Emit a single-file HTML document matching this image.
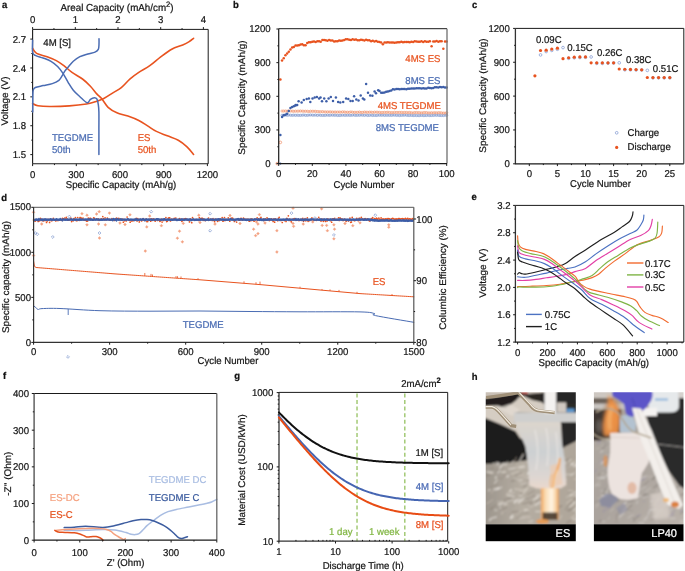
<!DOCTYPE html>
<html><head><meta charset="utf-8"><style>
html,body{margin:0;padding:0;background:#fff;width:685px;height:571px;overflow:hidden}
svg{display:block;will-change:transform}
text{font-family:"Liberation Sans", sans-serif;text-rendering:geometricPrecision;stroke:currentColor;stroke-width:0.22px}
</style></head><body>
<svg width="685" height="571" viewBox="0 0 685 571">
<rect width="685" height="571" fill="#fff"/>
<text x="2.00" y="8.30" font-size="9.5" text-anchor="start" fill="#111" color="#111" font-weight="bold" transform="translate(2.00 4.90) scale(1 1.035) translate(-2.00 -4.90)">a</text>
<line x1="32.60" y1="29.40" x2="208.20" y2="29.40" stroke="#1a1a1a" stroke-width="1"/>
<line x1="208.20" y1="29.40" x2="208.20" y2="163.80" stroke="#1a1a1a" stroke-width="1"/>
<line x1="32.60" y1="29.40" x2="32.60" y2="163.80" stroke="#1a1a1a" stroke-width="1.1"/>
<line x1="32.60" y1="163.80" x2="208.20" y2="163.80" stroke="#1a1a1a" stroke-width="1.1"/>
<line x1="32.60" y1="29.40" x2="32.60" y2="27.10" stroke="#1a1a1a" stroke-width="1"/>
<text x="32.60" y="23.24" font-size="9.6" text-anchor="middle" fill="#161616" color="#161616" font-weight="normal" transform="translate(32.60 19.80) scale(1 1.035) translate(-32.60 -19.80)">0</text>
<line x1="53.95" y1="29.40" x2="53.95" y2="28.10" stroke="#1a1a1a" stroke-width="1"/>
<line x1="75.30" y1="29.40" x2="75.30" y2="27.10" stroke="#1a1a1a" stroke-width="1"/>
<text x="75.30" y="23.24" font-size="9.6" text-anchor="middle" fill="#161616" color="#161616" font-weight="normal" transform="translate(75.30 19.80) scale(1 1.035) translate(-75.30 -19.80)">1</text>
<line x1="96.65" y1="29.40" x2="96.65" y2="28.10" stroke="#1a1a1a" stroke-width="1"/>
<line x1="118.00" y1="29.40" x2="118.00" y2="27.10" stroke="#1a1a1a" stroke-width="1"/>
<text x="118.00" y="23.24" font-size="9.6" text-anchor="middle" fill="#161616" color="#161616" font-weight="normal" transform="translate(118.00 19.80) scale(1 1.035) translate(-118.00 -19.80)">2</text>
<line x1="139.35" y1="29.40" x2="139.35" y2="28.10" stroke="#1a1a1a" stroke-width="1"/>
<line x1="160.70" y1="29.40" x2="160.70" y2="27.10" stroke="#1a1a1a" stroke-width="1"/>
<text x="160.70" y="23.24" font-size="9.6" text-anchor="middle" fill="#161616" color="#161616" font-weight="normal" transform="translate(160.70 19.80) scale(1 1.035) translate(-160.70 -19.80)">3</text>
<line x1="182.05" y1="29.40" x2="182.05" y2="28.10" stroke="#1a1a1a" stroke-width="1"/>
<line x1="203.40" y1="29.40" x2="203.40" y2="27.10" stroke="#1a1a1a" stroke-width="1"/>
<text x="203.40" y="23.24" font-size="9.6" text-anchor="middle" fill="#161616" color="#161616" font-weight="normal" transform="translate(203.40 19.80) scale(1 1.035) translate(-203.40 -19.80)">4</text>
<text x="117.00" y="10.81" font-size="9.8" text-anchor="middle" fill="#161616" color="#161616" font-weight="normal" transform="translate(117.00 7.30) scale(1 1.035) translate(-117.00 -7.30)">Areal Capacity (mAh/cm<tspan font-size="7.6" dy="-4.2">2</tspan><tspan dy="4.2">)</tspan></text>
<line x1="32.60" y1="39.10" x2="30.30" y2="39.10" stroke="#1a1a1a" stroke-width="1"/>
<text x="26.00" y="42.54" font-size="9.6" text-anchor="end" fill="#161616" color="#161616" font-weight="normal" transform="translate(26.00 39.10) scale(1 1.035) translate(-26.00 -39.10)">2.7</text>
<line x1="32.60" y1="67.98" x2="30.30" y2="67.98" stroke="#1a1a1a" stroke-width="1"/>
<text x="26.00" y="71.41" font-size="9.6" text-anchor="end" fill="#161616" color="#161616" font-weight="normal" transform="translate(26.00 67.98) scale(1 1.035) translate(-26.00 -67.98)">2.4</text>
<line x1="32.60" y1="96.85" x2="30.30" y2="96.85" stroke="#1a1a1a" stroke-width="1"/>
<text x="26.00" y="100.29" font-size="9.6" text-anchor="end" fill="#161616" color="#161616" font-weight="normal" transform="translate(26.00 96.85) scale(1 1.035) translate(-26.00 -96.85)">2.1</text>
<line x1="32.60" y1="125.73" x2="30.30" y2="125.73" stroke="#1a1a1a" stroke-width="1"/>
<text x="26.00" y="129.16" font-size="9.6" text-anchor="end" fill="#161616" color="#161616" font-weight="normal" transform="translate(26.00 125.73) scale(1 1.035) translate(-26.00 -125.73)">1.8</text>
<line x1="32.60" y1="154.60" x2="30.30" y2="154.60" stroke="#1a1a1a" stroke-width="1"/>
<text x="26.00" y="158.04" font-size="9.6" text-anchor="end" fill="#161616" color="#161616" font-weight="normal" transform="translate(26.00 154.60) scale(1 1.035) translate(-26.00 -154.60)">1.5</text>
<line x1="32.60" y1="53.54" x2="31.30" y2="53.54" stroke="#1a1a1a" stroke-width="1"/>
<line x1="32.60" y1="82.41" x2="31.30" y2="82.41" stroke="#1a1a1a" stroke-width="1"/>
<line x1="32.60" y1="111.29" x2="31.30" y2="111.29" stroke="#1a1a1a" stroke-width="1"/>
<line x1="32.60" y1="140.16" x2="31.30" y2="140.16" stroke="#1a1a1a" stroke-width="1"/>
<text x="4.20" y="104.44" font-size="9.6" text-anchor="middle" fill="#161616" color="#161616" font-weight="normal" transform="translate(4.20 101.00) scale(1 1.035) translate(-4.20 -101.00) rotate(-90 4.20 101.00)">Voltage (V)</text>
<line x1="32.60" y1="163.80" x2="32.60" y2="166.10" stroke="#1a1a1a" stroke-width="1"/>
<text x="32.60" y="178.14" font-size="9.6" text-anchor="middle" fill="#161616" color="#161616" font-weight="normal" transform="translate(32.60 174.70) scale(1 1.035) translate(-32.60 -174.70)">0</text>
<line x1="76.30" y1="163.80" x2="76.30" y2="166.10" stroke="#1a1a1a" stroke-width="1"/>
<text x="76.30" y="178.14" font-size="9.6" text-anchor="middle" fill="#161616" color="#161616" font-weight="normal" transform="translate(76.30 174.70) scale(1 1.035) translate(-76.30 -174.70)">300</text>
<line x1="120.00" y1="163.80" x2="120.00" y2="166.10" stroke="#1a1a1a" stroke-width="1"/>
<text x="120.00" y="178.14" font-size="9.6" text-anchor="middle" fill="#161616" color="#161616" font-weight="normal" transform="translate(120.00 174.70) scale(1 1.035) translate(-120.00 -174.70)">600</text>
<line x1="163.70" y1="163.80" x2="163.70" y2="166.10" stroke="#1a1a1a" stroke-width="1"/>
<text x="163.70" y="178.14" font-size="9.6" text-anchor="middle" fill="#161616" color="#161616" font-weight="normal" transform="translate(163.70 174.70) scale(1 1.035) translate(-163.70 -174.70)">900</text>
<line x1="207.40" y1="163.80" x2="207.40" y2="166.10" stroke="#1a1a1a" stroke-width="1"/>
<text x="207.40" y="178.14" font-size="9.6" text-anchor="middle" fill="#161616" color="#161616" font-weight="normal" transform="translate(207.40 174.70) scale(1 1.035) translate(-207.40 -174.70)">1200</text>
<line x1="54.45" y1="163.80" x2="54.45" y2="165.10" stroke="#1a1a1a" stroke-width="1"/>
<line x1="98.15" y1="163.80" x2="98.15" y2="165.10" stroke="#1a1a1a" stroke-width="1"/>
<line x1="141.85" y1="163.80" x2="141.85" y2="165.10" stroke="#1a1a1a" stroke-width="1"/>
<line x1="185.55" y1="163.80" x2="185.55" y2="165.10" stroke="#1a1a1a" stroke-width="1"/>
<text x="121.00" y="187.44" font-size="9.6" text-anchor="middle" fill="#161616" color="#161616" font-weight="normal" transform="translate(121.00 184.00) scale(1 1.035) translate(-121.00 -184.00)">Specific Capacity (mAh/g)</text>
<text x="43.30" y="45.84" font-size="9.6" text-anchor="start" fill="#161616" color="#161616" font-weight="normal" transform="translate(43.30 42.40) scale(1 1.035) translate(-43.30 -42.40)">4M [S]</text>
<text x="52.00" y="140.44" font-size="9.6" text-anchor="start" fill="#4a6cb3" color="#4a6cb3" font-weight="normal" transform="translate(52.00 137.00) scale(1 1.035) translate(-52.00 -137.00)">TEGDME</text>
<text x="52.00" y="153.04" font-size="9.6" text-anchor="start" fill="#4a6cb3" color="#4a6cb3" font-weight="normal" transform="translate(52.00 149.60) scale(1 1.035) translate(-52.00 -149.60)">50th</text>
<text x="137.70" y="140.94" font-size="9.6" text-anchor="start" fill="#e8531f" color="#e8531f" font-weight="normal" transform="translate(137.70 137.50) scale(1 1.035) translate(-137.70 -137.50)">ES</text>
<text x="137.70" y="152.84" font-size="9.6" text-anchor="start" fill="#e8531f" color="#e8531f" font-weight="normal" transform="translate(137.70 149.40) scale(1 1.035) translate(-137.70 -149.40)">50th</text>
<path d="M32.60,48.30 C33.27,49.15 34.18,52.00 36.60,53.40 C39.02,54.80 43.82,55.50 47.10,56.70 C50.38,57.90 53.45,59.07 56.30,60.60 C59.15,62.13 61.58,63.93 64.20,65.90 C66.82,67.87 68.95,70.22 72.00,72.40 C75.05,74.58 79.43,76.70 82.50,79.00 C85.57,81.30 87.98,83.68 90.40,86.20 C92.82,88.72 95.13,92.05 97.00,94.10 C98.87,96.15 99.75,96.30 101.60,98.50 C103.45,100.70 105.55,104.92 108.10,107.30 C110.65,109.68 113.60,111.33 116.90,112.80 C120.20,114.27 124.25,114.82 127.90,116.10 C131.55,117.38 135.52,118.87 138.80,120.50 C142.08,122.13 144.67,124.08 147.60,125.90 C150.53,127.72 153.12,129.75 156.40,131.40 C159.68,133.05 163.65,134.33 167.30,135.80 C170.95,137.27 175.02,138.37 178.30,140.20 C181.58,142.03 184.45,144.43 187.00,146.80 C189.55,149.17 192.50,153.13 193.60,154.40" fill="none" stroke="#e8531f" stroke-width="1.6" stroke-linejoin="round" stroke-linecap="round"/>
<path d="M32.60,103.50 C33.48,103.87 35.05,105.20 37.90,105.70 C40.75,106.20 44.45,106.47 49.70,106.50 C54.95,106.53 63.27,106.32 69.40,105.90 C75.53,105.48 82.23,104.68 86.50,104.00 C90.77,103.32 92.12,102.72 95.00,101.80 C97.88,100.88 100.88,99.95 103.80,98.50 C106.72,97.05 109.58,94.92 112.50,93.10 C115.42,91.28 118.37,89.98 121.30,87.60 C124.23,85.22 127.18,81.35 130.10,78.80 C133.02,76.25 135.52,74.48 138.80,72.30 C142.08,70.12 146.15,68.27 149.80,65.70 C153.45,63.13 157.05,59.65 160.70,56.90 C164.35,54.15 168.03,51.20 171.70,49.20 C175.37,47.20 179.78,46.17 182.70,44.90 C185.62,43.63 187.38,42.70 189.20,41.60 C191.02,40.50 192.87,38.85 193.60,38.30" fill="none" stroke="#e8531f" stroke-width="1.6" stroke-linejoin="round" stroke-linecap="round"/>
<path d="M32.70,112.00 C32.72,109.33 32.72,99.63 32.80,96.00 C32.88,92.37 32.78,91.62 33.20,90.20 C33.62,88.78 33.65,88.27 35.30,87.50 C36.95,86.73 40.27,86.25 43.10,85.60 C45.93,84.95 49.67,84.48 52.30,83.60 C54.93,82.72 57.25,81.62 58.90,80.30 C60.55,78.98 61.22,77.23 62.20,75.70 C63.18,74.17 63.82,72.52 64.80,71.10 C65.78,69.68 66.68,68.83 68.10,67.20 C69.52,65.57 71.33,63.05 73.30,61.30 C75.27,59.55 77.48,57.92 79.90,56.70 C82.32,55.48 85.28,54.77 87.80,54.00 C90.32,53.23 93.25,52.87 95.00,52.10 C96.75,51.33 97.63,50.72 98.30,49.40 C98.97,48.08 98.88,45.98 99.00,44.20 C99.12,42.42 99.00,39.62 99.00,38.70" fill="none" stroke="#4a6cb3" stroke-width="1.5" stroke-linejoin="round" stroke-linecap="round"/>
<path d="M32.60,40.30 C32.60,42.28 32.15,49.68 32.60,52.20 C33.05,54.72 33.55,54.43 35.30,55.40 C37.05,56.37 40.48,57.02 43.10,58.00 C45.72,58.98 48.58,59.88 51.00,61.30 C53.42,62.72 55.63,64.53 57.60,66.50 C59.57,68.47 61.05,70.47 62.80,73.10 C64.55,75.73 66.35,79.45 68.10,82.30 C69.85,85.15 71.33,87.80 73.30,90.20 C75.27,92.60 77.60,94.60 79.90,96.70 C82.20,98.80 85.35,102.35 87.10,102.80 C88.85,103.25 89.18,100.23 90.40,99.40 C91.62,98.57 93.30,97.83 94.40,97.80 C95.50,97.77 96.35,98.07 97.00,99.20 C97.65,100.33 97.98,102.47 98.30,104.60 C98.62,106.73 98.80,107.77 98.90,112.00 C99.00,116.23 98.90,122.93 98.90,130.00 C98.90,137.07 98.90,150.33 98.90,154.40" fill="none" stroke="#4a6cb3" stroke-width="1.5" stroke-linejoin="round" stroke-linecap="round"/>
<text x="233.00" y="8.30" font-size="9.5" text-anchor="start" fill="#111" color="#111" font-weight="bold" transform="translate(233.00 4.90) scale(1 1.035) translate(-233.00 -4.90)">b</text>
<circle cx="282.06" cy="115.22" r="1.1" fill="none" stroke="#6f8cc8" stroke-width="0.6"/>
<circle cx="283.74" cy="115.30" r="1.1" fill="none" stroke="#6f8cc8" stroke-width="0.6"/>
<circle cx="285.42" cy="115.08" r="1.1" fill="none" stroke="#6f8cc8" stroke-width="0.6"/>
<circle cx="287.10" cy="115.35" r="1.1" fill="none" stroke="#6f8cc8" stroke-width="0.6"/>
<circle cx="288.78" cy="115.14" r="1.1" fill="none" stroke="#6f8cc8" stroke-width="0.6"/>
<circle cx="290.46" cy="115.22" r="1.1" fill="none" stroke="#6f8cc8" stroke-width="0.6"/>
<circle cx="292.14" cy="115.36" r="1.1" fill="none" stroke="#6f8cc8" stroke-width="0.6"/>
<circle cx="293.82" cy="115.16" r="1.1" fill="none" stroke="#6f8cc8" stroke-width="0.6"/>
<circle cx="295.50" cy="115.38" r="1.1" fill="none" stroke="#6f8cc8" stroke-width="0.6"/>
<circle cx="297.18" cy="115.20" r="1.1" fill="none" stroke="#6f8cc8" stroke-width="0.6"/>
<circle cx="298.86" cy="115.37" r="1.1" fill="none" stroke="#6f8cc8" stroke-width="0.6"/>
<circle cx="300.54" cy="115.36" r="1.1" fill="none" stroke="#6f8cc8" stroke-width="0.6"/>
<circle cx="302.22" cy="115.22" r="1.1" fill="none" stroke="#6f8cc8" stroke-width="0.6"/>
<circle cx="303.90" cy="115.04" r="1.1" fill="none" stroke="#6f8cc8" stroke-width="0.6"/>
<circle cx="305.58" cy="115.36" r="1.1" fill="none" stroke="#6f8cc8" stroke-width="0.6"/>
<circle cx="307.26" cy="115.32" r="1.1" fill="none" stroke="#6f8cc8" stroke-width="0.6"/>
<circle cx="308.94" cy="115.14" r="1.1" fill="none" stroke="#6f8cc8" stroke-width="0.6"/>
<circle cx="310.62" cy="115.00" r="1.1" fill="none" stroke="#6f8cc8" stroke-width="0.6"/>
<circle cx="312.30" cy="115.17" r="1.1" fill="none" stroke="#6f8cc8" stroke-width="0.6"/>
<circle cx="313.98" cy="115.25" r="1.1" fill="none" stroke="#6f8cc8" stroke-width="0.6"/>
<circle cx="315.66" cy="115.00" r="1.1" fill="none" stroke="#6f8cc8" stroke-width="0.6"/>
<circle cx="317.34" cy="115.42" r="1.1" fill="none" stroke="#6f8cc8" stroke-width="0.6"/>
<circle cx="319.02" cy="115.06" r="1.1" fill="none" stroke="#6f8cc8" stroke-width="0.6"/>
<circle cx="320.70" cy="115.32" r="1.1" fill="none" stroke="#6f8cc8" stroke-width="0.6"/>
<circle cx="322.38" cy="115.38" r="1.1" fill="none" stroke="#6f8cc8" stroke-width="0.6"/>
<circle cx="324.06" cy="115.40" r="1.1" fill="none" stroke="#6f8cc8" stroke-width="0.6"/>
<circle cx="325.74" cy="115.32" r="1.1" fill="none" stroke="#6f8cc8" stroke-width="0.6"/>
<circle cx="327.42" cy="115.09" r="1.1" fill="none" stroke="#6f8cc8" stroke-width="0.6"/>
<circle cx="329.10" cy="115.38" r="1.1" fill="none" stroke="#6f8cc8" stroke-width="0.6"/>
<circle cx="330.78" cy="115.20" r="1.1" fill="none" stroke="#6f8cc8" stroke-width="0.6"/>
<circle cx="332.46" cy="115.18" r="1.1" fill="none" stroke="#6f8cc8" stroke-width="0.6"/>
<circle cx="334.14" cy="115.31" r="1.1" fill="none" stroke="#6f8cc8" stroke-width="0.6"/>
<circle cx="335.82" cy="115.23" r="1.1" fill="none" stroke="#6f8cc8" stroke-width="0.6"/>
<circle cx="337.50" cy="115.45" r="1.1" fill="none" stroke="#6f8cc8" stroke-width="0.6"/>
<circle cx="339.18" cy="115.46" r="1.1" fill="none" stroke="#6f8cc8" stroke-width="0.6"/>
<circle cx="340.86" cy="115.39" r="1.1" fill="none" stroke="#6f8cc8" stroke-width="0.6"/>
<circle cx="342.54" cy="115.18" r="1.1" fill="none" stroke="#6f8cc8" stroke-width="0.6"/>
<circle cx="344.22" cy="115.30" r="1.1" fill="none" stroke="#6f8cc8" stroke-width="0.6"/>
<circle cx="345.90" cy="115.36" r="1.1" fill="none" stroke="#6f8cc8" stroke-width="0.6"/>
<circle cx="347.58" cy="115.24" r="1.1" fill="none" stroke="#6f8cc8" stroke-width="0.6"/>
<circle cx="349.26" cy="115.30" r="1.1" fill="none" stroke="#6f8cc8" stroke-width="0.6"/>
<circle cx="350.94" cy="115.37" r="1.1" fill="none" stroke="#6f8cc8" stroke-width="0.6"/>
<circle cx="352.62" cy="115.15" r="1.1" fill="none" stroke="#6f8cc8" stroke-width="0.6"/>
<circle cx="354.30" cy="115.20" r="1.1" fill="none" stroke="#6f8cc8" stroke-width="0.6"/>
<circle cx="355.98" cy="115.41" r="1.1" fill="none" stroke="#6f8cc8" stroke-width="0.6"/>
<circle cx="357.66" cy="115.26" r="1.1" fill="none" stroke="#6f8cc8" stroke-width="0.6"/>
<circle cx="359.34" cy="115.29" r="1.1" fill="none" stroke="#6f8cc8" stroke-width="0.6"/>
<circle cx="361.02" cy="115.13" r="1.1" fill="none" stroke="#6f8cc8" stroke-width="0.6"/>
<circle cx="362.70" cy="115.20" r="1.1" fill="none" stroke="#6f8cc8" stroke-width="0.6"/>
<circle cx="364.38" cy="115.40" r="1.1" fill="none" stroke="#6f8cc8" stroke-width="0.6"/>
<circle cx="366.06" cy="115.10" r="1.1" fill="none" stroke="#6f8cc8" stroke-width="0.6"/>
<circle cx="367.74" cy="115.49" r="1.1" fill="none" stroke="#6f8cc8" stroke-width="0.6"/>
<circle cx="369.42" cy="115.36" r="1.1" fill="none" stroke="#6f8cc8" stroke-width="0.6"/>
<circle cx="371.10" cy="115.21" r="1.1" fill="none" stroke="#6f8cc8" stroke-width="0.6"/>
<circle cx="372.78" cy="115.48" r="1.1" fill="none" stroke="#6f8cc8" stroke-width="0.6"/>
<circle cx="374.46" cy="115.33" r="1.1" fill="none" stroke="#6f8cc8" stroke-width="0.6"/>
<circle cx="376.14" cy="115.54" r="1.1" fill="none" stroke="#6f8cc8" stroke-width="0.6"/>
<circle cx="377.82" cy="115.26" r="1.1" fill="none" stroke="#6f8cc8" stroke-width="0.6"/>
<circle cx="379.50" cy="115.22" r="1.1" fill="none" stroke="#6f8cc8" stroke-width="0.6"/>
<circle cx="381.18" cy="115.31" r="1.1" fill="none" stroke="#6f8cc8" stroke-width="0.6"/>
<circle cx="382.86" cy="115.18" r="1.1" fill="none" stroke="#6f8cc8" stroke-width="0.6"/>
<circle cx="384.54" cy="115.43" r="1.1" fill="none" stroke="#6f8cc8" stroke-width="0.6"/>
<circle cx="386.22" cy="115.27" r="1.1" fill="none" stroke="#6f8cc8" stroke-width="0.6"/>
<circle cx="387.90" cy="115.31" r="1.1" fill="none" stroke="#6f8cc8" stroke-width="0.6"/>
<circle cx="389.58" cy="115.32" r="1.1" fill="none" stroke="#6f8cc8" stroke-width="0.6"/>
<circle cx="391.26" cy="115.38" r="1.1" fill="none" stroke="#6f8cc8" stroke-width="0.6"/>
<circle cx="392.94" cy="115.21" r="1.1" fill="none" stroke="#6f8cc8" stroke-width="0.6"/>
<circle cx="394.62" cy="115.17" r="1.1" fill="none" stroke="#6f8cc8" stroke-width="0.6"/>
<circle cx="396.30" cy="115.38" r="1.1" fill="none" stroke="#6f8cc8" stroke-width="0.6"/>
<circle cx="397.98" cy="115.30" r="1.1" fill="none" stroke="#6f8cc8" stroke-width="0.6"/>
<circle cx="399.66" cy="115.58" r="1.1" fill="none" stroke="#6f8cc8" stroke-width="0.6"/>
<circle cx="401.34" cy="115.29" r="1.1" fill="none" stroke="#6f8cc8" stroke-width="0.6"/>
<circle cx="403.02" cy="115.32" r="1.1" fill="none" stroke="#6f8cc8" stroke-width="0.6"/>
<circle cx="404.70" cy="115.17" r="1.1" fill="none" stroke="#6f8cc8" stroke-width="0.6"/>
<circle cx="406.38" cy="115.25" r="1.1" fill="none" stroke="#6f8cc8" stroke-width="0.6"/>
<circle cx="408.06" cy="115.49" r="1.1" fill="none" stroke="#6f8cc8" stroke-width="0.6"/>
<circle cx="409.74" cy="115.45" r="1.1" fill="none" stroke="#6f8cc8" stroke-width="0.6"/>
<circle cx="411.42" cy="115.33" r="1.1" fill="none" stroke="#6f8cc8" stroke-width="0.6"/>
<circle cx="413.10" cy="115.62" r="1.1" fill="none" stroke="#6f8cc8" stroke-width="0.6"/>
<circle cx="414.78" cy="115.43" r="1.1" fill="none" stroke="#6f8cc8" stroke-width="0.6"/>
<circle cx="416.46" cy="115.56" r="1.1" fill="none" stroke="#6f8cc8" stroke-width="0.6"/>
<circle cx="418.14" cy="115.59" r="1.1" fill="none" stroke="#6f8cc8" stroke-width="0.6"/>
<circle cx="419.82" cy="115.62" r="1.1" fill="none" stroke="#6f8cc8" stroke-width="0.6"/>
<circle cx="421.50" cy="115.30" r="1.1" fill="none" stroke="#6f8cc8" stroke-width="0.6"/>
<circle cx="423.18" cy="115.59" r="1.1" fill="none" stroke="#6f8cc8" stroke-width="0.6"/>
<circle cx="424.86" cy="115.54" r="1.1" fill="none" stroke="#6f8cc8" stroke-width="0.6"/>
<circle cx="426.54" cy="115.48" r="1.1" fill="none" stroke="#6f8cc8" stroke-width="0.6"/>
<circle cx="428.22" cy="115.27" r="1.1" fill="none" stroke="#6f8cc8" stroke-width="0.6"/>
<circle cx="429.90" cy="115.63" r="1.1" fill="none" stroke="#6f8cc8" stroke-width="0.6"/>
<circle cx="431.58" cy="115.47" r="1.1" fill="none" stroke="#6f8cc8" stroke-width="0.6"/>
<circle cx="433.26" cy="115.42" r="1.1" fill="none" stroke="#6f8cc8" stroke-width="0.6"/>
<circle cx="434.94" cy="115.28" r="1.1" fill="none" stroke="#6f8cc8" stroke-width="0.6"/>
<circle cx="436.62" cy="115.31" r="1.1" fill="none" stroke="#6f8cc8" stroke-width="0.6"/>
<circle cx="438.30" cy="115.29" r="1.1" fill="none" stroke="#6f8cc8" stroke-width="0.6"/>
<circle cx="439.98" cy="115.56" r="1.1" fill="none" stroke="#6f8cc8" stroke-width="0.6"/>
<circle cx="441.66" cy="115.50" r="1.1" fill="none" stroke="#6f8cc8" stroke-width="0.6"/>
<circle cx="443.34" cy="115.53" r="1.1" fill="none" stroke="#6f8cc8" stroke-width="0.6"/>
<circle cx="445.02" cy="115.30" r="1.1" fill="none" stroke="#6f8cc8" stroke-width="0.6"/>
<circle cx="446.70" cy="115.27" r="1.1" fill="none" stroke="#6f8cc8" stroke-width="0.6"/>
<circle cx="282.06" cy="111.04" r="1.1" fill="none" stroke="#f08a60" stroke-width="0.6"/>
<circle cx="283.74" cy="111.06" r="1.1" fill="none" stroke="#f08a60" stroke-width="0.6"/>
<circle cx="285.42" cy="111.06" r="1.1" fill="none" stroke="#f08a60" stroke-width="0.6"/>
<circle cx="287.10" cy="111.10" r="1.1" fill="none" stroke="#f08a60" stroke-width="0.6"/>
<circle cx="288.78" cy="111.01" r="1.1" fill="none" stroke="#f08a60" stroke-width="0.6"/>
<circle cx="290.46" cy="111.00" r="1.1" fill="none" stroke="#f08a60" stroke-width="0.6"/>
<circle cx="292.14" cy="111.18" r="1.1" fill="none" stroke="#f08a60" stroke-width="0.6"/>
<circle cx="293.82" cy="111.32" r="1.1" fill="none" stroke="#f08a60" stroke-width="0.6"/>
<circle cx="295.50" cy="111.17" r="1.1" fill="none" stroke="#f08a60" stroke-width="0.6"/>
<circle cx="297.18" cy="111.22" r="1.1" fill="none" stroke="#f08a60" stroke-width="0.6"/>
<circle cx="298.86" cy="111.17" r="1.1" fill="none" stroke="#f08a60" stroke-width="0.6"/>
<circle cx="300.54" cy="111.02" r="1.1" fill="none" stroke="#f08a60" stroke-width="0.6"/>
<circle cx="302.22" cy="111.17" r="1.1" fill="none" stroke="#f08a60" stroke-width="0.6"/>
<circle cx="303.90" cy="111.28" r="1.1" fill="none" stroke="#f08a60" stroke-width="0.6"/>
<circle cx="305.58" cy="111.27" r="1.1" fill="none" stroke="#f08a60" stroke-width="0.6"/>
<circle cx="307.26" cy="111.27" r="1.1" fill="none" stroke="#f08a60" stroke-width="0.6"/>
<circle cx="308.94" cy="111.58" r="1.1" fill="none" stroke="#f08a60" stroke-width="0.6"/>
<circle cx="310.62" cy="111.24" r="1.1" fill="none" stroke="#f08a60" stroke-width="0.6"/>
<circle cx="312.30" cy="111.32" r="1.1" fill="none" stroke="#f08a60" stroke-width="0.6"/>
<circle cx="313.98" cy="111.31" r="1.1" fill="none" stroke="#f08a60" stroke-width="0.6"/>
<circle cx="315.66" cy="111.38" r="1.1" fill="none" stroke="#f08a60" stroke-width="0.6"/>
<circle cx="317.34" cy="111.59" r="1.1" fill="none" stroke="#f08a60" stroke-width="0.6"/>
<circle cx="319.02" cy="111.62" r="1.1" fill="none" stroke="#f08a60" stroke-width="0.6"/>
<circle cx="320.70" cy="111.78" r="1.1" fill="none" stroke="#f08a60" stroke-width="0.6"/>
<circle cx="322.38" cy="111.58" r="1.1" fill="none" stroke="#f08a60" stroke-width="0.6"/>
<circle cx="324.06" cy="111.86" r="1.1" fill="none" stroke="#f08a60" stroke-width="0.6"/>
<circle cx="325.74" cy="111.89" r="1.1" fill="none" stroke="#f08a60" stroke-width="0.6"/>
<circle cx="327.42" cy="111.86" r="1.1" fill="none" stroke="#f08a60" stroke-width="0.6"/>
<circle cx="329.10" cy="111.91" r="1.1" fill="none" stroke="#f08a60" stroke-width="0.6"/>
<circle cx="330.78" cy="111.86" r="1.1" fill="none" stroke="#f08a60" stroke-width="0.6"/>
<circle cx="332.46" cy="112.02" r="1.1" fill="none" stroke="#f08a60" stroke-width="0.6"/>
<circle cx="334.14" cy="112.08" r="1.1" fill="none" stroke="#f08a60" stroke-width="0.6"/>
<circle cx="335.82" cy="112.04" r="1.1" fill="none" stroke="#f08a60" stroke-width="0.6"/>
<circle cx="337.50" cy="112.10" r="1.1" fill="none" stroke="#f08a60" stroke-width="0.6"/>
<circle cx="339.18" cy="112.01" r="1.1" fill="none" stroke="#f08a60" stroke-width="0.6"/>
<circle cx="340.86" cy="112.19" r="1.1" fill="none" stroke="#f08a60" stroke-width="0.6"/>
<circle cx="342.54" cy="111.84" r="1.1" fill="none" stroke="#f08a60" stroke-width="0.6"/>
<circle cx="344.22" cy="111.99" r="1.1" fill="none" stroke="#f08a60" stroke-width="0.6"/>
<circle cx="345.90" cy="112.23" r="1.1" fill="none" stroke="#f08a60" stroke-width="0.6"/>
<circle cx="347.58" cy="112.20" r="1.1" fill="none" stroke="#f08a60" stroke-width="0.6"/>
<circle cx="349.26" cy="112.31" r="1.1" fill="none" stroke="#f08a60" stroke-width="0.6"/>
<circle cx="350.94" cy="111.93" r="1.1" fill="none" stroke="#f08a60" stroke-width="0.6"/>
<circle cx="352.62" cy="112.18" r="1.1" fill="none" stroke="#f08a60" stroke-width="0.6"/>
<circle cx="354.30" cy="112.36" r="1.1" fill="none" stroke="#f08a60" stroke-width="0.6"/>
<circle cx="355.98" cy="112.30" r="1.1" fill="none" stroke="#f08a60" stroke-width="0.6"/>
<circle cx="357.66" cy="112.36" r="1.1" fill="none" stroke="#f08a60" stroke-width="0.6"/>
<circle cx="359.34" cy="112.02" r="1.1" fill="none" stroke="#f08a60" stroke-width="0.6"/>
<circle cx="361.02" cy="112.40" r="1.1" fill="none" stroke="#f08a60" stroke-width="0.6"/>
<circle cx="362.70" cy="112.46" r="1.1" fill="none" stroke="#f08a60" stroke-width="0.6"/>
<circle cx="364.38" cy="112.05" r="1.1" fill="none" stroke="#f08a60" stroke-width="0.6"/>
<circle cx="366.06" cy="112.19" r="1.1" fill="none" stroke="#f08a60" stroke-width="0.6"/>
<circle cx="367.74" cy="112.35" r="1.1" fill="none" stroke="#f08a60" stroke-width="0.6"/>
<circle cx="369.42" cy="112.18" r="1.1" fill="none" stroke="#f08a60" stroke-width="0.6"/>
<circle cx="371.10" cy="112.19" r="1.1" fill="none" stroke="#f08a60" stroke-width="0.6"/>
<circle cx="372.78" cy="112.46" r="1.1" fill="none" stroke="#f08a60" stroke-width="0.6"/>
<circle cx="374.46" cy="112.13" r="1.1" fill="none" stroke="#f08a60" stroke-width="0.6"/>
<circle cx="376.14" cy="112.22" r="1.1" fill="none" stroke="#f08a60" stroke-width="0.6"/>
<circle cx="377.82" cy="112.26" r="1.1" fill="none" stroke="#f08a60" stroke-width="0.6"/>
<circle cx="379.50" cy="112.38" r="1.1" fill="none" stroke="#f08a60" stroke-width="0.6"/>
<circle cx="381.18" cy="112.61" r="1.1" fill="none" stroke="#f08a60" stroke-width="0.6"/>
<circle cx="382.86" cy="112.51" r="1.1" fill="none" stroke="#f08a60" stroke-width="0.6"/>
<circle cx="384.54" cy="112.34" r="1.1" fill="none" stroke="#f08a60" stroke-width="0.6"/>
<circle cx="386.22" cy="112.46" r="1.1" fill="none" stroke="#f08a60" stroke-width="0.6"/>
<circle cx="387.90" cy="112.23" r="1.1" fill="none" stroke="#f08a60" stroke-width="0.6"/>
<circle cx="389.58" cy="112.53" r="1.1" fill="none" stroke="#f08a60" stroke-width="0.6"/>
<circle cx="391.26" cy="112.60" r="1.1" fill="none" stroke="#f08a60" stroke-width="0.6"/>
<circle cx="392.94" cy="112.63" r="1.1" fill="none" stroke="#f08a60" stroke-width="0.6"/>
<circle cx="394.62" cy="112.33" r="1.1" fill="none" stroke="#f08a60" stroke-width="0.6"/>
<circle cx="396.30" cy="112.53" r="1.1" fill="none" stroke="#f08a60" stroke-width="0.6"/>
<circle cx="397.98" cy="112.40" r="1.1" fill="none" stroke="#f08a60" stroke-width="0.6"/>
<circle cx="399.66" cy="112.47" r="1.1" fill="none" stroke="#f08a60" stroke-width="0.6"/>
<circle cx="401.34" cy="112.43" r="1.1" fill="none" stroke="#f08a60" stroke-width="0.6"/>
<circle cx="403.02" cy="112.58" r="1.1" fill="none" stroke="#f08a60" stroke-width="0.6"/>
<circle cx="404.70" cy="112.46" r="1.1" fill="none" stroke="#f08a60" stroke-width="0.6"/>
<circle cx="406.38" cy="112.47" r="1.1" fill="none" stroke="#f08a60" stroke-width="0.6"/>
<circle cx="408.06" cy="112.66" r="1.1" fill="none" stroke="#f08a60" stroke-width="0.6"/>
<circle cx="409.74" cy="112.43" r="1.1" fill="none" stroke="#f08a60" stroke-width="0.6"/>
<circle cx="411.42" cy="112.79" r="1.1" fill="none" stroke="#f08a60" stroke-width="0.6"/>
<circle cx="413.10" cy="112.81" r="1.1" fill="none" stroke="#f08a60" stroke-width="0.6"/>
<circle cx="414.78" cy="112.53" r="1.1" fill="none" stroke="#f08a60" stroke-width="0.6"/>
<circle cx="416.46" cy="112.53" r="1.1" fill="none" stroke="#f08a60" stroke-width="0.6"/>
<circle cx="418.14" cy="112.62" r="1.1" fill="none" stroke="#f08a60" stroke-width="0.6"/>
<circle cx="419.82" cy="112.69" r="1.1" fill="none" stroke="#f08a60" stroke-width="0.6"/>
<circle cx="421.50" cy="112.94" r="1.1" fill="none" stroke="#f08a60" stroke-width="0.6"/>
<circle cx="423.18" cy="112.67" r="1.1" fill="none" stroke="#f08a60" stroke-width="0.6"/>
<circle cx="424.86" cy="112.55" r="1.1" fill="none" stroke="#f08a60" stroke-width="0.6"/>
<circle cx="426.54" cy="112.59" r="1.1" fill="none" stroke="#f08a60" stroke-width="0.6"/>
<circle cx="428.22" cy="112.90" r="1.1" fill="none" stroke="#f08a60" stroke-width="0.6"/>
<circle cx="429.90" cy="112.88" r="1.1" fill="none" stroke="#f08a60" stroke-width="0.6"/>
<circle cx="431.58" cy="112.76" r="1.1" fill="none" stroke="#f08a60" stroke-width="0.6"/>
<circle cx="433.26" cy="112.85" r="1.1" fill="none" stroke="#f08a60" stroke-width="0.6"/>
<circle cx="434.94" cy="112.64" r="1.1" fill="none" stroke="#f08a60" stroke-width="0.6"/>
<circle cx="436.62" cy="112.86" r="1.1" fill="none" stroke="#f08a60" stroke-width="0.6"/>
<circle cx="438.30" cy="112.67" r="1.1" fill="none" stroke="#f08a60" stroke-width="0.6"/>
<circle cx="439.98" cy="112.68" r="1.1" fill="none" stroke="#f08a60" stroke-width="0.6"/>
<circle cx="441.66" cy="112.87" r="1.1" fill="none" stroke="#f08a60" stroke-width="0.6"/>
<circle cx="443.34" cy="113.11" r="1.1" fill="none" stroke="#f08a60" stroke-width="0.6"/>
<circle cx="445.02" cy="113.05" r="1.1" fill="none" stroke="#f08a60" stroke-width="0.6"/>
<circle cx="446.70" cy="112.79" r="1.1" fill="none" stroke="#f08a60" stroke-width="0.6"/>
<circle cx="280.38" cy="142.40" r="1.3" fill="none" stroke="#f08a60" stroke-width="0.7"/>
<circle cx="277.20" cy="163.60" r="1.3" fill="none" stroke="#f08a60" stroke-width="0.7"/>
<circle cx="295.70" cy="104.90" r="1.25" fill="#3d5ea8" stroke="none" stroke-width="0.8"/>
<circle cx="298.60" cy="101.30" r="1.25" fill="#3d5ea8" stroke="none" stroke-width="0.8"/>
<circle cx="301.60" cy="102.40" r="1.25" fill="#3d5ea8" stroke="none" stroke-width="0.8"/>
<circle cx="303.80" cy="100.10" r="1.25" fill="#3d5ea8" stroke="none" stroke-width="0.8"/>
<circle cx="306.70" cy="99.10" r="1.25" fill="#3d5ea8" stroke="none" stroke-width="0.8"/>
<circle cx="308.90" cy="98.40" r="1.25" fill="#3d5ea8" stroke="none" stroke-width="0.8"/>
<circle cx="310.30" cy="102.00" r="1.25" fill="#3d5ea8" stroke="none" stroke-width="0.8"/>
<circle cx="312.50" cy="98.40" r="1.25" fill="#3d5ea8" stroke="none" stroke-width="0.8"/>
<circle cx="314.70" cy="97.60" r="1.25" fill="#3d5ea8" stroke="none" stroke-width="0.8"/>
<circle cx="316.90" cy="96.90" r="1.25" fill="#3d5ea8" stroke="none" stroke-width="0.8"/>
<circle cx="319.10" cy="98.40" r="1.25" fill="#3d5ea8" stroke="none" stroke-width="0.8"/>
<circle cx="320.50" cy="97.60" r="1.25" fill="#3d5ea8" stroke="none" stroke-width="0.8"/>
<circle cx="322.00" cy="101.30" r="1.25" fill="#3d5ea8" stroke="none" stroke-width="0.8"/>
<circle cx="324.20" cy="98.40" r="1.25" fill="#3d5ea8" stroke="none" stroke-width="0.8"/>
<circle cx="326.40" cy="101.30" r="1.25" fill="#3d5ea8" stroke="none" stroke-width="0.8"/>
<circle cx="328.60" cy="98.40" r="1.25" fill="#3d5ea8" stroke="none" stroke-width="0.8"/>
<circle cx="330.80" cy="96.90" r="1.25" fill="#3d5ea8" stroke="none" stroke-width="0.8"/>
<circle cx="333.00" cy="101.00" r="1.25" fill="#3d5ea8" stroke="none" stroke-width="0.8"/>
<circle cx="335.90" cy="97.60" r="1.25" fill="#3d5ea8" stroke="none" stroke-width="0.8"/>
<circle cx="338.10" cy="102.00" r="1.25" fill="#3d5ea8" stroke="none" stroke-width="0.8"/>
<circle cx="340.30" cy="102.40" r="1.25" fill="#3d5ea8" stroke="none" stroke-width="0.8"/>
<circle cx="343.20" cy="102.00" r="1.25" fill="#3d5ea8" stroke="none" stroke-width="0.8"/>
<circle cx="346.10" cy="98.40" r="1.25" fill="#3d5ea8" stroke="none" stroke-width="0.8"/>
<circle cx="348.30" cy="99.10" r="1.25" fill="#3d5ea8" stroke="none" stroke-width="0.8"/>
<circle cx="350.50" cy="101.00" r="1.25" fill="#3d5ea8" stroke="none" stroke-width="0.8"/>
<circle cx="352.70" cy="101.00" r="1.25" fill="#3d5ea8" stroke="none" stroke-width="0.8"/>
<circle cx="354.10" cy="96.20" r="1.25" fill="#3d5ea8" stroke="none" stroke-width="0.8"/>
<circle cx="356.30" cy="99.50" r="1.25" fill="#3d5ea8" stroke="none" stroke-width="0.8"/>
<circle cx="358.50" cy="100.50" r="1.25" fill="#3d5ea8" stroke="none" stroke-width="0.8"/>
<circle cx="360.70" cy="95.40" r="1.25" fill="#3d5ea8" stroke="none" stroke-width="0.8"/>
<circle cx="362.90" cy="98.60" r="1.25" fill="#3d5ea8" stroke="none" stroke-width="0.8"/>
<circle cx="364.30" cy="99.50" r="1.25" fill="#3d5ea8" stroke="none" stroke-width="0.8"/>
<circle cx="366.10" cy="84.10" r="1.25" fill="#3d5ea8" stroke="none" stroke-width="0.8"/>
<circle cx="368.00" cy="92.80" r="1.25" fill="#3d5ea8" stroke="none" stroke-width="0.8"/>
<circle cx="370.20" cy="95.40" r="1.25" fill="#3d5ea8" stroke="none" stroke-width="0.8"/>
<circle cx="372.40" cy="95.70" r="1.25" fill="#3d5ea8" stroke="none" stroke-width="0.8"/>
<circle cx="374.60" cy="91.40" r="1.25" fill="#3d5ea8" stroke="none" stroke-width="0.8"/>
<circle cx="376.00" cy="93.20" r="1.25" fill="#3d5ea8" stroke="none" stroke-width="0.8"/>
<circle cx="378.20" cy="90.30" r="1.25" fill="#3d5ea8" stroke="none" stroke-width="0.8"/>
<circle cx="280.38" cy="135.11" r="1.25" fill="#3d5ea8" stroke="none" stroke-width="0.8"/>
<circle cx="282.06" cy="116.94" r="1.25" fill="#3d5ea8" stroke="none" stroke-width="0.8"/>
<circle cx="283.74" cy="115.37" r="1.25" fill="#3d5ea8" stroke="none" stroke-width="0.8"/>
<circle cx="285.42" cy="114.70" r="1.25" fill="#3d5ea8" stroke="none" stroke-width="0.8"/>
<circle cx="287.10" cy="113.69" r="1.25" fill="#3d5ea8" stroke="none" stroke-width="0.8"/>
<circle cx="288.78" cy="110.88" r="1.25" fill="#3d5ea8" stroke="none" stroke-width="0.8"/>
<circle cx="290.46" cy="108.08" r="1.25" fill="#3d5ea8" stroke="none" stroke-width="0.8"/>
<circle cx="292.14" cy="106.96" r="1.25" fill="#3d5ea8" stroke="none" stroke-width="0.8"/>
<circle cx="293.82" cy="106.17" r="1.25" fill="#3d5ea8" stroke="none" stroke-width="0.8"/>
<circle cx="295.50" cy="105.50" r="1.25" fill="#3d5ea8" stroke="none" stroke-width="0.8"/>
<circle cx="297.18" cy="105.05" r="1.25" fill="#3d5ea8" stroke="none" stroke-width="0.8"/>
<circle cx="280.38" cy="163.60" r="1.05" fill="#3d5ea8" stroke="none" stroke-width="0.8"/>
<circle cx="379.50" cy="91.09" r="1.25" fill="#3d5ea8" stroke="none" stroke-width="0.8"/>
<circle cx="381.18" cy="92.77" r="1.25" fill="#3d5ea8" stroke="none" stroke-width="0.8"/>
<circle cx="382.86" cy="92.85" r="1.25" fill="#3d5ea8" stroke="none" stroke-width="0.8"/>
<circle cx="384.54" cy="92.45" r="1.25" fill="#3d5ea8" stroke="none" stroke-width="0.8"/>
<circle cx="386.22" cy="91.81" r="1.25" fill="#3d5ea8" stroke="none" stroke-width="0.8"/>
<circle cx="387.90" cy="91.51" r="1.25" fill="#3d5ea8" stroke="none" stroke-width="0.8"/>
<circle cx="389.58" cy="90.97" r="1.25" fill="#3d5ea8" stroke="none" stroke-width="0.8"/>
<circle cx="391.26" cy="90.52" r="1.25" fill="#3d5ea8" stroke="none" stroke-width="0.8"/>
<circle cx="392.94" cy="89.19" r="1.25" fill="#3d5ea8" stroke="none" stroke-width="0.8"/>
<circle cx="394.62" cy="89.41" r="1.25" fill="#3d5ea8" stroke="none" stroke-width="0.8"/>
<circle cx="396.30" cy="88.99" r="1.25" fill="#3d5ea8" stroke="none" stroke-width="0.8"/>
<circle cx="397.98" cy="88.94" r="1.25" fill="#3d5ea8" stroke="none" stroke-width="0.8"/>
<circle cx="399.66" cy="89.35" r="1.25" fill="#3d5ea8" stroke="none" stroke-width="0.8"/>
<circle cx="401.34" cy="89.01" r="1.25" fill="#3d5ea8" stroke="none" stroke-width="0.8"/>
<circle cx="403.02" cy="88.99" r="1.25" fill="#3d5ea8" stroke="none" stroke-width="0.8"/>
<circle cx="404.70" cy="89.11" r="1.25" fill="#3d5ea8" stroke="none" stroke-width="0.8"/>
<circle cx="406.38" cy="89.18" r="1.25" fill="#3d5ea8" stroke="none" stroke-width="0.8"/>
<circle cx="408.06" cy="88.63" r="1.25" fill="#3d5ea8" stroke="none" stroke-width="0.8"/>
<circle cx="409.74" cy="88.72" r="1.25" fill="#3d5ea8" stroke="none" stroke-width="0.8"/>
<circle cx="411.42" cy="88.55" r="1.25" fill="#3d5ea8" stroke="none" stroke-width="0.8"/>
<circle cx="413.10" cy="88.49" r="1.25" fill="#3d5ea8" stroke="none" stroke-width="0.8"/>
<circle cx="414.78" cy="88.60" r="1.25" fill="#3d5ea8" stroke="none" stroke-width="0.8"/>
<circle cx="416.46" cy="88.29" r="1.25" fill="#3d5ea8" stroke="none" stroke-width="0.8"/>
<circle cx="418.14" cy="88.31" r="1.25" fill="#3d5ea8" stroke="none" stroke-width="0.8"/>
<circle cx="419.82" cy="88.19" r="1.25" fill="#3d5ea8" stroke="none" stroke-width="0.8"/>
<circle cx="421.50" cy="88.58" r="1.25" fill="#3d5ea8" stroke="none" stroke-width="0.8"/>
<circle cx="423.18" cy="88.27" r="1.25" fill="#3d5ea8" stroke="none" stroke-width="0.8"/>
<circle cx="424.86" cy="88.38" r="1.25" fill="#3d5ea8" stroke="none" stroke-width="0.8"/>
<circle cx="426.54" cy="88.39" r="1.25" fill="#3d5ea8" stroke="none" stroke-width="0.8"/>
<circle cx="428.22" cy="87.66" r="1.25" fill="#3d5ea8" stroke="none" stroke-width="0.8"/>
<circle cx="429.90" cy="87.90" r="1.25" fill="#3d5ea8" stroke="none" stroke-width="0.8"/>
<circle cx="431.58" cy="88.23" r="1.25" fill="#3d5ea8" stroke="none" stroke-width="0.8"/>
<circle cx="433.26" cy="88.08" r="1.25" fill="#3d5ea8" stroke="none" stroke-width="0.8"/>
<circle cx="434.94" cy="87.32" r="1.25" fill="#3d5ea8" stroke="none" stroke-width="0.8"/>
<circle cx="436.62" cy="87.25" r="1.25" fill="#3d5ea8" stroke="none" stroke-width="0.8"/>
<circle cx="438.30" cy="87.52" r="1.25" fill="#3d5ea8" stroke="none" stroke-width="0.8"/>
<circle cx="439.98" cy="87.10" r="1.25" fill="#3d5ea8" stroke="none" stroke-width="0.8"/>
<circle cx="441.66" cy="87.21" r="1.25" fill="#3d5ea8" stroke="none" stroke-width="0.8"/>
<circle cx="443.34" cy="86.99" r="1.25" fill="#3d5ea8" stroke="none" stroke-width="0.8"/>
<circle cx="445.02" cy="87.53" r="1.25" fill="#3d5ea8" stroke="none" stroke-width="0.8"/>
<circle cx="446.70" cy="87.59" r="1.25" fill="#3d5ea8" stroke="none" stroke-width="0.8"/>
<circle cx="280.38" cy="79.47" r="1.3" fill="#e8531f" stroke="none" stroke-width="0.8"/>
<circle cx="282.06" cy="60.61" r="1.25" fill="#e8531f" stroke="none" stroke-width="0.8"/>
<circle cx="283.74" cy="58.36" r="1.25" fill="#e8531f" stroke="none" stroke-width="0.8"/>
<circle cx="285.42" cy="55.28" r="1.25" fill="#e8531f" stroke="none" stroke-width="0.8"/>
<circle cx="287.10" cy="53.42" r="1.25" fill="#e8531f" stroke="none" stroke-width="0.8"/>
<circle cx="288.78" cy="51.75" r="1.25" fill="#e8531f" stroke="none" stroke-width="0.8"/>
<circle cx="290.46" cy="49.41" r="1.25" fill="#e8531f" stroke="none" stroke-width="0.8"/>
<circle cx="292.14" cy="47.54" r="1.25" fill="#e8531f" stroke="none" stroke-width="0.8"/>
<circle cx="293.82" cy="46.97" r="1.25" fill="#e8531f" stroke="none" stroke-width="0.8"/>
<circle cx="295.50" cy="45.42" r="1.25" fill="#e8531f" stroke="none" stroke-width="0.8"/>
<circle cx="297.18" cy="45.58" r="1.25" fill="#e8531f" stroke="none" stroke-width="0.8"/>
<circle cx="298.86" cy="45.16" r="1.25" fill="#e8531f" stroke="none" stroke-width="0.8"/>
<circle cx="300.54" cy="44.38" r="1.25" fill="#e8531f" stroke="none" stroke-width="0.8"/>
<circle cx="302.22" cy="44.29" r="1.25" fill="#e8531f" stroke="none" stroke-width="0.8"/>
<circle cx="303.90" cy="45.23" r="1.25" fill="#e8531f" stroke="none" stroke-width="0.8"/>
<circle cx="305.58" cy="45.21" r="1.25" fill="#e8531f" stroke="none" stroke-width="0.8"/>
<circle cx="307.26" cy="43.01" r="1.25" fill="#e8531f" stroke="none" stroke-width="0.8"/>
<circle cx="308.94" cy="42.27" r="1.25" fill="#e8531f" stroke="none" stroke-width="0.8"/>
<circle cx="310.62" cy="42.17" r="1.25" fill="#e8531f" stroke="none" stroke-width="0.8"/>
<circle cx="312.30" cy="41.84" r="1.25" fill="#e8531f" stroke="none" stroke-width="0.8"/>
<circle cx="313.98" cy="41.39" r="1.25" fill="#e8531f" stroke="none" stroke-width="0.8"/>
<circle cx="315.66" cy="41.93" r="1.25" fill="#e8531f" stroke="none" stroke-width="0.8"/>
<circle cx="317.34" cy="41.36" r="1.25" fill="#e8531f" stroke="none" stroke-width="0.8"/>
<circle cx="319.02" cy="41.37" r="1.25" fill="#e8531f" stroke="none" stroke-width="0.8"/>
<circle cx="320.70" cy="41.66" r="1.25" fill="#e8531f" stroke="none" stroke-width="0.8"/>
<circle cx="322.38" cy="40.03" r="1.25" fill="#e8531f" stroke="none" stroke-width="0.8"/>
<circle cx="324.06" cy="39.91" r="1.25" fill="#e8531f" stroke="none" stroke-width="0.8"/>
<circle cx="325.74" cy="40.15" r="1.25" fill="#e8531f" stroke="none" stroke-width="0.8"/>
<circle cx="327.42" cy="40.69" r="1.25" fill="#e8531f" stroke="none" stroke-width="0.8"/>
<circle cx="329.10" cy="40.01" r="1.25" fill="#e8531f" stroke="none" stroke-width="0.8"/>
<circle cx="330.78" cy="40.44" r="1.25" fill="#e8531f" stroke="none" stroke-width="0.8"/>
<circle cx="332.46" cy="40.54" r="1.25" fill="#e8531f" stroke="none" stroke-width="0.8"/>
<circle cx="334.14" cy="41.58" r="1.25" fill="#e8531f" stroke="none" stroke-width="0.8"/>
<circle cx="335.82" cy="41.24" r="1.25" fill="#e8531f" stroke="none" stroke-width="0.8"/>
<circle cx="337.50" cy="41.25" r="1.25" fill="#e8531f" stroke="none" stroke-width="0.8"/>
<circle cx="339.18" cy="40.39" r="1.25" fill="#e8531f" stroke="none" stroke-width="0.8"/>
<circle cx="340.86" cy="40.65" r="1.25" fill="#e8531f" stroke="none" stroke-width="0.8"/>
<circle cx="342.54" cy="40.47" r="1.25" fill="#e8531f" stroke="none" stroke-width="0.8"/>
<circle cx="344.22" cy="39.91" r="1.25" fill="#e8531f" stroke="none" stroke-width="0.8"/>
<circle cx="345.90" cy="39.17" r="1.25" fill="#e8531f" stroke="none" stroke-width="0.8"/>
<circle cx="347.58" cy="39.29" r="1.25" fill="#e8531f" stroke="none" stroke-width="0.8"/>
<circle cx="349.26" cy="39.83" r="1.25" fill="#e8531f" stroke="none" stroke-width="0.8"/>
<circle cx="350.94" cy="39.96" r="1.25" fill="#e8531f" stroke="none" stroke-width="0.8"/>
<circle cx="352.62" cy="39.30" r="1.25" fill="#e8531f" stroke="none" stroke-width="0.8"/>
<circle cx="354.30" cy="39.65" r="1.25" fill="#e8531f" stroke="none" stroke-width="0.8"/>
<circle cx="355.98" cy="39.57" r="1.25" fill="#e8531f" stroke="none" stroke-width="0.8"/>
<circle cx="357.66" cy="40.15" r="1.25" fill="#e8531f" stroke="none" stroke-width="0.8"/>
<circle cx="359.34" cy="40.21" r="1.25" fill="#e8531f" stroke="none" stroke-width="0.8"/>
<circle cx="361.02" cy="39.68" r="1.25" fill="#e8531f" stroke="none" stroke-width="0.8"/>
<circle cx="362.70" cy="39.95" r="1.25" fill="#e8531f" stroke="none" stroke-width="0.8"/>
<circle cx="364.38" cy="40.44" r="1.25" fill="#e8531f" stroke="none" stroke-width="0.8"/>
<circle cx="366.06" cy="39.85" r="1.25" fill="#e8531f" stroke="none" stroke-width="0.8"/>
<circle cx="367.74" cy="40.30" r="1.25" fill="#e8531f" stroke="none" stroke-width="0.8"/>
<circle cx="369.42" cy="40.33" r="1.25" fill="#e8531f" stroke="none" stroke-width="0.8"/>
<circle cx="371.10" cy="41.15" r="1.25" fill="#e8531f" stroke="none" stroke-width="0.8"/>
<circle cx="372.78" cy="40.68" r="1.25" fill="#e8531f" stroke="none" stroke-width="0.8"/>
<circle cx="374.46" cy="41.62" r="1.25" fill="#e8531f" stroke="none" stroke-width="0.8"/>
<circle cx="376.14" cy="41.12" r="1.25" fill="#e8531f" stroke="none" stroke-width="0.8"/>
<circle cx="377.82" cy="41.72" r="1.25" fill="#e8531f" stroke="none" stroke-width="0.8"/>
<circle cx="379.50" cy="42.04" r="1.25" fill="#e8531f" stroke="none" stroke-width="0.8"/>
<circle cx="381.18" cy="42.41" r="1.25" fill="#e8531f" stroke="none" stroke-width="0.8"/>
<circle cx="382.86" cy="44.21" r="1.25" fill="#e8531f" stroke="none" stroke-width="0.8"/>
<circle cx="384.54" cy="42.44" r="1.25" fill="#e8531f" stroke="none" stroke-width="0.8"/>
<circle cx="386.22" cy="42.57" r="1.25" fill="#e8531f" stroke="none" stroke-width="0.8"/>
<circle cx="387.90" cy="42.21" r="1.25" fill="#e8531f" stroke="none" stroke-width="0.8"/>
<circle cx="389.58" cy="42.47" r="1.25" fill="#e8531f" stroke="none" stroke-width="0.8"/>
<circle cx="391.26" cy="42.59" r="1.25" fill="#e8531f" stroke="none" stroke-width="0.8"/>
<circle cx="392.94" cy="42.54" r="1.25" fill="#e8531f" stroke="none" stroke-width="0.8"/>
<circle cx="394.62" cy="42.64" r="1.25" fill="#e8531f" stroke="none" stroke-width="0.8"/>
<circle cx="396.30" cy="42.50" r="1.25" fill="#e8531f" stroke="none" stroke-width="0.8"/>
<circle cx="397.98" cy="42.34" r="1.25" fill="#e8531f" stroke="none" stroke-width="0.8"/>
<circle cx="399.66" cy="42.28" r="1.25" fill="#e8531f" stroke="none" stroke-width="0.8"/>
<circle cx="401.34" cy="41.80" r="1.25" fill="#e8531f" stroke="none" stroke-width="0.8"/>
<circle cx="403.02" cy="42.15" r="1.25" fill="#e8531f" stroke="none" stroke-width="0.8"/>
<circle cx="404.70" cy="41.90" r="1.25" fill="#e8531f" stroke="none" stroke-width="0.8"/>
<circle cx="406.38" cy="42.12" r="1.25" fill="#e8531f" stroke="none" stroke-width="0.8"/>
<circle cx="408.06" cy="41.90" r="1.25" fill="#e8531f" stroke="none" stroke-width="0.8"/>
<circle cx="409.74" cy="42.13" r="1.25" fill="#e8531f" stroke="none" stroke-width="0.8"/>
<circle cx="411.42" cy="41.85" r="1.25" fill="#e8531f" stroke="none" stroke-width="0.8"/>
<circle cx="413.10" cy="42.00" r="1.25" fill="#e8531f" stroke="none" stroke-width="0.8"/>
<circle cx="414.78" cy="41.36" r="1.25" fill="#e8531f" stroke="none" stroke-width="0.8"/>
<circle cx="416.46" cy="41.54" r="1.25" fill="#e8531f" stroke="none" stroke-width="0.8"/>
<circle cx="418.14" cy="41.87" r="1.25" fill="#e8531f" stroke="none" stroke-width="0.8"/>
<circle cx="419.82" cy="41.63" r="1.25" fill="#e8531f" stroke="none" stroke-width="0.8"/>
<circle cx="421.50" cy="41.23" r="1.25" fill="#e8531f" stroke="none" stroke-width="0.8"/>
<circle cx="423.18" cy="41.98" r="1.25" fill="#e8531f" stroke="none" stroke-width="0.8"/>
<circle cx="424.86" cy="41.36" r="1.25" fill="#e8531f" stroke="none" stroke-width="0.8"/>
<circle cx="426.54" cy="41.71" r="1.25" fill="#e8531f" stroke="none" stroke-width="0.8"/>
<circle cx="428.22" cy="41.67" r="1.25" fill="#e8531f" stroke="none" stroke-width="0.8"/>
<circle cx="429.90" cy="41.37" r="1.25" fill="#e8531f" stroke="none" stroke-width="0.8"/>
<circle cx="431.58" cy="46.27" r="1.25" fill="#e8531f" stroke="none" stroke-width="0.8"/>
<circle cx="433.26" cy="41.60" r="1.25" fill="#e8531f" stroke="none" stroke-width="0.8"/>
<circle cx="434.94" cy="41.41" r="1.25" fill="#e8531f" stroke="none" stroke-width="0.8"/>
<circle cx="436.62" cy="41.11" r="1.25" fill="#e8531f" stroke="none" stroke-width="0.8"/>
<circle cx="438.30" cy="41.65" r="1.25" fill="#e8531f" stroke="none" stroke-width="0.8"/>
<circle cx="439.98" cy="41.17" r="1.25" fill="#e8531f" stroke="none" stroke-width="0.8"/>
<circle cx="441.66" cy="41.25" r="1.25" fill="#e8531f" stroke="none" stroke-width="0.8"/>
<circle cx="443.34" cy="48.85" r="1.25" fill="#e8531f" stroke="none" stroke-width="0.8"/>
<circle cx="445.02" cy="41.46" r="1.25" fill="#e8531f" stroke="none" stroke-width="0.8"/>
<circle cx="446.70" cy="41.48" r="1.25" fill="#e8531f" stroke="none" stroke-width="0.8"/>
<line x1="278.70" y1="28.70" x2="447.00" y2="28.70" stroke="#1a1a1a" stroke-width="1"/>
<line x1="447.00" y1="28.70" x2="447.00" y2="163.60" stroke="#7a7a7a" stroke-width="1.4"/>
<line x1="278.70" y1="28.70" x2="278.70" y2="164.10" stroke="#1a1a1a" stroke-width="1.2"/>
<line x1="278.70" y1="163.60" x2="447.00" y2="163.60" stroke="#1a1a1a" stroke-width="1.2"/>
<line x1="278.70" y1="163.60" x2="276.40" y2="163.60" stroke="#1a1a1a" stroke-width="1"/>
<text x="270.60" y="166.74" font-size="9.6" text-anchor="end" fill="#161616" color="#161616" font-weight="normal" transform="translate(270.60 163.30) scale(1 1.035) translate(-270.60 -163.30)">0</text>
<line x1="278.70" y1="129.95" x2="276.40" y2="129.95" stroke="#1a1a1a" stroke-width="1"/>
<text x="270.60" y="133.09" font-size="9.6" text-anchor="end" fill="#161616" color="#161616" font-weight="normal" transform="translate(270.60 129.65) scale(1 1.035) translate(-270.60 -129.65)">300</text>
<line x1="278.70" y1="96.30" x2="276.40" y2="96.30" stroke="#1a1a1a" stroke-width="1"/>
<text x="270.60" y="99.44" font-size="9.6" text-anchor="end" fill="#161616" color="#161616" font-weight="normal" transform="translate(270.60 96.00) scale(1 1.035) translate(-270.60 -96.00)">600</text>
<line x1="278.70" y1="62.65" x2="276.40" y2="62.65" stroke="#1a1a1a" stroke-width="1"/>
<text x="270.60" y="65.79" font-size="9.6" text-anchor="end" fill="#161616" color="#161616" font-weight="normal" transform="translate(270.60 62.35) scale(1 1.035) translate(-270.60 -62.35)">900</text>
<line x1="278.70" y1="29.00" x2="276.40" y2="29.00" stroke="#1a1a1a" stroke-width="1"/>
<text x="270.60" y="31.74" font-size="9.6" text-anchor="end" fill="#161616" color="#161616" font-weight="normal" transform="translate(270.60 28.30) scale(1 1.035) translate(-270.60 -28.30)">1200</text>
<line x1="278.70" y1="146.78" x2="277.40" y2="146.78" stroke="#1a1a1a" stroke-width="1"/>
<line x1="278.70" y1="113.12" x2="277.40" y2="113.12" stroke="#1a1a1a" stroke-width="1"/>
<line x1="278.70" y1="79.47" x2="277.40" y2="79.47" stroke="#1a1a1a" stroke-width="1"/>
<line x1="278.70" y1="45.83" x2="277.40" y2="45.83" stroke="#1a1a1a" stroke-width="1"/>
<line x1="278.70" y1="163.60" x2="278.70" y2="165.90" stroke="#1a1a1a" stroke-width="1"/>
<text x="278.70" y="177.34" font-size="9.6" text-anchor="middle" fill="#161616" color="#161616" font-weight="normal" transform="translate(278.70 173.90) scale(1 1.035) translate(-278.70 -173.90)">0</text>
<line x1="312.30" y1="163.60" x2="312.30" y2="165.90" stroke="#1a1a1a" stroke-width="1"/>
<text x="312.30" y="177.34" font-size="9.6" text-anchor="middle" fill="#161616" color="#161616" font-weight="normal" transform="translate(312.30 173.90) scale(1 1.035) translate(-312.30 -173.90)">20</text>
<line x1="345.90" y1="163.60" x2="345.90" y2="165.90" stroke="#1a1a1a" stroke-width="1"/>
<text x="345.90" y="177.34" font-size="9.6" text-anchor="middle" fill="#161616" color="#161616" font-weight="normal" transform="translate(345.90 173.90) scale(1 1.035) translate(-345.90 -173.90)">40</text>
<line x1="379.50" y1="163.60" x2="379.50" y2="165.90" stroke="#1a1a1a" stroke-width="1"/>
<text x="379.50" y="177.34" font-size="9.6" text-anchor="middle" fill="#161616" color="#161616" font-weight="normal" transform="translate(379.50 173.90) scale(1 1.035) translate(-379.50 -173.90)">60</text>
<line x1="413.10" y1="163.60" x2="413.10" y2="165.90" stroke="#1a1a1a" stroke-width="1"/>
<text x="413.10" y="177.34" font-size="9.6" text-anchor="middle" fill="#161616" color="#161616" font-weight="normal" transform="translate(413.10 173.90) scale(1 1.035) translate(-413.10 -173.90)">80</text>
<line x1="446.70" y1="163.60" x2="446.70" y2="165.90" stroke="#1a1a1a" stroke-width="1"/>
<text x="446.70" y="177.34" font-size="9.6" text-anchor="middle" fill="#161616" color="#161616" font-weight="normal" transform="translate(446.70 173.90) scale(1 1.035) translate(-446.70 -173.90)">100</text>
<line x1="295.50" y1="163.60" x2="295.50" y2="164.90" stroke="#1a1a1a" stroke-width="1"/>
<line x1="329.10" y1="163.60" x2="329.10" y2="164.90" stroke="#1a1a1a" stroke-width="1"/>
<line x1="362.70" y1="163.60" x2="362.70" y2="164.90" stroke="#1a1a1a" stroke-width="1"/>
<line x1="396.30" y1="163.60" x2="396.30" y2="164.90" stroke="#1a1a1a" stroke-width="1"/>
<line x1="429.90" y1="163.60" x2="429.90" y2="164.90" stroke="#1a1a1a" stroke-width="1"/>
<text x="364.00" y="187.44" font-size="9.6" text-anchor="middle" fill="#161616" color="#161616" font-weight="normal" transform="translate(364.00 184.00) scale(1 1.035) translate(-364.00 -184.00)">Cycle Number</text>
<text x="241.80" y="101.04" font-size="9.6" text-anchor="middle" fill="#161616" color="#161616" font-weight="normal" transform="translate(241.80 97.60) scale(1 1.035) translate(-241.80 -97.60) rotate(-90 241.80 97.60)">Specific Capacity (mAh/g)</text>
<text x="440.50" y="62.24" font-size="9.6" text-anchor="end" fill="#e8531f" color="#e8531f" font-weight="normal" transform="translate(440.50 58.80) scale(1 1.035) translate(-440.50 -58.80)">4MS ES</text>
<text x="440.50" y="84.04" font-size="9.6" text-anchor="end" fill="#4a6cb3" color="#4a6cb3" font-weight="normal" transform="translate(440.50 80.60) scale(1 1.035) translate(-440.50 -80.60)">8MS ES</text>
<text x="440.90" y="108.54" font-size="9.6" text-anchor="end" fill="#e8531f" color="#e8531f" font-weight="normal" transform="translate(440.90 105.10) scale(1 1.035) translate(-440.90 -105.10)">4MS TEGDME</text>
<text x="439.00" y="130.44" font-size="9.6" text-anchor="end" fill="#4a6cb3" color="#4a6cb3" font-weight="normal" transform="translate(439.00 127.00) scale(1 1.035) translate(-439.00 -127.00)">8MS TEGDME</text>
<text x="472.00" y="8.30" font-size="9.5" text-anchor="start" fill="#111" color="#111" font-weight="bold" transform="translate(472.00 4.90) scale(1 1.035) translate(-472.00 -4.90)">c</text>
<line x1="515.40" y1="28.40" x2="683.80" y2="28.40" stroke="#1a1a1a" stroke-width="1"/>
<line x1="683.80" y1="28.40" x2="683.80" y2="163.80" stroke="#1a1a1a" stroke-width="1"/>
<line x1="515.40" y1="28.40" x2="515.40" y2="164.30" stroke="#333" stroke-width="1.3"/>
<line x1="515.40" y1="163.80" x2="683.80" y2="163.80" stroke="#1a1a1a" stroke-width="1.2"/>
<line x1="515.40" y1="163.80" x2="513.10" y2="163.80" stroke="#1a1a1a" stroke-width="1"/>
<text x="509.80" y="167.24" font-size="9.6" text-anchor="end" fill="#161616" color="#161616" font-weight="normal" transform="translate(509.80 163.80) scale(1 1.035) translate(-509.80 -163.80)">0</text>
<line x1="515.40" y1="129.95" x2="513.10" y2="129.95" stroke="#1a1a1a" stroke-width="1"/>
<text x="509.80" y="133.39" font-size="9.6" text-anchor="end" fill="#161616" color="#161616" font-weight="normal" transform="translate(509.80 129.95) scale(1 1.035) translate(-509.80 -129.95)">300</text>
<line x1="515.40" y1="96.10" x2="513.10" y2="96.10" stroke="#1a1a1a" stroke-width="1"/>
<text x="509.80" y="99.54" font-size="9.6" text-anchor="end" fill="#161616" color="#161616" font-weight="normal" transform="translate(509.80 96.10) scale(1 1.035) translate(-509.80 -96.10)">600</text>
<line x1="515.40" y1="62.25" x2="513.10" y2="62.25" stroke="#1a1a1a" stroke-width="1"/>
<text x="509.80" y="65.69" font-size="9.6" text-anchor="end" fill="#161616" color="#161616" font-weight="normal" transform="translate(509.80 62.25) scale(1 1.035) translate(-509.80 -62.25)">900</text>
<line x1="515.40" y1="28.40" x2="513.10" y2="28.40" stroke="#1a1a1a" stroke-width="1"/>
<text x="509.80" y="31.84" font-size="9.6" text-anchor="end" fill="#161616" color="#161616" font-weight="normal" transform="translate(509.80 28.40) scale(1 1.035) translate(-509.80 -28.40)">1200</text>
<line x1="515.40" y1="146.88" x2="514.10" y2="146.88" stroke="#1a1a1a" stroke-width="1"/>
<line x1="515.40" y1="113.03" x2="514.10" y2="113.03" stroke="#1a1a1a" stroke-width="1"/>
<line x1="515.40" y1="79.18" x2="514.10" y2="79.18" stroke="#1a1a1a" stroke-width="1"/>
<line x1="515.40" y1="45.33" x2="514.10" y2="45.33" stroke="#1a1a1a" stroke-width="1"/>
<line x1="529.30" y1="163.80" x2="529.30" y2="166.10" stroke="#1a1a1a" stroke-width="1"/>
<text x="529.30" y="177.34" font-size="9.6" text-anchor="middle" fill="#161616" color="#161616" font-weight="normal" transform="translate(529.30 173.90) scale(1 1.035) translate(-529.30 -173.90)">0</text>
<line x1="557.40" y1="163.80" x2="557.40" y2="166.10" stroke="#1a1a1a" stroke-width="1"/>
<text x="557.40" y="177.34" font-size="9.6" text-anchor="middle" fill="#161616" color="#161616" font-weight="normal" transform="translate(557.40 173.90) scale(1 1.035) translate(-557.40 -173.90)">5</text>
<line x1="585.50" y1="163.80" x2="585.50" y2="166.10" stroke="#1a1a1a" stroke-width="1"/>
<text x="585.50" y="177.34" font-size="9.6" text-anchor="middle" fill="#161616" color="#161616" font-weight="normal" transform="translate(585.50 173.90) scale(1 1.035) translate(-585.50 -173.90)">10</text>
<line x1="613.60" y1="163.80" x2="613.60" y2="166.10" stroke="#1a1a1a" stroke-width="1"/>
<text x="613.60" y="177.34" font-size="9.6" text-anchor="middle" fill="#161616" color="#161616" font-weight="normal" transform="translate(613.60 173.90) scale(1 1.035) translate(-613.60 -173.90)">15</text>
<line x1="641.70" y1="163.80" x2="641.70" y2="166.10" stroke="#1a1a1a" stroke-width="1"/>
<text x="641.70" y="177.34" font-size="9.6" text-anchor="middle" fill="#161616" color="#161616" font-weight="normal" transform="translate(641.70 173.90) scale(1 1.035) translate(-641.70 -173.90)">20</text>
<line x1="669.80" y1="163.80" x2="669.80" y2="166.10" stroke="#1a1a1a" stroke-width="1"/>
<text x="669.80" y="177.34" font-size="9.6" text-anchor="middle" fill="#161616" color="#161616" font-weight="normal" transform="translate(669.80 173.90) scale(1 1.035) translate(-669.80 -173.90)">25</text>
<line x1="543.35" y1="163.80" x2="543.35" y2="165.10" stroke="#1a1a1a" stroke-width="1"/>
<line x1="571.45" y1="163.80" x2="571.45" y2="165.10" stroke="#1a1a1a" stroke-width="1"/>
<line x1="599.55" y1="163.80" x2="599.55" y2="165.10" stroke="#1a1a1a" stroke-width="1"/>
<line x1="627.65" y1="163.80" x2="627.65" y2="165.10" stroke="#1a1a1a" stroke-width="1"/>
<line x1="655.75" y1="163.80" x2="655.75" y2="165.10" stroke="#1a1a1a" stroke-width="1"/>
<text x="600.50" y="187.24" font-size="9.6" text-anchor="middle" fill="#161616" color="#161616" font-weight="normal" transform="translate(600.50 183.80) scale(1 1.035) translate(-600.50 -183.80)">Cycle Number</text>
<text x="482.60" y="98.94" font-size="9.6" text-anchor="middle" fill="#161616" color="#161616" font-weight="normal" transform="translate(482.60 95.50) scale(1 1.035) translate(-482.60 -95.50) rotate(-90 482.60 95.50)">Specific Capacity (mAh/g)</text>
<circle cx="540.54" cy="54.92" r="1.35" fill="none" stroke="#7b94cf" stroke-width="0.7"/>
<circle cx="546.16" cy="51.53" r="1.35" fill="none" stroke="#7b94cf" stroke-width="0.7"/>
<circle cx="551.78" cy="50.40" r="1.35" fill="none" stroke="#7b94cf" stroke-width="0.7"/>
<circle cx="557.40" cy="49.27" r="1.35" fill="none" stroke="#7b94cf" stroke-width="0.7"/>
<circle cx="563.02" cy="47.58" r="1.35" fill="none" stroke="#7b94cf" stroke-width="0.7"/>
<circle cx="568.64" cy="58.30" r="1.35" fill="none" stroke="#7b94cf" stroke-width="0.7"/>
<circle cx="574.26" cy="57.74" r="1.35" fill="none" stroke="#7b94cf" stroke-width="0.7"/>
<circle cx="579.88" cy="57.51" r="1.35" fill="none" stroke="#7b94cf" stroke-width="0.7"/>
<circle cx="585.50" cy="57.29" r="1.35" fill="none" stroke="#7b94cf" stroke-width="0.7"/>
<circle cx="591.12" cy="56.95" r="1.35" fill="none" stroke="#7b94cf" stroke-width="0.7"/>
<circle cx="596.74" cy="63.38" r="1.35" fill="none" stroke="#7b94cf" stroke-width="0.7"/>
<circle cx="602.36" cy="63.38" r="1.35" fill="none" stroke="#7b94cf" stroke-width="0.7"/>
<circle cx="607.98" cy="63.15" r="1.35" fill="none" stroke="#7b94cf" stroke-width="0.7"/>
<circle cx="613.60" cy="63.04" r="1.35" fill="none" stroke="#7b94cf" stroke-width="0.7"/>
<circle cx="619.22" cy="62.81" r="1.35" fill="none" stroke="#7b94cf" stroke-width="0.7"/>
<circle cx="624.84" cy="69.81" r="1.35" fill="none" stroke="#7b94cf" stroke-width="0.7"/>
<circle cx="630.46" cy="69.81" r="1.35" fill="none" stroke="#7b94cf" stroke-width="0.7"/>
<circle cx="636.08" cy="69.92" r="1.35" fill="none" stroke="#7b94cf" stroke-width="0.7"/>
<circle cx="641.70" cy="69.92" r="1.35" fill="none" stroke="#7b94cf" stroke-width="0.7"/>
<circle cx="647.32" cy="70.37" r="1.35" fill="none" stroke="#7b94cf" stroke-width="0.7"/>
<circle cx="652.94" cy="77.82" r="1.35" fill="none" stroke="#7b94cf" stroke-width="0.7"/>
<circle cx="658.56" cy="77.82" r="1.35" fill="none" stroke="#7b94cf" stroke-width="0.7"/>
<circle cx="664.18" cy="77.82" r="1.35" fill="none" stroke="#7b94cf" stroke-width="0.7"/>
<circle cx="669.80" cy="77.82" r="1.35" fill="none" stroke="#7b94cf" stroke-width="0.7"/>
<circle cx="534.92" cy="75.79" r="1.6" fill="#e8531f" stroke="none" stroke-width="0.8"/>
<circle cx="540.54" cy="50.52" r="1.6" fill="#e8531f" stroke="none" stroke-width="0.8"/>
<circle cx="546.16" cy="50.18" r="1.6" fill="#e8531f" stroke="none" stroke-width="0.8"/>
<circle cx="551.78" cy="49.05" r="1.6" fill="#e8531f" stroke="none" stroke-width="0.8"/>
<circle cx="557.40" cy="48.15" r="1.6" fill="#e8531f" stroke="none" stroke-width="0.8"/>
<circle cx="563.02" cy="58.64" r="1.6" fill="#e8531f" stroke="none" stroke-width="0.8"/>
<circle cx="568.64" cy="57.74" r="1.6" fill="#e8531f" stroke="none" stroke-width="0.8"/>
<circle cx="574.26" cy="57.17" r="1.6" fill="#e8531f" stroke="none" stroke-width="0.8"/>
<circle cx="579.88" cy="56.95" r="1.6" fill="#e8531f" stroke="none" stroke-width="0.8"/>
<circle cx="585.50" cy="56.95" r="1.6" fill="#e8531f" stroke="none" stroke-width="0.8"/>
<circle cx="591.12" cy="62.81" r="1.6" fill="#e8531f" stroke="none" stroke-width="0.8"/>
<circle cx="596.74" cy="62.81" r="1.6" fill="#e8531f" stroke="none" stroke-width="0.8"/>
<circle cx="602.36" cy="62.81" r="1.6" fill="#e8531f" stroke="none" stroke-width="0.8"/>
<circle cx="607.98" cy="62.81" r="1.6" fill="#e8531f" stroke="none" stroke-width="0.8"/>
<circle cx="613.60" cy="62.81" r="1.6" fill="#e8531f" stroke="none" stroke-width="0.8"/>
<circle cx="619.22" cy="69.02" r="1.6" fill="#e8531f" stroke="none" stroke-width="0.8"/>
<circle cx="624.84" cy="69.25" r="1.6" fill="#e8531f" stroke="none" stroke-width="0.8"/>
<circle cx="630.46" cy="69.47" r="1.6" fill="#e8531f" stroke="none" stroke-width="0.8"/>
<circle cx="636.08" cy="69.58" r="1.6" fill="#e8531f" stroke="none" stroke-width="0.8"/>
<circle cx="641.70" cy="69.81" r="1.6" fill="#e8531f" stroke="none" stroke-width="0.8"/>
<circle cx="647.32" cy="77.48" r="1.6" fill="#e8531f" stroke="none" stroke-width="0.8"/>
<circle cx="652.94" cy="77.60" r="1.6" fill="#e8531f" stroke="none" stroke-width="0.8"/>
<circle cx="658.56" cy="77.60" r="1.6" fill="#e8531f" stroke="none" stroke-width="0.8"/>
<circle cx="664.18" cy="77.60" r="1.6" fill="#e8531f" stroke="none" stroke-width="0.8"/>
<circle cx="669.80" cy="77.60" r="1.6" fill="#e8531f" stroke="none" stroke-width="0.8"/>
<text x="536.00" y="42.84" font-size="9.6" text-anchor="start" fill="#161616" color="#161616" font-weight="normal" transform="translate(536.00 39.40) scale(1 1.035) translate(-536.00 -39.40)">0.09C</text>
<text x="567.20" y="51.04" font-size="9.6" text-anchor="start" fill="#161616" color="#161616" font-weight="normal" transform="translate(567.20 47.60) scale(1 1.035) translate(-567.20 -47.60)">0.15C</text>
<text x="596.90" y="56.34" font-size="9.6" text-anchor="start" fill="#161616" color="#161616" font-weight="normal" transform="translate(596.90 52.90) scale(1 1.035) translate(-596.90 -52.90)">0.26C</text>
<text x="625.90" y="63.04" font-size="9.6" text-anchor="start" fill="#161616" color="#161616" font-weight="normal" transform="translate(625.90 59.60) scale(1 1.035) translate(-625.90 -59.60)">0.38C</text>
<text x="652.80" y="71.94" font-size="9.6" text-anchor="start" fill="#161616" color="#161616" font-weight="normal" transform="translate(652.80 68.50) scale(1 1.035) translate(-652.80 -68.50)">0.51C</text>
<circle cx="616.7" cy="132.8" r="1.35" fill="none" stroke="#7b94cf" stroke-width="0.7"/>
<circle cx="616.70" cy="147.40" r="1.6" fill="#e8531f" stroke="none" stroke-width="0.8"/>
<text x="627.60" y="135.74" font-size="9.6" text-anchor="start" fill="#161616" color="#161616" font-weight="normal" transform="translate(627.60 132.30) scale(1 1.035) translate(-627.60 -132.30)">Charge</text>
<text x="627.60" y="149.64" font-size="9.6" text-anchor="start" fill="#161616" color="#161616" font-weight="normal" transform="translate(627.60 146.20) scale(1 1.035) translate(-627.60 -146.20)">Discharge</text>
<text x="1.30" y="200.50" font-size="9.5" text-anchor="start" fill="#111" color="#111" font-weight="bold" transform="translate(1.30 197.10) scale(1 1.035) translate(-1.30 -197.10)">d</text>
<circle cx="33.60" cy="220.15" r="0.85" fill="#e8531f" stroke="none" stroke-width="0.8"/>
<circle cx="34.36" cy="219.79" r="0.85" fill="#e8531f" stroke="none" stroke-width="0.8"/>
<circle cx="35.12" cy="221.23" r="0.85" fill="#e8531f" stroke="none" stroke-width="0.8"/>
<circle cx="35.88" cy="220.38" r="0.85" fill="#e8531f" stroke="none" stroke-width="0.8"/>
<circle cx="36.64" cy="219.58" r="0.85" fill="#e8531f" stroke="none" stroke-width="0.8"/>
<circle cx="37.40" cy="220.26" r="0.85" fill="#e8531f" stroke="none" stroke-width="0.8"/>
<circle cx="38.16" cy="221.42" r="0.85" fill="#e8531f" stroke="none" stroke-width="0.8"/>
<circle cx="38.92" cy="220.67" r="0.85" fill="#e8531f" stroke="none" stroke-width="0.8"/>
<circle cx="39.68" cy="220.73" r="0.85" fill="#e8531f" stroke="none" stroke-width="0.8"/>
<circle cx="40.44" cy="218.41" r="0.85" fill="#e8531f" stroke="none" stroke-width="0.8"/>
<circle cx="41.20" cy="219.44" r="0.85" fill="#e8531f" stroke="none" stroke-width="0.8"/>
<circle cx="41.96" cy="220.40" r="0.85" fill="#e8531f" stroke="none" stroke-width="0.8"/>
<circle cx="42.72" cy="219.27" r="0.85" fill="#e8531f" stroke="none" stroke-width="0.8"/>
<circle cx="43.49" cy="220.78" r="0.85" fill="#e8531f" stroke="none" stroke-width="0.8"/>
<circle cx="44.25" cy="220.26" r="0.85" fill="#e8531f" stroke="none" stroke-width="0.8"/>
<circle cx="45.01" cy="220.60" r="0.85" fill="#e8531f" stroke="none" stroke-width="0.8"/>
<circle cx="45.77" cy="219.37" r="0.85" fill="#e8531f" stroke="none" stroke-width="0.8"/>
<circle cx="46.53" cy="222.40" r="0.85" fill="#e8531f" stroke="none" stroke-width="0.8"/>
<circle cx="47.29" cy="220.96" r="0.85" fill="#e8531f" stroke="none" stroke-width="0.8"/>
<circle cx="48.05" cy="219.36" r="0.85" fill="#e8531f" stroke="none" stroke-width="0.8"/>
<circle cx="48.81" cy="219.70" r="0.85" fill="#e8531f" stroke="none" stroke-width="0.8"/>
<circle cx="49.57" cy="222.45" r="0.85" fill="#e8531f" stroke="none" stroke-width="0.8"/>
<circle cx="50.33" cy="219.22" r="0.85" fill="#e8531f" stroke="none" stroke-width="0.8"/>
<circle cx="51.09" cy="220.56" r="0.85" fill="#e8531f" stroke="none" stroke-width="0.8"/>
<circle cx="51.85" cy="220.68" r="0.85" fill="#e8531f" stroke="none" stroke-width="0.8"/>
<circle cx="52.61" cy="219.61" r="0.85" fill="#e8531f" stroke="none" stroke-width="0.8"/>
<circle cx="53.37" cy="218.32" r="0.85" fill="#e8531f" stroke="none" stroke-width="0.8"/>
<circle cx="54.13" cy="219.81" r="0.85" fill="#e8531f" stroke="none" stroke-width="0.8"/>
<circle cx="54.89" cy="220.00" r="0.85" fill="#e8531f" stroke="none" stroke-width="0.8"/>
<circle cx="55.65" cy="220.84" r="0.85" fill="#e8531f" stroke="none" stroke-width="0.8"/>
<circle cx="56.41" cy="220.46" r="0.85" fill="#e8531f" stroke="none" stroke-width="0.8"/>
<circle cx="57.17" cy="219.63" r="0.85" fill="#e8531f" stroke="none" stroke-width="0.8"/>
<circle cx="57.93" cy="220.54" r="0.85" fill="#e8531f" stroke="none" stroke-width="0.8"/>
<circle cx="58.69" cy="220.19" r="0.85" fill="#e8531f" stroke="none" stroke-width="0.8"/>
<circle cx="59.45" cy="219.83" r="0.85" fill="#e8531f" stroke="none" stroke-width="0.8"/>
<circle cx="60.21" cy="219.66" r="0.85" fill="#e8531f" stroke="none" stroke-width="0.8"/>
<circle cx="60.97" cy="219.33" r="0.85" fill="#e8531f" stroke="none" stroke-width="0.8"/>
<circle cx="61.73" cy="220.35" r="0.85" fill="#e8531f" stroke="none" stroke-width="0.8"/>
<circle cx="62.50" cy="218.44" r="0.85" fill="#e8531f" stroke="none" stroke-width="0.8"/>
<circle cx="63.26" cy="218.91" r="0.85" fill="#e8531f" stroke="none" stroke-width="0.8"/>
<circle cx="64.02" cy="219.61" r="0.85" fill="#e8531f" stroke="none" stroke-width="0.8"/>
<circle cx="64.78" cy="217.99" r="0.85" fill="#e8531f" stroke="none" stroke-width="0.8"/>
<circle cx="65.54" cy="219.12" r="0.85" fill="#e8531f" stroke="none" stroke-width="0.8"/>
<circle cx="66.30" cy="217.39" r="0.85" fill="#e8531f" stroke="none" stroke-width="0.8"/>
<circle cx="67.06" cy="218.85" r="0.85" fill="#e8531f" stroke="none" stroke-width="0.8"/>
<circle cx="67.82" cy="220.23" r="0.85" fill="#e8531f" stroke="none" stroke-width="0.8"/>
<circle cx="68.58" cy="220.22" r="0.85" fill="#e8531f" stroke="none" stroke-width="0.8"/>
<circle cx="69.34" cy="219.54" r="0.85" fill="#e8531f" stroke="none" stroke-width="0.8"/>
<circle cx="70.10" cy="219.34" r="0.85" fill="#e8531f" stroke="none" stroke-width="0.8"/>
<circle cx="70.86" cy="218.04" r="0.85" fill="#e8531f" stroke="none" stroke-width="0.8"/>
<circle cx="71.62" cy="221.61" r="0.85" fill="#e8531f" stroke="none" stroke-width="0.8"/>
<circle cx="72.38" cy="220.17" r="0.85" fill="#e8531f" stroke="none" stroke-width="0.8"/>
<circle cx="73.14" cy="220.80" r="0.85" fill="#e8531f" stroke="none" stroke-width="0.8"/>
<circle cx="73.90" cy="218.63" r="0.85" fill="#e8531f" stroke="none" stroke-width="0.8"/>
<circle cx="74.66" cy="219.40" r="0.85" fill="#e8531f" stroke="none" stroke-width="0.8"/>
<circle cx="75.42" cy="217.60" r="0.85" fill="#e8531f" stroke="none" stroke-width="0.8"/>
<circle cx="76.18" cy="220.46" r="0.85" fill="#e8531f" stroke="none" stroke-width="0.8"/>
<circle cx="76.94" cy="220.63" r="0.85" fill="#e8531f" stroke="none" stroke-width="0.8"/>
<circle cx="77.70" cy="217.51" r="0.85" fill="#e8531f" stroke="none" stroke-width="0.8"/>
<circle cx="78.46" cy="219.54" r="0.85" fill="#e8531f" stroke="none" stroke-width="0.8"/>
<circle cx="79.22" cy="220.29" r="0.85" fill="#e8531f" stroke="none" stroke-width="0.8"/>
<circle cx="79.98" cy="217.66" r="0.85" fill="#e8531f" stroke="none" stroke-width="0.8"/>
<circle cx="80.74" cy="217.59" r="0.85" fill="#e8531f" stroke="none" stroke-width="0.8"/>
<circle cx="81.51" cy="218.43" r="0.85" fill="#e8531f" stroke="none" stroke-width="0.8"/>
<circle cx="82.27" cy="218.91" r="0.85" fill="#e8531f" stroke="none" stroke-width="0.8"/>
<circle cx="83.03" cy="218.06" r="0.85" fill="#e8531f" stroke="none" stroke-width="0.8"/>
<circle cx="83.79" cy="219.63" r="0.85" fill="#e8531f" stroke="none" stroke-width="0.8"/>
<circle cx="84.55" cy="219.87" r="0.85" fill="#e8531f" stroke="none" stroke-width="0.8"/>
<circle cx="85.31" cy="220.30" r="0.85" fill="#e8531f" stroke="none" stroke-width="0.8"/>
<circle cx="86.07" cy="220.37" r="0.85" fill="#e8531f" stroke="none" stroke-width="0.8"/>
<circle cx="86.83" cy="221.25" r="0.85" fill="#e8531f" stroke="none" stroke-width="0.8"/>
<circle cx="87.59" cy="220.88" r="0.85" fill="#e8531f" stroke="none" stroke-width="0.8"/>
<circle cx="88.35" cy="218.16" r="0.85" fill="#e8531f" stroke="none" stroke-width="0.8"/>
<circle cx="89.11" cy="219.04" r="0.85" fill="#e8531f" stroke="none" stroke-width="0.8"/>
<circle cx="89.87" cy="218.43" r="0.85" fill="#e8531f" stroke="none" stroke-width="0.8"/>
<circle cx="90.63" cy="218.42" r="0.85" fill="#e8531f" stroke="none" stroke-width="0.8"/>
<circle cx="91.39" cy="219.51" r="0.85" fill="#e8531f" stroke="none" stroke-width="0.8"/>
<circle cx="92.15" cy="219.61" r="0.85" fill="#e8531f" stroke="none" stroke-width="0.8"/>
<circle cx="92.91" cy="220.14" r="0.85" fill="#e8531f" stroke="none" stroke-width="0.8"/>
<circle cx="93.67" cy="217.85" r="0.85" fill="#e8531f" stroke="none" stroke-width="0.8"/>
<circle cx="94.43" cy="218.24" r="0.85" fill="#e8531f" stroke="none" stroke-width="0.8"/>
<circle cx="95.19" cy="219.57" r="0.85" fill="#e8531f" stroke="none" stroke-width="0.8"/>
<circle cx="95.95" cy="219.38" r="0.85" fill="#e8531f" stroke="none" stroke-width="0.8"/>
<circle cx="96.71" cy="219.26" r="0.85" fill="#e8531f" stroke="none" stroke-width="0.8"/>
<circle cx="97.47" cy="219.53" r="0.85" fill="#e8531f" stroke="none" stroke-width="0.8"/>
<circle cx="98.23" cy="218.76" r="0.85" fill="#e8531f" stroke="none" stroke-width="0.8"/>
<circle cx="98.99" cy="220.37" r="0.85" fill="#e8531f" stroke="none" stroke-width="0.8"/>
<circle cx="99.75" cy="219.99" r="0.85" fill="#e8531f" stroke="none" stroke-width="0.8"/>
<circle cx="100.52" cy="219.50" r="0.85" fill="#e8531f" stroke="none" stroke-width="0.8"/>
<circle cx="101.28" cy="218.86" r="0.85" fill="#e8531f" stroke="none" stroke-width="0.8"/>
<circle cx="102.04" cy="219.41" r="0.85" fill="#e8531f" stroke="none" stroke-width="0.8"/>
<circle cx="102.80" cy="216.61" r="0.85" fill="#e8531f" stroke="none" stroke-width="0.8"/>
<circle cx="103.56" cy="218.52" r="0.85" fill="#e8531f" stroke="none" stroke-width="0.8"/>
<circle cx="104.32" cy="219.64" r="0.85" fill="#e8531f" stroke="none" stroke-width="0.8"/>
<circle cx="105.08" cy="217.95" r="0.85" fill="#e8531f" stroke="none" stroke-width="0.8"/>
<circle cx="105.84" cy="219.82" r="0.85" fill="#e8531f" stroke="none" stroke-width="0.8"/>
<circle cx="106.60" cy="219.76" r="0.85" fill="#e8531f" stroke="none" stroke-width="0.8"/>
<circle cx="107.36" cy="218.08" r="0.85" fill="#e8531f" stroke="none" stroke-width="0.8"/>
<circle cx="108.12" cy="219.32" r="0.85" fill="#e8531f" stroke="none" stroke-width="0.8"/>
<circle cx="108.88" cy="219.25" r="0.85" fill="#e8531f" stroke="none" stroke-width="0.8"/>
<circle cx="109.64" cy="220.11" r="0.85" fill="#e8531f" stroke="none" stroke-width="0.8"/>
<circle cx="110.40" cy="220.27" r="0.85" fill="#e8531f" stroke="none" stroke-width="0.8"/>
<circle cx="111.16" cy="219.56" r="0.85" fill="#e8531f" stroke="none" stroke-width="0.8"/>
<circle cx="111.92" cy="218.66" r="0.85" fill="#e8531f" stroke="none" stroke-width="0.8"/>
<circle cx="112.68" cy="219.44" r="0.85" fill="#e8531f" stroke="none" stroke-width="0.8"/>
<circle cx="113.44" cy="219.53" r="0.85" fill="#e8531f" stroke="none" stroke-width="0.8"/>
<circle cx="114.20" cy="220.41" r="0.85" fill="#e8531f" stroke="none" stroke-width="0.8"/>
<circle cx="114.96" cy="219.92" r="0.85" fill="#e8531f" stroke="none" stroke-width="0.8"/>
<circle cx="115.72" cy="218.81" r="0.85" fill="#e8531f" stroke="none" stroke-width="0.8"/>
<circle cx="116.48" cy="218.11" r="0.85" fill="#e8531f" stroke="none" stroke-width="0.8"/>
<circle cx="117.24" cy="219.19" r="0.85" fill="#e8531f" stroke="none" stroke-width="0.8"/>
<circle cx="118.00" cy="218.79" r="0.85" fill="#e8531f" stroke="none" stroke-width="0.8"/>
<circle cx="118.76" cy="218.38" r="0.85" fill="#e8531f" stroke="none" stroke-width="0.8"/>
<circle cx="119.53" cy="219.47" r="0.85" fill="#e8531f" stroke="none" stroke-width="0.8"/>
<circle cx="120.29" cy="219.06" r="0.85" fill="#e8531f" stroke="none" stroke-width="0.8"/>
<circle cx="121.05" cy="219.72" r="0.85" fill="#e8531f" stroke="none" stroke-width="0.8"/>
<circle cx="121.81" cy="220.18" r="0.85" fill="#e8531f" stroke="none" stroke-width="0.8"/>
<circle cx="122.57" cy="219.15" r="0.85" fill="#e8531f" stroke="none" stroke-width="0.8"/>
<circle cx="123.33" cy="222.16" r="0.85" fill="#e8531f" stroke="none" stroke-width="0.8"/>
<circle cx="124.09" cy="219.25" r="0.85" fill="#e8531f" stroke="none" stroke-width="0.8"/>
<circle cx="124.85" cy="220.81" r="0.85" fill="#e8531f" stroke="none" stroke-width="0.8"/>
<circle cx="125.61" cy="219.73" r="0.85" fill="#e8531f" stroke="none" stroke-width="0.8"/>
<circle cx="126.37" cy="220.83" r="0.85" fill="#e8531f" stroke="none" stroke-width="0.8"/>
<circle cx="127.13" cy="216.99" r="0.85" fill="#e8531f" stroke="none" stroke-width="0.8"/>
<circle cx="127.89" cy="218.77" r="0.85" fill="#e8531f" stroke="none" stroke-width="0.8"/>
<circle cx="128.65" cy="219.87" r="0.85" fill="#e8531f" stroke="none" stroke-width="0.8"/>
<circle cx="129.41" cy="220.26" r="0.85" fill="#e8531f" stroke="none" stroke-width="0.8"/>
<circle cx="130.17" cy="222.17" r="0.85" fill="#e8531f" stroke="none" stroke-width="0.8"/>
<circle cx="130.93" cy="219.95" r="0.85" fill="#e8531f" stroke="none" stroke-width="0.8"/>
<circle cx="131.69" cy="221.01" r="0.85" fill="#e8531f" stroke="none" stroke-width="0.8"/>
<circle cx="132.45" cy="220.44" r="0.85" fill="#e8531f" stroke="none" stroke-width="0.8"/>
<circle cx="133.21" cy="220.64" r="0.85" fill="#e8531f" stroke="none" stroke-width="0.8"/>
<circle cx="133.97" cy="220.16" r="0.85" fill="#e8531f" stroke="none" stroke-width="0.8"/>
<circle cx="134.73" cy="219.43" r="0.85" fill="#e8531f" stroke="none" stroke-width="0.8"/>
<circle cx="135.49" cy="220.16" r="0.85" fill="#e8531f" stroke="none" stroke-width="0.8"/>
<circle cx="136.25" cy="218.41" r="0.85" fill="#e8531f" stroke="none" stroke-width="0.8"/>
<circle cx="137.01" cy="220.90" r="0.85" fill="#e8531f" stroke="none" stroke-width="0.8"/>
<circle cx="137.77" cy="218.48" r="0.85" fill="#e8531f" stroke="none" stroke-width="0.8"/>
<circle cx="138.54" cy="219.87" r="0.85" fill="#e8531f" stroke="none" stroke-width="0.8"/>
<circle cx="139.30" cy="221.93" r="0.85" fill="#e8531f" stroke="none" stroke-width="0.8"/>
<circle cx="140.06" cy="219.35" r="0.85" fill="#e8531f" stroke="none" stroke-width="0.8"/>
<circle cx="140.82" cy="219.62" r="0.85" fill="#e8531f" stroke="none" stroke-width="0.8"/>
<circle cx="141.58" cy="220.88" r="0.85" fill="#e8531f" stroke="none" stroke-width="0.8"/>
<circle cx="142.34" cy="219.63" r="0.85" fill="#e8531f" stroke="none" stroke-width="0.8"/>
<circle cx="143.10" cy="218.71" r="0.85" fill="#e8531f" stroke="none" stroke-width="0.8"/>
<circle cx="143.86" cy="219.88" r="0.85" fill="#e8531f" stroke="none" stroke-width="0.8"/>
<circle cx="144.62" cy="220.24" r="0.85" fill="#e8531f" stroke="none" stroke-width="0.8"/>
<circle cx="145.38" cy="220.38" r="0.85" fill="#e8531f" stroke="none" stroke-width="0.8"/>
<circle cx="146.14" cy="218.75" r="0.85" fill="#e8531f" stroke="none" stroke-width="0.8"/>
<circle cx="146.90" cy="221.53" r="0.85" fill="#e8531f" stroke="none" stroke-width="0.8"/>
<circle cx="147.66" cy="221.43" r="0.85" fill="#e8531f" stroke="none" stroke-width="0.8"/>
<circle cx="148.42" cy="219.62" r="0.85" fill="#e8531f" stroke="none" stroke-width="0.8"/>
<circle cx="149.18" cy="219.90" r="0.85" fill="#e8531f" stroke="none" stroke-width="0.8"/>
<circle cx="149.94" cy="219.13" r="0.85" fill="#e8531f" stroke="none" stroke-width="0.8"/>
<circle cx="150.70" cy="221.16" r="0.85" fill="#e8531f" stroke="none" stroke-width="0.8"/>
<circle cx="151.46" cy="218.82" r="0.85" fill="#e8531f" stroke="none" stroke-width="0.8"/>
<circle cx="152.22" cy="220.34" r="0.85" fill="#e8531f" stroke="none" stroke-width="0.8"/>
<circle cx="152.98" cy="219.07" r="0.85" fill="#e8531f" stroke="none" stroke-width="0.8"/>
<circle cx="153.74" cy="218.84" r="0.85" fill="#e8531f" stroke="none" stroke-width="0.8"/>
<circle cx="154.50" cy="220.39" r="0.85" fill="#e8531f" stroke="none" stroke-width="0.8"/>
<circle cx="155.26" cy="221.07" r="0.85" fill="#e8531f" stroke="none" stroke-width="0.8"/>
<circle cx="156.02" cy="219.59" r="0.85" fill="#e8531f" stroke="none" stroke-width="0.8"/>
<circle cx="156.78" cy="218.85" r="0.85" fill="#e8531f" stroke="none" stroke-width="0.8"/>
<circle cx="157.55" cy="220.49" r="0.85" fill="#e8531f" stroke="none" stroke-width="0.8"/>
<circle cx="158.31" cy="219.55" r="0.85" fill="#e8531f" stroke="none" stroke-width="0.8"/>
<circle cx="159.07" cy="219.94" r="0.85" fill="#e8531f" stroke="none" stroke-width="0.8"/>
<circle cx="159.83" cy="221.28" r="0.85" fill="#e8531f" stroke="none" stroke-width="0.8"/>
<circle cx="160.59" cy="220.84" r="0.85" fill="#e8531f" stroke="none" stroke-width="0.8"/>
<circle cx="161.35" cy="219.03" r="0.85" fill="#e8531f" stroke="none" stroke-width="0.8"/>
<circle cx="162.11" cy="222.11" r="0.85" fill="#e8531f" stroke="none" stroke-width="0.8"/>
<circle cx="162.87" cy="219.60" r="0.85" fill="#e8531f" stroke="none" stroke-width="0.8"/>
<circle cx="163.63" cy="220.46" r="0.85" fill="#e8531f" stroke="none" stroke-width="0.8"/>
<circle cx="164.39" cy="218.89" r="0.85" fill="#e8531f" stroke="none" stroke-width="0.8"/>
<circle cx="165.15" cy="219.55" r="0.85" fill="#e8531f" stroke="none" stroke-width="0.8"/>
<circle cx="165.91" cy="217.68" r="0.85" fill="#e8531f" stroke="none" stroke-width="0.8"/>
<circle cx="166.67" cy="221.57" r="0.85" fill="#e8531f" stroke="none" stroke-width="0.8"/>
<circle cx="167.43" cy="221.10" r="0.85" fill="#e8531f" stroke="none" stroke-width="0.8"/>
<circle cx="168.19" cy="218.26" r="0.85" fill="#e8531f" stroke="none" stroke-width="0.8"/>
<circle cx="168.95" cy="217.94" r="0.85" fill="#e8531f" stroke="none" stroke-width="0.8"/>
<circle cx="169.71" cy="217.82" r="0.85" fill="#e8531f" stroke="none" stroke-width="0.8"/>
<circle cx="170.47" cy="220.89" r="0.85" fill="#e8531f" stroke="none" stroke-width="0.8"/>
<circle cx="171.23" cy="219.09" r="0.85" fill="#e8531f" stroke="none" stroke-width="0.8"/>
<circle cx="171.99" cy="219.53" r="0.85" fill="#e8531f" stroke="none" stroke-width="0.8"/>
<circle cx="172.75" cy="219.26" r="0.85" fill="#e8531f" stroke="none" stroke-width="0.8"/>
<circle cx="173.51" cy="219.47" r="0.85" fill="#e8531f" stroke="none" stroke-width="0.8"/>
<circle cx="174.27" cy="218.40" r="0.85" fill="#e8531f" stroke="none" stroke-width="0.8"/>
<circle cx="175.03" cy="219.63" r="0.85" fill="#e8531f" stroke="none" stroke-width="0.8"/>
<circle cx="175.79" cy="218.02" r="0.85" fill="#e8531f" stroke="none" stroke-width="0.8"/>
<circle cx="176.56" cy="219.52" r="0.85" fill="#e8531f" stroke="none" stroke-width="0.8"/>
<circle cx="177.32" cy="219.94" r="0.85" fill="#e8531f" stroke="none" stroke-width="0.8"/>
<circle cx="178.08" cy="220.11" r="0.85" fill="#e8531f" stroke="none" stroke-width="0.8"/>
<circle cx="178.84" cy="219.35" r="0.85" fill="#e8531f" stroke="none" stroke-width="0.8"/>
<circle cx="179.60" cy="218.61" r="0.85" fill="#e8531f" stroke="none" stroke-width="0.8"/>
<circle cx="180.36" cy="219.78" r="0.85" fill="#e8531f" stroke="none" stroke-width="0.8"/>
<circle cx="181.12" cy="219.07" r="0.85" fill="#e8531f" stroke="none" stroke-width="0.8"/>
<circle cx="181.88" cy="221.32" r="0.85" fill="#e8531f" stroke="none" stroke-width="0.8"/>
<circle cx="182.64" cy="220.44" r="0.85" fill="#e8531f" stroke="none" stroke-width="0.8"/>
<circle cx="183.40" cy="219.47" r="0.85" fill="#e8531f" stroke="none" stroke-width="0.8"/>
<circle cx="184.16" cy="219.08" r="0.85" fill="#e8531f" stroke="none" stroke-width="0.8"/>
<circle cx="184.92" cy="218.83" r="0.85" fill="#e8531f" stroke="none" stroke-width="0.8"/>
<circle cx="185.68" cy="218.57" r="0.85" fill="#e8531f" stroke="none" stroke-width="0.8"/>
<circle cx="186.44" cy="219.21" r="0.85" fill="#e8531f" stroke="none" stroke-width="0.8"/>
<circle cx="187.20" cy="219.92" r="0.85" fill="#e8531f" stroke="none" stroke-width="0.8"/>
<circle cx="187.96" cy="220.17" r="0.85" fill="#e8531f" stroke="none" stroke-width="0.8"/>
<circle cx="188.72" cy="220.23" r="0.85" fill="#e8531f" stroke="none" stroke-width="0.8"/>
<circle cx="189.48" cy="221.91" r="0.85" fill="#e8531f" stroke="none" stroke-width="0.8"/>
<circle cx="190.24" cy="218.82" r="0.85" fill="#e8531f" stroke="none" stroke-width="0.8"/>
<circle cx="191.00" cy="219.61" r="0.85" fill="#e8531f" stroke="none" stroke-width="0.8"/>
<circle cx="191.76" cy="222.67" r="0.85" fill="#e8531f" stroke="none" stroke-width="0.8"/>
<circle cx="192.52" cy="217.55" r="0.85" fill="#e8531f" stroke="none" stroke-width="0.8"/>
<circle cx="193.28" cy="219.03" r="0.85" fill="#e8531f" stroke="none" stroke-width="0.8"/>
<circle cx="194.04" cy="219.79" r="0.85" fill="#e8531f" stroke="none" stroke-width="0.8"/>
<circle cx="194.80" cy="219.77" r="0.85" fill="#e8531f" stroke="none" stroke-width="0.8"/>
<circle cx="195.57" cy="220.05" r="0.85" fill="#e8531f" stroke="none" stroke-width="0.8"/>
<circle cx="196.33" cy="219.34" r="0.85" fill="#e8531f" stroke="none" stroke-width="0.8"/>
<circle cx="197.09" cy="220.00" r="0.85" fill="#e8531f" stroke="none" stroke-width="0.8"/>
<circle cx="197.85" cy="219.66" r="0.85" fill="#e8531f" stroke="none" stroke-width="0.8"/>
<circle cx="198.61" cy="220.45" r="0.85" fill="#e8531f" stroke="none" stroke-width="0.8"/>
<circle cx="199.37" cy="217.52" r="0.85" fill="#e8531f" stroke="none" stroke-width="0.8"/>
<circle cx="200.13" cy="218.63" r="0.85" fill="#e8531f" stroke="none" stroke-width="0.8"/>
<circle cx="200.89" cy="219.60" r="0.85" fill="#e8531f" stroke="none" stroke-width="0.8"/>
<circle cx="201.65" cy="218.46" r="0.85" fill="#e8531f" stroke="none" stroke-width="0.8"/>
<circle cx="202.41" cy="218.45" r="0.85" fill="#e8531f" stroke="none" stroke-width="0.8"/>
<circle cx="203.17" cy="220.29" r="0.85" fill="#e8531f" stroke="none" stroke-width="0.8"/>
<circle cx="203.93" cy="218.89" r="0.85" fill="#e8531f" stroke="none" stroke-width="0.8"/>
<circle cx="204.69" cy="220.30" r="0.85" fill="#e8531f" stroke="none" stroke-width="0.8"/>
<circle cx="205.45" cy="220.42" r="0.85" fill="#e8531f" stroke="none" stroke-width="0.8"/>
<circle cx="206.21" cy="219.94" r="0.85" fill="#e8531f" stroke="none" stroke-width="0.8"/>
<circle cx="206.97" cy="220.16" r="0.85" fill="#e8531f" stroke="none" stroke-width="0.8"/>
<circle cx="207.73" cy="219.48" r="0.85" fill="#e8531f" stroke="none" stroke-width="0.8"/>
<circle cx="208.49" cy="218.05" r="0.85" fill="#e8531f" stroke="none" stroke-width="0.8"/>
<circle cx="209.25" cy="219.57" r="0.85" fill="#e8531f" stroke="none" stroke-width="0.8"/>
<circle cx="210.01" cy="220.10" r="0.85" fill="#e8531f" stroke="none" stroke-width="0.8"/>
<circle cx="210.77" cy="219.02" r="0.85" fill="#e8531f" stroke="none" stroke-width="0.8"/>
<circle cx="211.53" cy="219.49" r="0.85" fill="#e8531f" stroke="none" stroke-width="0.8"/>
<circle cx="212.29" cy="220.42" r="0.85" fill="#e8531f" stroke="none" stroke-width="0.8"/>
<circle cx="213.05" cy="218.63" r="0.85" fill="#e8531f" stroke="none" stroke-width="0.8"/>
<circle cx="213.81" cy="220.30" r="0.85" fill="#e8531f" stroke="none" stroke-width="0.8"/>
<circle cx="214.58" cy="221.65" r="0.85" fill="#e8531f" stroke="none" stroke-width="0.8"/>
<circle cx="215.34" cy="218.99" r="0.85" fill="#e8531f" stroke="none" stroke-width="0.8"/>
<circle cx="216.10" cy="219.76" r="0.85" fill="#e8531f" stroke="none" stroke-width="0.8"/>
<circle cx="216.86" cy="219.43" r="0.85" fill="#e8531f" stroke="none" stroke-width="0.8"/>
<circle cx="217.62" cy="221.29" r="0.85" fill="#e8531f" stroke="none" stroke-width="0.8"/>
<circle cx="218.38" cy="219.95" r="0.85" fill="#e8531f" stroke="none" stroke-width="0.8"/>
<circle cx="219.14" cy="220.59" r="0.85" fill="#e8531f" stroke="none" stroke-width="0.8"/>
<circle cx="219.90" cy="218.84" r="0.85" fill="#e8531f" stroke="none" stroke-width="0.8"/>
<circle cx="220.66" cy="219.58" r="0.85" fill="#e8531f" stroke="none" stroke-width="0.8"/>
<circle cx="221.42" cy="219.59" r="0.85" fill="#e8531f" stroke="none" stroke-width="0.8"/>
<circle cx="222.18" cy="217.65" r="0.85" fill="#e8531f" stroke="none" stroke-width="0.8"/>
<circle cx="222.94" cy="221.18" r="0.85" fill="#e8531f" stroke="none" stroke-width="0.8"/>
<circle cx="223.70" cy="220.59" r="0.85" fill="#e8531f" stroke="none" stroke-width="0.8"/>
<circle cx="224.46" cy="217.68" r="0.85" fill="#e8531f" stroke="none" stroke-width="0.8"/>
<circle cx="225.22" cy="220.42" r="0.85" fill="#e8531f" stroke="none" stroke-width="0.8"/>
<circle cx="225.98" cy="219.46" r="0.85" fill="#e8531f" stroke="none" stroke-width="0.8"/>
<circle cx="226.74" cy="220.09" r="0.85" fill="#e8531f" stroke="none" stroke-width="0.8"/>
<circle cx="227.50" cy="220.00" r="0.85" fill="#e8531f" stroke="none" stroke-width="0.8"/>
<circle cx="228.26" cy="217.95" r="0.85" fill="#e8531f" stroke="none" stroke-width="0.8"/>
<circle cx="229.02" cy="219.37" r="0.85" fill="#e8531f" stroke="none" stroke-width="0.8"/>
<circle cx="229.78" cy="221.24" r="0.85" fill="#e8531f" stroke="none" stroke-width="0.8"/>
<circle cx="230.54" cy="218.97" r="0.85" fill="#e8531f" stroke="none" stroke-width="0.8"/>
<circle cx="231.30" cy="218.47" r="0.85" fill="#e8531f" stroke="none" stroke-width="0.8"/>
<circle cx="232.06" cy="218.10" r="0.85" fill="#e8531f" stroke="none" stroke-width="0.8"/>
<circle cx="232.82" cy="218.26" r="0.85" fill="#e8531f" stroke="none" stroke-width="0.8"/>
<circle cx="233.59" cy="219.97" r="0.85" fill="#e8531f" stroke="none" stroke-width="0.8"/>
<circle cx="234.35" cy="221.46" r="0.85" fill="#e8531f" stroke="none" stroke-width="0.8"/>
<circle cx="235.11" cy="220.07" r="0.85" fill="#e8531f" stroke="none" stroke-width="0.8"/>
<circle cx="235.87" cy="219.87" r="0.85" fill="#e8531f" stroke="none" stroke-width="0.8"/>
<circle cx="236.63" cy="222.06" r="0.85" fill="#e8531f" stroke="none" stroke-width="0.8"/>
<circle cx="237.39" cy="219.03" r="0.85" fill="#e8531f" stroke="none" stroke-width="0.8"/>
<circle cx="238.15" cy="218.86" r="0.85" fill="#e8531f" stroke="none" stroke-width="0.8"/>
<circle cx="238.91" cy="220.18" r="0.85" fill="#e8531f" stroke="none" stroke-width="0.8"/>
<circle cx="239.67" cy="220.20" r="0.85" fill="#e8531f" stroke="none" stroke-width="0.8"/>
<circle cx="240.43" cy="218.48" r="0.85" fill="#e8531f" stroke="none" stroke-width="0.8"/>
<circle cx="241.19" cy="218.31" r="0.85" fill="#e8531f" stroke="none" stroke-width="0.8"/>
<circle cx="241.95" cy="219.92" r="0.85" fill="#e8531f" stroke="none" stroke-width="0.8"/>
<circle cx="242.71" cy="219.87" r="0.85" fill="#e8531f" stroke="none" stroke-width="0.8"/>
<circle cx="243.47" cy="218.16" r="0.85" fill="#e8531f" stroke="none" stroke-width="0.8"/>
<circle cx="244.23" cy="219.38" r="0.85" fill="#e8531f" stroke="none" stroke-width="0.8"/>
<circle cx="244.99" cy="219.00" r="0.85" fill="#e8531f" stroke="none" stroke-width="0.8"/>
<circle cx="245.75" cy="220.11" r="0.85" fill="#e8531f" stroke="none" stroke-width="0.8"/>
<circle cx="246.51" cy="219.47" r="0.85" fill="#e8531f" stroke="none" stroke-width="0.8"/>
<circle cx="247.27" cy="219.51" r="0.85" fill="#e8531f" stroke="none" stroke-width="0.8"/>
<circle cx="248.03" cy="219.21" r="0.85" fill="#e8531f" stroke="none" stroke-width="0.8"/>
<circle cx="248.79" cy="220.76" r="0.85" fill="#e8531f" stroke="none" stroke-width="0.8"/>
<circle cx="249.55" cy="221.13" r="0.85" fill="#e8531f" stroke="none" stroke-width="0.8"/>
<circle cx="250.31" cy="219.20" r="0.85" fill="#e8531f" stroke="none" stroke-width="0.8"/>
<circle cx="251.07" cy="220.53" r="0.85" fill="#e8531f" stroke="none" stroke-width="0.8"/>
<circle cx="251.83" cy="218.77" r="0.85" fill="#e8531f" stroke="none" stroke-width="0.8"/>
<circle cx="252.60" cy="219.68" r="0.85" fill="#e8531f" stroke="none" stroke-width="0.8"/>
<circle cx="253.36" cy="220.42" r="0.85" fill="#e8531f" stroke="none" stroke-width="0.8"/>
<circle cx="254.12" cy="221.27" r="0.85" fill="#e8531f" stroke="none" stroke-width="0.8"/>
<circle cx="254.88" cy="219.18" r="0.85" fill="#e8531f" stroke="none" stroke-width="0.8"/>
<circle cx="255.64" cy="219.52" r="0.85" fill="#e8531f" stroke="none" stroke-width="0.8"/>
<circle cx="256.40" cy="219.82" r="0.85" fill="#e8531f" stroke="none" stroke-width="0.8"/>
<circle cx="257.16" cy="217.95" r="0.85" fill="#e8531f" stroke="none" stroke-width="0.8"/>
<circle cx="257.92" cy="219.62" r="0.85" fill="#e8531f" stroke="none" stroke-width="0.8"/>
<circle cx="258.68" cy="218.86" r="0.85" fill="#e8531f" stroke="none" stroke-width="0.8"/>
<circle cx="259.44" cy="220.01" r="0.85" fill="#e8531f" stroke="none" stroke-width="0.8"/>
<circle cx="260.20" cy="218.36" r="0.85" fill="#e8531f" stroke="none" stroke-width="0.8"/>
<circle cx="260.96" cy="217.43" r="0.85" fill="#e8531f" stroke="none" stroke-width="0.8"/>
<circle cx="261.72" cy="219.64" r="0.85" fill="#e8531f" stroke="none" stroke-width="0.8"/>
<circle cx="262.48" cy="219.89" r="0.85" fill="#e8531f" stroke="none" stroke-width="0.8"/>
<circle cx="263.24" cy="219.00" r="0.85" fill="#e8531f" stroke="none" stroke-width="0.8"/>
<circle cx="264.00" cy="220.58" r="0.85" fill="#e8531f" stroke="none" stroke-width="0.8"/>
<circle cx="264.76" cy="219.30" r="0.85" fill="#e8531f" stroke="none" stroke-width="0.8"/>
<circle cx="265.52" cy="218.93" r="0.85" fill="#e8531f" stroke="none" stroke-width="0.8"/>
<circle cx="266.28" cy="220.13" r="0.85" fill="#e8531f" stroke="none" stroke-width="0.8"/>
<circle cx="267.04" cy="217.87" r="0.85" fill="#e8531f" stroke="none" stroke-width="0.8"/>
<circle cx="267.80" cy="218.85" r="0.85" fill="#e8531f" stroke="none" stroke-width="0.8"/>
<circle cx="268.56" cy="219.58" r="0.85" fill="#e8531f" stroke="none" stroke-width="0.8"/>
<circle cx="269.32" cy="220.53" r="0.85" fill="#e8531f" stroke="none" stroke-width="0.8"/>
<circle cx="270.08" cy="219.42" r="0.85" fill="#e8531f" stroke="none" stroke-width="0.8"/>
<circle cx="270.84" cy="219.94" r="0.85" fill="#e8531f" stroke="none" stroke-width="0.8"/>
<circle cx="271.61" cy="218.88" r="0.85" fill="#e8531f" stroke="none" stroke-width="0.8"/>
<circle cx="272.37" cy="219.93" r="0.85" fill="#e8531f" stroke="none" stroke-width="0.8"/>
<circle cx="273.13" cy="221.43" r="0.85" fill="#e8531f" stroke="none" stroke-width="0.8"/>
<circle cx="273.89" cy="218.84" r="0.85" fill="#e8531f" stroke="none" stroke-width="0.8"/>
<circle cx="274.65" cy="222.20" r="0.85" fill="#e8531f" stroke="none" stroke-width="0.8"/>
<circle cx="275.41" cy="218.89" r="0.85" fill="#e8531f" stroke="none" stroke-width="0.8"/>
<circle cx="276.17" cy="219.62" r="0.85" fill="#e8531f" stroke="none" stroke-width="0.8"/>
<circle cx="276.93" cy="219.79" r="0.85" fill="#e8531f" stroke="none" stroke-width="0.8"/>
<circle cx="277.69" cy="220.73" r="0.85" fill="#e8531f" stroke="none" stroke-width="0.8"/>
<circle cx="278.45" cy="218.24" r="0.85" fill="#e8531f" stroke="none" stroke-width="0.8"/>
<circle cx="279.21" cy="217.29" r="0.85" fill="#e8531f" stroke="none" stroke-width="0.8"/>
<circle cx="279.97" cy="220.27" r="0.85" fill="#e8531f" stroke="none" stroke-width="0.8"/>
<circle cx="280.73" cy="220.47" r="0.85" fill="#e8531f" stroke="none" stroke-width="0.8"/>
<circle cx="281.49" cy="220.29" r="0.85" fill="#e8531f" stroke="none" stroke-width="0.8"/>
<circle cx="282.25" cy="222.49" r="0.85" fill="#e8531f" stroke="none" stroke-width="0.8"/>
<circle cx="283.01" cy="219.83" r="0.85" fill="#e8531f" stroke="none" stroke-width="0.8"/>
<circle cx="283.77" cy="219.88" r="0.85" fill="#e8531f" stroke="none" stroke-width="0.8"/>
<circle cx="284.53" cy="220.62" r="0.85" fill="#e8531f" stroke="none" stroke-width="0.8"/>
<circle cx="285.29" cy="220.01" r="0.85" fill="#e8531f" stroke="none" stroke-width="0.8"/>
<circle cx="286.05" cy="221.43" r="0.85" fill="#e8531f" stroke="none" stroke-width="0.8"/>
<circle cx="286.81" cy="218.24" r="0.85" fill="#e8531f" stroke="none" stroke-width="0.8"/>
<circle cx="287.57" cy="219.19" r="0.85" fill="#e8531f" stroke="none" stroke-width="0.8"/>
<circle cx="288.33" cy="215.81" r="0.85" fill="#e8531f" stroke="none" stroke-width="0.8"/>
<circle cx="289.09" cy="220.49" r="0.85" fill="#e8531f" stroke="none" stroke-width="0.8"/>
<circle cx="289.85" cy="219.19" r="0.85" fill="#e8531f" stroke="none" stroke-width="0.8"/>
<circle cx="290.62" cy="220.62" r="0.85" fill="#e8531f" stroke="none" stroke-width="0.8"/>
<circle cx="291.38" cy="221.97" r="0.85" fill="#e8531f" stroke="none" stroke-width="0.8"/>
<circle cx="292.14" cy="219.59" r="0.85" fill="#e8531f" stroke="none" stroke-width="0.8"/>
<circle cx="292.90" cy="219.32" r="0.85" fill="#e8531f" stroke="none" stroke-width="0.8"/>
<circle cx="293.66" cy="219.05" r="0.85" fill="#e8531f" stroke="none" stroke-width="0.8"/>
<circle cx="294.42" cy="218.68" r="0.85" fill="#e8531f" stroke="none" stroke-width="0.8"/>
<circle cx="295.18" cy="218.91" r="0.85" fill="#e8531f" stroke="none" stroke-width="0.8"/>
<circle cx="295.94" cy="220.30" r="0.85" fill="#e8531f" stroke="none" stroke-width="0.8"/>
<circle cx="296.70" cy="219.64" r="0.85" fill="#e8531f" stroke="none" stroke-width="0.8"/>
<circle cx="297.46" cy="219.67" r="0.85" fill="#e8531f" stroke="none" stroke-width="0.8"/>
<circle cx="298.22" cy="219.41" r="0.85" fill="#e8531f" stroke="none" stroke-width="0.8"/>
<circle cx="298.98" cy="220.61" r="0.85" fill="#e8531f" stroke="none" stroke-width="0.8"/>
<circle cx="299.74" cy="220.14" r="0.85" fill="#e8531f" stroke="none" stroke-width="0.8"/>
<circle cx="300.50" cy="219.44" r="0.85" fill="#e8531f" stroke="none" stroke-width="0.8"/>
<circle cx="301.26" cy="220.33" r="0.85" fill="#e8531f" stroke="none" stroke-width="0.8"/>
<circle cx="302.02" cy="219.43" r="0.85" fill="#e8531f" stroke="none" stroke-width="0.8"/>
<circle cx="302.78" cy="218.33" r="0.85" fill="#e8531f" stroke="none" stroke-width="0.8"/>
<circle cx="303.54" cy="221.20" r="0.85" fill="#e8531f" stroke="none" stroke-width="0.8"/>
<circle cx="304.30" cy="220.11" r="0.85" fill="#e8531f" stroke="none" stroke-width="0.8"/>
<circle cx="305.06" cy="218.55" r="0.85" fill="#e8531f" stroke="none" stroke-width="0.8"/>
<circle cx="305.82" cy="220.79" r="0.85" fill="#e8531f" stroke="none" stroke-width="0.8"/>
<circle cx="306.58" cy="219.98" r="0.85" fill="#e8531f" stroke="none" stroke-width="0.8"/>
<circle cx="307.34" cy="217.88" r="0.85" fill="#e8531f" stroke="none" stroke-width="0.8"/>
<circle cx="308.10" cy="221.37" r="0.85" fill="#e8531f" stroke="none" stroke-width="0.8"/>
<circle cx="308.86" cy="219.97" r="0.85" fill="#e8531f" stroke="none" stroke-width="0.8"/>
<circle cx="309.63" cy="220.58" r="0.85" fill="#e8531f" stroke="none" stroke-width="0.8"/>
<circle cx="310.39" cy="219.82" r="0.85" fill="#e8531f" stroke="none" stroke-width="0.8"/>
<circle cx="311.15" cy="219.44" r="0.85" fill="#e8531f" stroke="none" stroke-width="0.8"/>
<circle cx="311.91" cy="217.90" r="0.85" fill="#e8531f" stroke="none" stroke-width="0.8"/>
<circle cx="312.67" cy="220.67" r="0.85" fill="#e8531f" stroke="none" stroke-width="0.8"/>
<circle cx="313.43" cy="219.63" r="0.85" fill="#e8531f" stroke="none" stroke-width="0.8"/>
<circle cx="314.19" cy="219.28" r="0.85" fill="#e8531f" stroke="none" stroke-width="0.8"/>
<circle cx="314.95" cy="219.99" r="0.85" fill="#e8531f" stroke="none" stroke-width="0.8"/>
<circle cx="315.71" cy="219.69" r="0.85" fill="#e8531f" stroke="none" stroke-width="0.8"/>
<circle cx="316.47" cy="220.34" r="0.85" fill="#e8531f" stroke="none" stroke-width="0.8"/>
<circle cx="317.23" cy="219.19" r="0.85" fill="#e8531f" stroke="none" stroke-width="0.8"/>
<circle cx="317.99" cy="219.56" r="0.85" fill="#e8531f" stroke="none" stroke-width="0.8"/>
<circle cx="318.75" cy="217.25" r="0.85" fill="#e8531f" stroke="none" stroke-width="0.8"/>
<circle cx="319.51" cy="219.13" r="0.85" fill="#e8531f" stroke="none" stroke-width="0.8"/>
<circle cx="320.27" cy="220.34" r="0.85" fill="#e8531f" stroke="none" stroke-width="0.8"/>
<circle cx="321.03" cy="221.07" r="0.85" fill="#e8531f" stroke="none" stroke-width="0.8"/>
<circle cx="321.79" cy="219.20" r="0.85" fill="#e8531f" stroke="none" stroke-width="0.8"/>
<circle cx="322.55" cy="219.47" r="0.85" fill="#e8531f" stroke="none" stroke-width="0.8"/>
<circle cx="323.31" cy="221.34" r="0.85" fill="#e8531f" stroke="none" stroke-width="0.8"/>
<circle cx="324.07" cy="219.24" r="0.85" fill="#e8531f" stroke="none" stroke-width="0.8"/>
<circle cx="324.83" cy="220.41" r="0.85" fill="#e8531f" stroke="none" stroke-width="0.8"/>
<circle cx="325.59" cy="221.45" r="0.85" fill="#e8531f" stroke="none" stroke-width="0.8"/>
<circle cx="326.35" cy="219.64" r="0.85" fill="#e8531f" stroke="none" stroke-width="0.8"/>
<circle cx="327.11" cy="220.95" r="0.85" fill="#e8531f" stroke="none" stroke-width="0.8"/>
<circle cx="327.87" cy="218.82" r="0.85" fill="#e8531f" stroke="none" stroke-width="0.8"/>
<circle cx="328.64" cy="219.83" r="0.85" fill="#e8531f" stroke="none" stroke-width="0.8"/>
<circle cx="329.40" cy="219.51" r="0.85" fill="#e8531f" stroke="none" stroke-width="0.8"/>
<circle cx="330.16" cy="219.73" r="0.85" fill="#e8531f" stroke="none" stroke-width="0.8"/>
<circle cx="330.92" cy="220.84" r="0.85" fill="#e8531f" stroke="none" stroke-width="0.8"/>
<circle cx="331.68" cy="222.23" r="0.85" fill="#e8531f" stroke="none" stroke-width="0.8"/>
<circle cx="332.44" cy="218.87" r="0.85" fill="#e8531f" stroke="none" stroke-width="0.8"/>
<circle cx="333.20" cy="218.97" r="0.85" fill="#e8531f" stroke="none" stroke-width="0.8"/>
<circle cx="333.96" cy="220.15" r="0.85" fill="#e8531f" stroke="none" stroke-width="0.8"/>
<circle cx="334.72" cy="218.44" r="0.85" fill="#e8531f" stroke="none" stroke-width="0.8"/>
<circle cx="335.48" cy="220.15" r="0.85" fill="#e8531f" stroke="none" stroke-width="0.8"/>
<circle cx="336.24" cy="220.23" r="0.85" fill="#e8531f" stroke="none" stroke-width="0.8"/>
<circle cx="337.00" cy="219.29" r="0.85" fill="#e8531f" stroke="none" stroke-width="0.8"/>
<circle cx="337.76" cy="220.18" r="0.85" fill="#e8531f" stroke="none" stroke-width="0.8"/>
<circle cx="338.52" cy="217.90" r="0.85" fill="#e8531f" stroke="none" stroke-width="0.8"/>
<circle cx="339.28" cy="220.44" r="0.85" fill="#e8531f" stroke="none" stroke-width="0.8"/>
<circle cx="340.04" cy="217.90" r="0.85" fill="#e8531f" stroke="none" stroke-width="0.8"/>
<circle cx="340.80" cy="218.83" r="0.85" fill="#e8531f" stroke="none" stroke-width="0.8"/>
<circle cx="341.56" cy="218.99" r="0.85" fill="#e8531f" stroke="none" stroke-width="0.8"/>
<circle cx="342.32" cy="219.16" r="0.85" fill="#e8531f" stroke="none" stroke-width="0.8"/>
<circle cx="343.08" cy="220.54" r="0.85" fill="#e8531f" stroke="none" stroke-width="0.8"/>
<circle cx="343.84" cy="219.69" r="0.85" fill="#e8531f" stroke="none" stroke-width="0.8"/>
<circle cx="344.60" cy="219.16" r="0.85" fill="#e8531f" stroke="none" stroke-width="0.8"/>
<circle cx="345.36" cy="220.20" r="0.85" fill="#e8531f" stroke="none" stroke-width="0.8"/>
<circle cx="346.12" cy="221.34" r="0.85" fill="#e8531f" stroke="none" stroke-width="0.8"/>
<circle cx="346.88" cy="219.61" r="0.85" fill="#e8531f" stroke="none" stroke-width="0.8"/>
<circle cx="347.65" cy="220.00" r="0.85" fill="#e8531f" stroke="none" stroke-width="0.8"/>
<circle cx="348.41" cy="220.96" r="0.85" fill="#e8531f" stroke="none" stroke-width="0.8"/>
<circle cx="349.17" cy="219.89" r="0.85" fill="#e8531f" stroke="none" stroke-width="0.8"/>
<circle cx="349.93" cy="218.19" r="0.85" fill="#e8531f" stroke="none" stroke-width="0.8"/>
<circle cx="350.69" cy="222.34" r="0.85" fill="#e8531f" stroke="none" stroke-width="0.8"/>
<circle cx="351.45" cy="222.03" r="0.85" fill="#e8531f" stroke="none" stroke-width="0.8"/>
<circle cx="352.21" cy="217.42" r="0.85" fill="#e8531f" stroke="none" stroke-width="0.8"/>
<circle cx="352.97" cy="219.56" r="0.85" fill="#e8531f" stroke="none" stroke-width="0.8"/>
<circle cx="353.73" cy="220.06" r="0.85" fill="#e8531f" stroke="none" stroke-width="0.8"/>
<circle cx="354.49" cy="220.66" r="0.85" fill="#e8531f" stroke="none" stroke-width="0.8"/>
<circle cx="355.25" cy="220.34" r="0.85" fill="#e8531f" stroke="none" stroke-width="0.8"/>
<circle cx="356.01" cy="219.30" r="0.85" fill="#e8531f" stroke="none" stroke-width="0.8"/>
<circle cx="356.77" cy="218.44" r="0.85" fill="#e8531f" stroke="none" stroke-width="0.8"/>
<circle cx="357.53" cy="219.71" r="0.85" fill="#e8531f" stroke="none" stroke-width="0.8"/>
<circle cx="358.29" cy="220.74" r="0.85" fill="#e8531f" stroke="none" stroke-width="0.8"/>
<circle cx="359.05" cy="218.40" r="0.85" fill="#e8531f" stroke="none" stroke-width="0.8"/>
<circle cx="359.81" cy="218.47" r="0.85" fill="#e8531f" stroke="none" stroke-width="0.8"/>
<circle cx="360.57" cy="219.57" r="0.85" fill="#e8531f" stroke="none" stroke-width="0.8"/>
<circle cx="361.33" cy="217.47" r="0.85" fill="#e8531f" stroke="none" stroke-width="0.8"/>
<circle cx="362.09" cy="219.31" r="0.85" fill="#e8531f" stroke="none" stroke-width="0.8"/>
<circle cx="362.85" cy="219.12" r="0.85" fill="#e8531f" stroke="none" stroke-width="0.8"/>
<circle cx="363.61" cy="220.10" r="0.85" fill="#e8531f" stroke="none" stroke-width="0.8"/>
<circle cx="364.37" cy="218.83" r="0.85" fill="#e8531f" stroke="none" stroke-width="0.8"/>
<circle cx="365.13" cy="218.63" r="0.85" fill="#e8531f" stroke="none" stroke-width="0.8"/>
<circle cx="365.89" cy="219.17" r="0.85" fill="#e8531f" stroke="none" stroke-width="0.8"/>
<circle cx="366.66" cy="219.55" r="0.85" fill="#e8531f" stroke="none" stroke-width="0.8"/>
<circle cx="367.42" cy="218.87" r="0.85" fill="#e8531f" stroke="none" stroke-width="0.8"/>
<circle cx="368.18" cy="219.61" r="0.85" fill="#e8531f" stroke="none" stroke-width="0.8"/>
<circle cx="368.94" cy="220.43" r="0.85" fill="#e8531f" stroke="none" stroke-width="0.8"/>
<circle cx="369.70" cy="220.90" r="0.85" fill="#e8531f" stroke="none" stroke-width="0.8"/>
<circle cx="370.46" cy="219.75" r="0.85" fill="#e8531f" stroke="none" stroke-width="0.8"/>
<circle cx="371.22" cy="218.51" r="0.85" fill="#e8531f" stroke="none" stroke-width="0.8"/>
<circle cx="371.98" cy="218.69" r="0.85" fill="#e8531f" stroke="none" stroke-width="0.8"/>
<circle cx="372.74" cy="217.66" r="0.85" fill="#e8531f" stroke="none" stroke-width="0.8"/>
<circle cx="373.50" cy="219.85" r="0.85" fill="#e8531f" stroke="none" stroke-width="0.8"/>
<circle cx="374.26" cy="218.54" r="0.85" fill="#e8531f" stroke="none" stroke-width="0.8"/>
<circle cx="375.02" cy="218.88" r="0.85" fill="#e8531f" stroke="none" stroke-width="0.8"/>
<circle cx="375.78" cy="219.16" r="0.85" fill="#e8531f" stroke="none" stroke-width="0.8"/>
<circle cx="376.54" cy="218.22" r="0.85" fill="#e8531f" stroke="none" stroke-width="0.8"/>
<circle cx="377.30" cy="219.13" r="0.85" fill="#e8531f" stroke="none" stroke-width="0.8"/>
<circle cx="378.06" cy="218.89" r="0.85" fill="#e8531f" stroke="none" stroke-width="0.8"/>
<circle cx="378.82" cy="217.99" r="0.85" fill="#e8531f" stroke="none" stroke-width="0.8"/>
<circle cx="379.58" cy="219.05" r="0.85" fill="#e8531f" stroke="none" stroke-width="0.8"/>
<circle cx="380.34" cy="219.50" r="0.85" fill="#e8531f" stroke="none" stroke-width="0.8"/>
<circle cx="381.10" cy="217.97" r="0.85" fill="#e8531f" stroke="none" stroke-width="0.8"/>
<circle cx="381.86" cy="219.30" r="0.85" fill="#e8531f" stroke="none" stroke-width="0.8"/>
<circle cx="382.62" cy="219.00" r="0.85" fill="#e8531f" stroke="none" stroke-width="0.8"/>
<circle cx="383.38" cy="219.14" r="0.85" fill="#e8531f" stroke="none" stroke-width="0.8"/>
<circle cx="384.14" cy="219.12" r="0.85" fill="#e8531f" stroke="none" stroke-width="0.8"/>
<circle cx="384.90" cy="219.55" r="0.85" fill="#e8531f" stroke="none" stroke-width="0.8"/>
<circle cx="385.67" cy="218.79" r="0.85" fill="#e8531f" stroke="none" stroke-width="0.8"/>
<circle cx="386.43" cy="219.34" r="0.85" fill="#e8531f" stroke="none" stroke-width="0.8"/>
<circle cx="387.19" cy="218.70" r="0.85" fill="#e8531f" stroke="none" stroke-width="0.8"/>
<circle cx="387.95" cy="219.26" r="0.85" fill="#e8531f" stroke="none" stroke-width="0.8"/>
<circle cx="388.71" cy="218.49" r="0.85" fill="#e8531f" stroke="none" stroke-width="0.8"/>
<circle cx="389.47" cy="218.85" r="0.85" fill="#e8531f" stroke="none" stroke-width="0.8"/>
<circle cx="390.23" cy="219.77" r="0.85" fill="#e8531f" stroke="none" stroke-width="0.8"/>
<circle cx="390.99" cy="219.12" r="0.85" fill="#e8531f" stroke="none" stroke-width="0.8"/>
<circle cx="391.75" cy="218.82" r="0.85" fill="#e8531f" stroke="none" stroke-width="0.8"/>
<circle cx="392.51" cy="218.33" r="0.85" fill="#e8531f" stroke="none" stroke-width="0.8"/>
<circle cx="393.27" cy="218.50" r="0.85" fill="#e8531f" stroke="none" stroke-width="0.8"/>
<circle cx="394.03" cy="219.00" r="0.85" fill="#e8531f" stroke="none" stroke-width="0.8"/>
<circle cx="394.79" cy="219.37" r="0.85" fill="#e8531f" stroke="none" stroke-width="0.8"/>
<circle cx="395.55" cy="219.11" r="0.85" fill="#e8531f" stroke="none" stroke-width="0.8"/>
<circle cx="396.31" cy="219.16" r="0.85" fill="#e8531f" stroke="none" stroke-width="0.8"/>
<circle cx="397.07" cy="218.88" r="0.85" fill="#e8531f" stroke="none" stroke-width="0.8"/>
<circle cx="397.83" cy="219.58" r="0.85" fill="#e8531f" stroke="none" stroke-width="0.8"/>
<circle cx="398.59" cy="218.70" r="0.85" fill="#e8531f" stroke="none" stroke-width="0.8"/>
<circle cx="399.35" cy="218.63" r="0.85" fill="#e8531f" stroke="none" stroke-width="0.8"/>
<circle cx="400.11" cy="219.34" r="0.85" fill="#e8531f" stroke="none" stroke-width="0.8"/>
<circle cx="400.87" cy="218.93" r="0.85" fill="#e8531f" stroke="none" stroke-width="0.8"/>
<circle cx="401.63" cy="218.76" r="0.85" fill="#e8531f" stroke="none" stroke-width="0.8"/>
<circle cx="402.39" cy="218.61" r="0.85" fill="#e8531f" stroke="none" stroke-width="0.8"/>
<circle cx="403.15" cy="218.77" r="0.85" fill="#e8531f" stroke="none" stroke-width="0.8"/>
<circle cx="403.91" cy="219.21" r="0.85" fill="#e8531f" stroke="none" stroke-width="0.8"/>
<circle cx="404.68" cy="219.08" r="0.85" fill="#e8531f" stroke="none" stroke-width="0.8"/>
<circle cx="405.44" cy="218.30" r="0.85" fill="#e8531f" stroke="none" stroke-width="0.8"/>
<circle cx="406.20" cy="219.11" r="0.85" fill="#e8531f" stroke="none" stroke-width="0.8"/>
<circle cx="406.96" cy="218.99" r="0.85" fill="#e8531f" stroke="none" stroke-width="0.8"/>
<circle cx="407.72" cy="218.40" r="0.85" fill="#e8531f" stroke="none" stroke-width="0.8"/>
<circle cx="408.48" cy="219.29" r="0.85" fill="#e8531f" stroke="none" stroke-width="0.8"/>
<circle cx="409.24" cy="218.76" r="0.85" fill="#e8531f" stroke="none" stroke-width="0.8"/>
<circle cx="410.00" cy="218.73" r="0.85" fill="#e8531f" stroke="none" stroke-width="0.8"/>
<circle cx="410.76" cy="219.30" r="0.85" fill="#e8531f" stroke="none" stroke-width="0.8"/>
<circle cx="411.52" cy="219.56" r="0.85" fill="#e8531f" stroke="none" stroke-width="0.8"/>
<circle cx="412.28" cy="218.56" r="0.85" fill="#e8531f" stroke="none" stroke-width="0.8"/>
<circle cx="413.04" cy="219.12" r="0.85" fill="#e8531f" stroke="none" stroke-width="0.8"/>
<polyline points="34.6,219.7 370,219.7 376,220.5 413.8,220.7" fill="none" stroke="#3d5ea8" stroke-width="2.3"/>
<circle cx="33.60" cy="219.31" r="0.8" fill="#3d5ea8" stroke="none" stroke-width="0.8"/>
<circle cx="34.36" cy="220.74" r="0.8" fill="#3d5ea8" stroke="none" stroke-width="0.8"/>
<circle cx="35.12" cy="219.48" r="0.8" fill="#3d5ea8" stroke="none" stroke-width="0.8"/>
<circle cx="35.88" cy="220.24" r="0.8" fill="#3d5ea8" stroke="none" stroke-width="0.8"/>
<circle cx="36.64" cy="219.41" r="0.8" fill="#3d5ea8" stroke="none" stroke-width="0.8"/>
<circle cx="37.40" cy="220.07" r="0.8" fill="#3d5ea8" stroke="none" stroke-width="0.8"/>
<circle cx="38.16" cy="220.70" r="0.8" fill="#3d5ea8" stroke="none" stroke-width="0.8"/>
<circle cx="38.92" cy="218.56" r="0.8" fill="#3d5ea8" stroke="none" stroke-width="0.8"/>
<circle cx="39.68" cy="219.50" r="0.8" fill="#3d5ea8" stroke="none" stroke-width="0.8"/>
<circle cx="40.44" cy="219.93" r="0.8" fill="#3d5ea8" stroke="none" stroke-width="0.8"/>
<circle cx="41.20" cy="219.66" r="0.8" fill="#3d5ea8" stroke="none" stroke-width="0.8"/>
<circle cx="41.96" cy="219.40" r="0.8" fill="#3d5ea8" stroke="none" stroke-width="0.8"/>
<circle cx="42.72" cy="220.67" r="0.8" fill="#3d5ea8" stroke="none" stroke-width="0.8"/>
<circle cx="43.49" cy="219.74" r="0.8" fill="#3d5ea8" stroke="none" stroke-width="0.8"/>
<circle cx="44.25" cy="218.96" r="0.8" fill="#3d5ea8" stroke="none" stroke-width="0.8"/>
<circle cx="45.01" cy="220.08" r="0.8" fill="#3d5ea8" stroke="none" stroke-width="0.8"/>
<circle cx="45.77" cy="218.93" r="0.8" fill="#3d5ea8" stroke="none" stroke-width="0.8"/>
<circle cx="46.53" cy="220.22" r="0.8" fill="#3d5ea8" stroke="none" stroke-width="0.8"/>
<circle cx="47.29" cy="219.44" r="0.8" fill="#3d5ea8" stroke="none" stroke-width="0.8"/>
<circle cx="48.05" cy="219.77" r="0.8" fill="#3d5ea8" stroke="none" stroke-width="0.8"/>
<circle cx="48.81" cy="220.27" r="0.8" fill="#3d5ea8" stroke="none" stroke-width="0.8"/>
<circle cx="49.57" cy="219.75" r="0.8" fill="#3d5ea8" stroke="none" stroke-width="0.8"/>
<circle cx="50.33" cy="219.07" r="0.8" fill="#3d5ea8" stroke="none" stroke-width="0.8"/>
<circle cx="51.09" cy="218.94" r="0.8" fill="#3d5ea8" stroke="none" stroke-width="0.8"/>
<circle cx="51.85" cy="220.23" r="0.8" fill="#3d5ea8" stroke="none" stroke-width="0.8"/>
<circle cx="52.61" cy="220.03" r="0.8" fill="#3d5ea8" stroke="none" stroke-width="0.8"/>
<circle cx="53.37" cy="219.33" r="0.8" fill="#3d5ea8" stroke="none" stroke-width="0.8"/>
<circle cx="54.13" cy="220.09" r="0.8" fill="#3d5ea8" stroke="none" stroke-width="0.8"/>
<circle cx="54.89" cy="219.92" r="0.8" fill="#3d5ea8" stroke="none" stroke-width="0.8"/>
<circle cx="55.65" cy="219.99" r="0.8" fill="#3d5ea8" stroke="none" stroke-width="0.8"/>
<circle cx="56.41" cy="218.68" r="0.8" fill="#3d5ea8" stroke="none" stroke-width="0.8"/>
<circle cx="57.17" cy="219.56" r="0.8" fill="#3d5ea8" stroke="none" stroke-width="0.8"/>
<circle cx="57.93" cy="220.11" r="0.8" fill="#3d5ea8" stroke="none" stroke-width="0.8"/>
<circle cx="58.69" cy="220.03" r="0.8" fill="#3d5ea8" stroke="none" stroke-width="0.8"/>
<circle cx="59.45" cy="220.10" r="0.8" fill="#3d5ea8" stroke="none" stroke-width="0.8"/>
<circle cx="60.21" cy="218.59" r="0.8" fill="#3d5ea8" stroke="none" stroke-width="0.8"/>
<circle cx="60.97" cy="219.78" r="0.8" fill="#3d5ea8" stroke="none" stroke-width="0.8"/>
<circle cx="61.73" cy="219.92" r="0.8" fill="#3d5ea8" stroke="none" stroke-width="0.8"/>
<circle cx="62.50" cy="220.85" r="0.8" fill="#3d5ea8" stroke="none" stroke-width="0.8"/>
<circle cx="63.26" cy="219.27" r="0.8" fill="#3d5ea8" stroke="none" stroke-width="0.8"/>
<circle cx="64.02" cy="219.55" r="0.8" fill="#3d5ea8" stroke="none" stroke-width="0.8"/>
<circle cx="64.78" cy="219.72" r="0.8" fill="#3d5ea8" stroke="none" stroke-width="0.8"/>
<circle cx="65.54" cy="220.10" r="0.8" fill="#3d5ea8" stroke="none" stroke-width="0.8"/>
<circle cx="66.30" cy="219.50" r="0.8" fill="#3d5ea8" stroke="none" stroke-width="0.8"/>
<circle cx="67.06" cy="220.22" r="0.8" fill="#3d5ea8" stroke="none" stroke-width="0.8"/>
<circle cx="67.82" cy="219.35" r="0.8" fill="#3d5ea8" stroke="none" stroke-width="0.8"/>
<circle cx="68.58" cy="219.82" r="0.8" fill="#3d5ea8" stroke="none" stroke-width="0.8"/>
<circle cx="69.34" cy="219.46" r="0.8" fill="#3d5ea8" stroke="none" stroke-width="0.8"/>
<circle cx="70.10" cy="219.77" r="0.8" fill="#3d5ea8" stroke="none" stroke-width="0.8"/>
<circle cx="70.86" cy="219.39" r="0.8" fill="#3d5ea8" stroke="none" stroke-width="0.8"/>
<circle cx="71.62" cy="218.98" r="0.8" fill="#3d5ea8" stroke="none" stroke-width="0.8"/>
<circle cx="72.38" cy="220.19" r="0.8" fill="#3d5ea8" stroke="none" stroke-width="0.8"/>
<circle cx="73.14" cy="219.84" r="0.8" fill="#3d5ea8" stroke="none" stroke-width="0.8"/>
<circle cx="73.90" cy="219.45" r="0.8" fill="#3d5ea8" stroke="none" stroke-width="0.8"/>
<circle cx="74.66" cy="219.79" r="0.8" fill="#3d5ea8" stroke="none" stroke-width="0.8"/>
<circle cx="75.42" cy="220.15" r="0.8" fill="#3d5ea8" stroke="none" stroke-width="0.8"/>
<circle cx="76.18" cy="219.26" r="0.8" fill="#3d5ea8" stroke="none" stroke-width="0.8"/>
<circle cx="76.94" cy="219.65" r="0.8" fill="#3d5ea8" stroke="none" stroke-width="0.8"/>
<circle cx="77.70" cy="219.94" r="0.8" fill="#3d5ea8" stroke="none" stroke-width="0.8"/>
<circle cx="78.46" cy="219.94" r="0.8" fill="#3d5ea8" stroke="none" stroke-width="0.8"/>
<circle cx="79.22" cy="219.55" r="0.8" fill="#3d5ea8" stroke="none" stroke-width="0.8"/>
<circle cx="79.98" cy="218.75" r="0.8" fill="#3d5ea8" stroke="none" stroke-width="0.8"/>
<circle cx="80.74" cy="220.26" r="0.8" fill="#3d5ea8" stroke="none" stroke-width="0.8"/>
<circle cx="81.51" cy="219.85" r="0.8" fill="#3d5ea8" stroke="none" stroke-width="0.8"/>
<circle cx="82.27" cy="219.71" r="0.8" fill="#3d5ea8" stroke="none" stroke-width="0.8"/>
<circle cx="83.03" cy="219.57" r="0.8" fill="#3d5ea8" stroke="none" stroke-width="0.8"/>
<circle cx="83.79" cy="219.82" r="0.8" fill="#3d5ea8" stroke="none" stroke-width="0.8"/>
<circle cx="84.55" cy="219.51" r="0.8" fill="#3d5ea8" stroke="none" stroke-width="0.8"/>
<circle cx="85.31" cy="219.24" r="0.8" fill="#3d5ea8" stroke="none" stroke-width="0.8"/>
<circle cx="86.07" cy="219.37" r="0.8" fill="#3d5ea8" stroke="none" stroke-width="0.8"/>
<circle cx="86.83" cy="219.43" r="0.8" fill="#3d5ea8" stroke="none" stroke-width="0.8"/>
<circle cx="87.59" cy="219.42" r="0.8" fill="#3d5ea8" stroke="none" stroke-width="0.8"/>
<circle cx="88.35" cy="219.18" r="0.8" fill="#3d5ea8" stroke="none" stroke-width="0.8"/>
<circle cx="89.11" cy="219.99" r="0.8" fill="#3d5ea8" stroke="none" stroke-width="0.8"/>
<circle cx="89.87" cy="219.11" r="0.8" fill="#3d5ea8" stroke="none" stroke-width="0.8"/>
<circle cx="90.63" cy="220.00" r="0.8" fill="#3d5ea8" stroke="none" stroke-width="0.8"/>
<circle cx="91.39" cy="219.24" r="0.8" fill="#3d5ea8" stroke="none" stroke-width="0.8"/>
<circle cx="92.15" cy="219.86" r="0.8" fill="#3d5ea8" stroke="none" stroke-width="0.8"/>
<circle cx="92.91" cy="220.32" r="0.8" fill="#3d5ea8" stroke="none" stroke-width="0.8"/>
<circle cx="93.67" cy="219.79" r="0.8" fill="#3d5ea8" stroke="none" stroke-width="0.8"/>
<circle cx="94.43" cy="219.37" r="0.8" fill="#3d5ea8" stroke="none" stroke-width="0.8"/>
<circle cx="95.19" cy="219.72" r="0.8" fill="#3d5ea8" stroke="none" stroke-width="0.8"/>
<circle cx="95.95" cy="219.77" r="0.8" fill="#3d5ea8" stroke="none" stroke-width="0.8"/>
<circle cx="96.71" cy="218.92" r="0.8" fill="#3d5ea8" stroke="none" stroke-width="0.8"/>
<circle cx="97.47" cy="219.43" r="0.8" fill="#3d5ea8" stroke="none" stroke-width="0.8"/>
<circle cx="98.23" cy="219.77" r="0.8" fill="#3d5ea8" stroke="none" stroke-width="0.8"/>
<circle cx="98.99" cy="219.49" r="0.8" fill="#3d5ea8" stroke="none" stroke-width="0.8"/>
<circle cx="99.75" cy="219.74" r="0.8" fill="#3d5ea8" stroke="none" stroke-width="0.8"/>
<circle cx="100.52" cy="220.03" r="0.8" fill="#3d5ea8" stroke="none" stroke-width="0.8"/>
<circle cx="101.28" cy="220.04" r="0.8" fill="#3d5ea8" stroke="none" stroke-width="0.8"/>
<circle cx="102.04" cy="220.11" r="0.8" fill="#3d5ea8" stroke="none" stroke-width="0.8"/>
<circle cx="102.80" cy="219.96" r="0.8" fill="#3d5ea8" stroke="none" stroke-width="0.8"/>
<circle cx="103.56" cy="219.57" r="0.8" fill="#3d5ea8" stroke="none" stroke-width="0.8"/>
<circle cx="104.32" cy="219.69" r="0.8" fill="#3d5ea8" stroke="none" stroke-width="0.8"/>
<circle cx="105.08" cy="219.58" r="0.8" fill="#3d5ea8" stroke="none" stroke-width="0.8"/>
<circle cx="105.84" cy="219.56" r="0.8" fill="#3d5ea8" stroke="none" stroke-width="0.8"/>
<circle cx="106.60" cy="219.62" r="0.8" fill="#3d5ea8" stroke="none" stroke-width="0.8"/>
<circle cx="107.36" cy="218.92" r="0.8" fill="#3d5ea8" stroke="none" stroke-width="0.8"/>
<circle cx="108.12" cy="219.55" r="0.8" fill="#3d5ea8" stroke="none" stroke-width="0.8"/>
<circle cx="108.88" cy="219.69" r="0.8" fill="#3d5ea8" stroke="none" stroke-width="0.8"/>
<circle cx="109.64" cy="219.26" r="0.8" fill="#3d5ea8" stroke="none" stroke-width="0.8"/>
<circle cx="110.40" cy="219.69" r="0.8" fill="#3d5ea8" stroke="none" stroke-width="0.8"/>
<circle cx="111.16" cy="219.93" r="0.8" fill="#3d5ea8" stroke="none" stroke-width="0.8"/>
<circle cx="111.92" cy="219.63" r="0.8" fill="#3d5ea8" stroke="none" stroke-width="0.8"/>
<circle cx="112.68" cy="220.63" r="0.8" fill="#3d5ea8" stroke="none" stroke-width="0.8"/>
<circle cx="113.44" cy="218.53" r="0.8" fill="#3d5ea8" stroke="none" stroke-width="0.8"/>
<circle cx="114.20" cy="219.61" r="0.8" fill="#3d5ea8" stroke="none" stroke-width="0.8"/>
<circle cx="114.96" cy="218.88" r="0.8" fill="#3d5ea8" stroke="none" stroke-width="0.8"/>
<circle cx="115.72" cy="220.14" r="0.8" fill="#3d5ea8" stroke="none" stroke-width="0.8"/>
<circle cx="116.48" cy="220.89" r="0.8" fill="#3d5ea8" stroke="none" stroke-width="0.8"/>
<circle cx="117.24" cy="218.57" r="0.8" fill="#3d5ea8" stroke="none" stroke-width="0.8"/>
<circle cx="118.00" cy="219.76" r="0.8" fill="#3d5ea8" stroke="none" stroke-width="0.8"/>
<circle cx="118.76" cy="219.93" r="0.8" fill="#3d5ea8" stroke="none" stroke-width="0.8"/>
<circle cx="119.53" cy="219.56" r="0.8" fill="#3d5ea8" stroke="none" stroke-width="0.8"/>
<circle cx="120.29" cy="219.95" r="0.8" fill="#3d5ea8" stroke="none" stroke-width="0.8"/>
<circle cx="121.05" cy="218.69" r="0.8" fill="#3d5ea8" stroke="none" stroke-width="0.8"/>
<circle cx="121.81" cy="220.08" r="0.8" fill="#3d5ea8" stroke="none" stroke-width="0.8"/>
<circle cx="122.57" cy="219.87" r="0.8" fill="#3d5ea8" stroke="none" stroke-width="0.8"/>
<circle cx="123.33" cy="219.71" r="0.8" fill="#3d5ea8" stroke="none" stroke-width="0.8"/>
<circle cx="124.09" cy="219.44" r="0.8" fill="#3d5ea8" stroke="none" stroke-width="0.8"/>
<circle cx="124.85" cy="219.99" r="0.8" fill="#3d5ea8" stroke="none" stroke-width="0.8"/>
<circle cx="125.61" cy="219.48" r="0.8" fill="#3d5ea8" stroke="none" stroke-width="0.8"/>
<circle cx="126.37" cy="219.80" r="0.8" fill="#3d5ea8" stroke="none" stroke-width="0.8"/>
<circle cx="127.13" cy="219.47" r="0.8" fill="#3d5ea8" stroke="none" stroke-width="0.8"/>
<circle cx="127.89" cy="218.69" r="0.8" fill="#3d5ea8" stroke="none" stroke-width="0.8"/>
<circle cx="128.65" cy="219.69" r="0.8" fill="#3d5ea8" stroke="none" stroke-width="0.8"/>
<circle cx="129.41" cy="219.79" r="0.8" fill="#3d5ea8" stroke="none" stroke-width="0.8"/>
<circle cx="130.17" cy="220.04" r="0.8" fill="#3d5ea8" stroke="none" stroke-width="0.8"/>
<circle cx="130.93" cy="219.31" r="0.8" fill="#3d5ea8" stroke="none" stroke-width="0.8"/>
<circle cx="131.69" cy="219.69" r="0.8" fill="#3d5ea8" stroke="none" stroke-width="0.8"/>
<circle cx="132.45" cy="219.98" r="0.8" fill="#3d5ea8" stroke="none" stroke-width="0.8"/>
<circle cx="133.21" cy="219.77" r="0.8" fill="#3d5ea8" stroke="none" stroke-width="0.8"/>
<circle cx="133.97" cy="220.26" r="0.8" fill="#3d5ea8" stroke="none" stroke-width="0.8"/>
<circle cx="134.73" cy="220.60" r="0.8" fill="#3d5ea8" stroke="none" stroke-width="0.8"/>
<circle cx="135.49" cy="219.29" r="0.8" fill="#3d5ea8" stroke="none" stroke-width="0.8"/>
<circle cx="136.25" cy="218.84" r="0.8" fill="#3d5ea8" stroke="none" stroke-width="0.8"/>
<circle cx="137.01" cy="220.09" r="0.8" fill="#3d5ea8" stroke="none" stroke-width="0.8"/>
<circle cx="137.77" cy="220.39" r="0.8" fill="#3d5ea8" stroke="none" stroke-width="0.8"/>
<circle cx="138.54" cy="220.12" r="0.8" fill="#3d5ea8" stroke="none" stroke-width="0.8"/>
<circle cx="139.30" cy="220.07" r="0.8" fill="#3d5ea8" stroke="none" stroke-width="0.8"/>
<circle cx="140.06" cy="219.42" r="0.8" fill="#3d5ea8" stroke="none" stroke-width="0.8"/>
<circle cx="140.82" cy="219.38" r="0.8" fill="#3d5ea8" stroke="none" stroke-width="0.8"/>
<circle cx="141.58" cy="220.10" r="0.8" fill="#3d5ea8" stroke="none" stroke-width="0.8"/>
<circle cx="142.34" cy="219.29" r="0.8" fill="#3d5ea8" stroke="none" stroke-width="0.8"/>
<circle cx="143.10" cy="218.88" r="0.8" fill="#3d5ea8" stroke="none" stroke-width="0.8"/>
<circle cx="143.86" cy="219.25" r="0.8" fill="#3d5ea8" stroke="none" stroke-width="0.8"/>
<circle cx="144.62" cy="220.82" r="0.8" fill="#3d5ea8" stroke="none" stroke-width="0.8"/>
<circle cx="145.38" cy="220.57" r="0.8" fill="#3d5ea8" stroke="none" stroke-width="0.8"/>
<circle cx="146.14" cy="219.39" r="0.8" fill="#3d5ea8" stroke="none" stroke-width="0.8"/>
<circle cx="146.90" cy="219.37" r="0.8" fill="#3d5ea8" stroke="none" stroke-width="0.8"/>
<circle cx="147.66" cy="219.80" r="0.8" fill="#3d5ea8" stroke="none" stroke-width="0.8"/>
<circle cx="148.42" cy="219.36" r="0.8" fill="#3d5ea8" stroke="none" stroke-width="0.8"/>
<circle cx="149.18" cy="220.29" r="0.8" fill="#3d5ea8" stroke="none" stroke-width="0.8"/>
<circle cx="149.94" cy="219.66" r="0.8" fill="#3d5ea8" stroke="none" stroke-width="0.8"/>
<circle cx="150.70" cy="219.21" r="0.8" fill="#3d5ea8" stroke="none" stroke-width="0.8"/>
<circle cx="151.46" cy="220.29" r="0.8" fill="#3d5ea8" stroke="none" stroke-width="0.8"/>
<circle cx="152.22" cy="219.44" r="0.8" fill="#3d5ea8" stroke="none" stroke-width="0.8"/>
<circle cx="152.98" cy="219.80" r="0.8" fill="#3d5ea8" stroke="none" stroke-width="0.8"/>
<circle cx="153.74" cy="219.69" r="0.8" fill="#3d5ea8" stroke="none" stroke-width="0.8"/>
<circle cx="154.50" cy="219.56" r="0.8" fill="#3d5ea8" stroke="none" stroke-width="0.8"/>
<circle cx="155.26" cy="219.85" r="0.8" fill="#3d5ea8" stroke="none" stroke-width="0.8"/>
<circle cx="156.02" cy="219.39" r="0.8" fill="#3d5ea8" stroke="none" stroke-width="0.8"/>
<circle cx="156.78" cy="218.87" r="0.8" fill="#3d5ea8" stroke="none" stroke-width="0.8"/>
<circle cx="157.55" cy="218.71" r="0.8" fill="#3d5ea8" stroke="none" stroke-width="0.8"/>
<circle cx="158.31" cy="219.13" r="0.8" fill="#3d5ea8" stroke="none" stroke-width="0.8"/>
<circle cx="159.07" cy="219.36" r="0.8" fill="#3d5ea8" stroke="none" stroke-width="0.8"/>
<circle cx="159.83" cy="219.69" r="0.8" fill="#3d5ea8" stroke="none" stroke-width="0.8"/>
<circle cx="160.59" cy="219.72" r="0.8" fill="#3d5ea8" stroke="none" stroke-width="0.8"/>
<circle cx="161.35" cy="219.95" r="0.8" fill="#3d5ea8" stroke="none" stroke-width="0.8"/>
<circle cx="162.11" cy="219.75" r="0.8" fill="#3d5ea8" stroke="none" stroke-width="0.8"/>
<circle cx="162.87" cy="219.34" r="0.8" fill="#3d5ea8" stroke="none" stroke-width="0.8"/>
<circle cx="163.63" cy="219.38" r="0.8" fill="#3d5ea8" stroke="none" stroke-width="0.8"/>
<circle cx="164.39" cy="218.75" r="0.8" fill="#3d5ea8" stroke="none" stroke-width="0.8"/>
<circle cx="165.15" cy="219.62" r="0.8" fill="#3d5ea8" stroke="none" stroke-width="0.8"/>
<circle cx="165.91" cy="219.92" r="0.8" fill="#3d5ea8" stroke="none" stroke-width="0.8"/>
<circle cx="166.67" cy="219.94" r="0.8" fill="#3d5ea8" stroke="none" stroke-width="0.8"/>
<circle cx="167.43" cy="219.65" r="0.8" fill="#3d5ea8" stroke="none" stroke-width="0.8"/>
<circle cx="168.19" cy="219.62" r="0.8" fill="#3d5ea8" stroke="none" stroke-width="0.8"/>
<circle cx="168.95" cy="220.12" r="0.8" fill="#3d5ea8" stroke="none" stroke-width="0.8"/>
<circle cx="169.71" cy="219.71" r="0.8" fill="#3d5ea8" stroke="none" stroke-width="0.8"/>
<circle cx="170.47" cy="220.03" r="0.8" fill="#3d5ea8" stroke="none" stroke-width="0.8"/>
<circle cx="171.23" cy="219.96" r="0.8" fill="#3d5ea8" stroke="none" stroke-width="0.8"/>
<circle cx="171.99" cy="219.80" r="0.8" fill="#3d5ea8" stroke="none" stroke-width="0.8"/>
<circle cx="172.75" cy="220.29" r="0.8" fill="#3d5ea8" stroke="none" stroke-width="0.8"/>
<circle cx="173.51" cy="219.44" r="0.8" fill="#3d5ea8" stroke="none" stroke-width="0.8"/>
<circle cx="174.27" cy="219.54" r="0.8" fill="#3d5ea8" stroke="none" stroke-width="0.8"/>
<circle cx="175.03" cy="219.34" r="0.8" fill="#3d5ea8" stroke="none" stroke-width="0.8"/>
<circle cx="175.79" cy="219.34" r="0.8" fill="#3d5ea8" stroke="none" stroke-width="0.8"/>
<circle cx="176.56" cy="220.40" r="0.8" fill="#3d5ea8" stroke="none" stroke-width="0.8"/>
<circle cx="177.32" cy="220.49" r="0.8" fill="#3d5ea8" stroke="none" stroke-width="0.8"/>
<circle cx="178.08" cy="219.71" r="0.8" fill="#3d5ea8" stroke="none" stroke-width="0.8"/>
<circle cx="178.84" cy="219.96" r="0.8" fill="#3d5ea8" stroke="none" stroke-width="0.8"/>
<circle cx="179.60" cy="220.23" r="0.8" fill="#3d5ea8" stroke="none" stroke-width="0.8"/>
<circle cx="180.36" cy="220.06" r="0.8" fill="#3d5ea8" stroke="none" stroke-width="0.8"/>
<circle cx="181.12" cy="220.24" r="0.8" fill="#3d5ea8" stroke="none" stroke-width="0.8"/>
<circle cx="181.88" cy="219.13" r="0.8" fill="#3d5ea8" stroke="none" stroke-width="0.8"/>
<circle cx="182.64" cy="219.41" r="0.8" fill="#3d5ea8" stroke="none" stroke-width="0.8"/>
<circle cx="183.40" cy="219.90" r="0.8" fill="#3d5ea8" stroke="none" stroke-width="0.8"/>
<circle cx="184.16" cy="220.35" r="0.8" fill="#3d5ea8" stroke="none" stroke-width="0.8"/>
<circle cx="184.92" cy="219.75" r="0.8" fill="#3d5ea8" stroke="none" stroke-width="0.8"/>
<circle cx="185.68" cy="219.31" r="0.8" fill="#3d5ea8" stroke="none" stroke-width="0.8"/>
<circle cx="186.44" cy="219.54" r="0.8" fill="#3d5ea8" stroke="none" stroke-width="0.8"/>
<circle cx="187.20" cy="219.40" r="0.8" fill="#3d5ea8" stroke="none" stroke-width="0.8"/>
<circle cx="187.96" cy="219.31" r="0.8" fill="#3d5ea8" stroke="none" stroke-width="0.8"/>
<circle cx="188.72" cy="220.38" r="0.8" fill="#3d5ea8" stroke="none" stroke-width="0.8"/>
<circle cx="189.48" cy="219.42" r="0.8" fill="#3d5ea8" stroke="none" stroke-width="0.8"/>
<circle cx="190.24" cy="219.71" r="0.8" fill="#3d5ea8" stroke="none" stroke-width="0.8"/>
<circle cx="191.00" cy="220.67" r="0.8" fill="#3d5ea8" stroke="none" stroke-width="0.8"/>
<circle cx="191.76" cy="220.23" r="0.8" fill="#3d5ea8" stroke="none" stroke-width="0.8"/>
<circle cx="192.52" cy="219.85" r="0.8" fill="#3d5ea8" stroke="none" stroke-width="0.8"/>
<circle cx="193.28" cy="219.42" r="0.8" fill="#3d5ea8" stroke="none" stroke-width="0.8"/>
<circle cx="194.04" cy="219.88" r="0.8" fill="#3d5ea8" stroke="none" stroke-width="0.8"/>
<circle cx="194.80" cy="220.43" r="0.8" fill="#3d5ea8" stroke="none" stroke-width="0.8"/>
<circle cx="195.57" cy="219.98" r="0.8" fill="#3d5ea8" stroke="none" stroke-width="0.8"/>
<circle cx="196.33" cy="220.27" r="0.8" fill="#3d5ea8" stroke="none" stroke-width="0.8"/>
<circle cx="197.09" cy="219.74" r="0.8" fill="#3d5ea8" stroke="none" stroke-width="0.8"/>
<circle cx="197.85" cy="219.93" r="0.8" fill="#3d5ea8" stroke="none" stroke-width="0.8"/>
<circle cx="198.61" cy="219.61" r="0.8" fill="#3d5ea8" stroke="none" stroke-width="0.8"/>
<circle cx="199.37" cy="219.89" r="0.8" fill="#3d5ea8" stroke="none" stroke-width="0.8"/>
<circle cx="200.13" cy="220.29" r="0.8" fill="#3d5ea8" stroke="none" stroke-width="0.8"/>
<circle cx="200.89" cy="219.06" r="0.8" fill="#3d5ea8" stroke="none" stroke-width="0.8"/>
<circle cx="201.65" cy="219.67" r="0.8" fill="#3d5ea8" stroke="none" stroke-width="0.8"/>
<circle cx="202.41" cy="219.81" r="0.8" fill="#3d5ea8" stroke="none" stroke-width="0.8"/>
<circle cx="203.17" cy="219.44" r="0.8" fill="#3d5ea8" stroke="none" stroke-width="0.8"/>
<circle cx="203.93" cy="219.56" r="0.8" fill="#3d5ea8" stroke="none" stroke-width="0.8"/>
<circle cx="204.69" cy="220.05" r="0.8" fill="#3d5ea8" stroke="none" stroke-width="0.8"/>
<circle cx="205.45" cy="220.60" r="0.8" fill="#3d5ea8" stroke="none" stroke-width="0.8"/>
<circle cx="206.21" cy="219.98" r="0.8" fill="#3d5ea8" stroke="none" stroke-width="0.8"/>
<circle cx="206.97" cy="219.85" r="0.8" fill="#3d5ea8" stroke="none" stroke-width="0.8"/>
<circle cx="207.73" cy="219.00" r="0.8" fill="#3d5ea8" stroke="none" stroke-width="0.8"/>
<circle cx="208.49" cy="220.57" r="0.8" fill="#3d5ea8" stroke="none" stroke-width="0.8"/>
<circle cx="209.25" cy="219.73" r="0.8" fill="#3d5ea8" stroke="none" stroke-width="0.8"/>
<circle cx="210.01" cy="219.68" r="0.8" fill="#3d5ea8" stroke="none" stroke-width="0.8"/>
<circle cx="210.77" cy="219.20" r="0.8" fill="#3d5ea8" stroke="none" stroke-width="0.8"/>
<circle cx="211.53" cy="219.67" r="0.8" fill="#3d5ea8" stroke="none" stroke-width="0.8"/>
<circle cx="212.29" cy="219.21" r="0.8" fill="#3d5ea8" stroke="none" stroke-width="0.8"/>
<circle cx="213.05" cy="219.73" r="0.8" fill="#3d5ea8" stroke="none" stroke-width="0.8"/>
<circle cx="213.81" cy="219.91" r="0.8" fill="#3d5ea8" stroke="none" stroke-width="0.8"/>
<circle cx="214.58" cy="219.71" r="0.8" fill="#3d5ea8" stroke="none" stroke-width="0.8"/>
<circle cx="215.34" cy="219.83" r="0.8" fill="#3d5ea8" stroke="none" stroke-width="0.8"/>
<circle cx="216.10" cy="219.32" r="0.8" fill="#3d5ea8" stroke="none" stroke-width="0.8"/>
<circle cx="216.86" cy="220.34" r="0.8" fill="#3d5ea8" stroke="none" stroke-width="0.8"/>
<circle cx="217.62" cy="219.41" r="0.8" fill="#3d5ea8" stroke="none" stroke-width="0.8"/>
<circle cx="218.38" cy="218.88" r="0.8" fill="#3d5ea8" stroke="none" stroke-width="0.8"/>
<circle cx="219.14" cy="219.62" r="0.8" fill="#3d5ea8" stroke="none" stroke-width="0.8"/>
<circle cx="219.90" cy="219.36" r="0.8" fill="#3d5ea8" stroke="none" stroke-width="0.8"/>
<circle cx="220.66" cy="219.25" r="0.8" fill="#3d5ea8" stroke="none" stroke-width="0.8"/>
<circle cx="221.42" cy="219.54" r="0.8" fill="#3d5ea8" stroke="none" stroke-width="0.8"/>
<circle cx="222.18" cy="219.83" r="0.8" fill="#3d5ea8" stroke="none" stroke-width="0.8"/>
<circle cx="222.94" cy="219.17" r="0.8" fill="#3d5ea8" stroke="none" stroke-width="0.8"/>
<circle cx="223.70" cy="219.64" r="0.8" fill="#3d5ea8" stroke="none" stroke-width="0.8"/>
<circle cx="224.46" cy="220.34" r="0.8" fill="#3d5ea8" stroke="none" stroke-width="0.8"/>
<circle cx="225.22" cy="220.01" r="0.8" fill="#3d5ea8" stroke="none" stroke-width="0.8"/>
<circle cx="225.98" cy="219.63" r="0.8" fill="#3d5ea8" stroke="none" stroke-width="0.8"/>
<circle cx="226.74" cy="219.76" r="0.8" fill="#3d5ea8" stroke="none" stroke-width="0.8"/>
<circle cx="227.50" cy="219.65" r="0.8" fill="#3d5ea8" stroke="none" stroke-width="0.8"/>
<circle cx="228.26" cy="219.68" r="0.8" fill="#3d5ea8" stroke="none" stroke-width="0.8"/>
<circle cx="229.02" cy="220.03" r="0.8" fill="#3d5ea8" stroke="none" stroke-width="0.8"/>
<circle cx="229.78" cy="219.66" r="0.8" fill="#3d5ea8" stroke="none" stroke-width="0.8"/>
<circle cx="230.54" cy="218.62" r="0.8" fill="#3d5ea8" stroke="none" stroke-width="0.8"/>
<circle cx="231.30" cy="219.69" r="0.8" fill="#3d5ea8" stroke="none" stroke-width="0.8"/>
<circle cx="232.06" cy="219.30" r="0.8" fill="#3d5ea8" stroke="none" stroke-width="0.8"/>
<circle cx="232.82" cy="219.99" r="0.8" fill="#3d5ea8" stroke="none" stroke-width="0.8"/>
<circle cx="233.59" cy="219.43" r="0.8" fill="#3d5ea8" stroke="none" stroke-width="0.8"/>
<circle cx="234.35" cy="219.77" r="0.8" fill="#3d5ea8" stroke="none" stroke-width="0.8"/>
<circle cx="235.11" cy="220.68" r="0.8" fill="#3d5ea8" stroke="none" stroke-width="0.8"/>
<circle cx="235.87" cy="219.23" r="0.8" fill="#3d5ea8" stroke="none" stroke-width="0.8"/>
<circle cx="236.63" cy="219.19" r="0.8" fill="#3d5ea8" stroke="none" stroke-width="0.8"/>
<circle cx="237.39" cy="219.06" r="0.8" fill="#3d5ea8" stroke="none" stroke-width="0.8"/>
<circle cx="238.15" cy="218.62" r="0.8" fill="#3d5ea8" stroke="none" stroke-width="0.8"/>
<circle cx="238.91" cy="218.85" r="0.8" fill="#3d5ea8" stroke="none" stroke-width="0.8"/>
<circle cx="239.67" cy="219.86" r="0.8" fill="#3d5ea8" stroke="none" stroke-width="0.8"/>
<circle cx="240.43" cy="219.41" r="0.8" fill="#3d5ea8" stroke="none" stroke-width="0.8"/>
<circle cx="241.19" cy="218.86" r="0.8" fill="#3d5ea8" stroke="none" stroke-width="0.8"/>
<circle cx="241.95" cy="219.03" r="0.8" fill="#3d5ea8" stroke="none" stroke-width="0.8"/>
<circle cx="242.71" cy="219.98" r="0.8" fill="#3d5ea8" stroke="none" stroke-width="0.8"/>
<circle cx="243.47" cy="219.35" r="0.8" fill="#3d5ea8" stroke="none" stroke-width="0.8"/>
<circle cx="244.23" cy="219.53" r="0.8" fill="#3d5ea8" stroke="none" stroke-width="0.8"/>
<circle cx="244.99" cy="219.85" r="0.8" fill="#3d5ea8" stroke="none" stroke-width="0.8"/>
<circle cx="245.75" cy="220.31" r="0.8" fill="#3d5ea8" stroke="none" stroke-width="0.8"/>
<circle cx="246.51" cy="220.57" r="0.8" fill="#3d5ea8" stroke="none" stroke-width="0.8"/>
<circle cx="247.27" cy="220.16" r="0.8" fill="#3d5ea8" stroke="none" stroke-width="0.8"/>
<circle cx="248.03" cy="219.76" r="0.8" fill="#3d5ea8" stroke="none" stroke-width="0.8"/>
<circle cx="248.79" cy="219.78" r="0.8" fill="#3d5ea8" stroke="none" stroke-width="0.8"/>
<circle cx="249.55" cy="220.51" r="0.8" fill="#3d5ea8" stroke="none" stroke-width="0.8"/>
<circle cx="250.31" cy="220.34" r="0.8" fill="#3d5ea8" stroke="none" stroke-width="0.8"/>
<circle cx="251.07" cy="219.56" r="0.8" fill="#3d5ea8" stroke="none" stroke-width="0.8"/>
<circle cx="251.83" cy="219.91" r="0.8" fill="#3d5ea8" stroke="none" stroke-width="0.8"/>
<circle cx="252.60" cy="219.83" r="0.8" fill="#3d5ea8" stroke="none" stroke-width="0.8"/>
<circle cx="253.36" cy="219.72" r="0.8" fill="#3d5ea8" stroke="none" stroke-width="0.8"/>
<circle cx="254.12" cy="219.47" r="0.8" fill="#3d5ea8" stroke="none" stroke-width="0.8"/>
<circle cx="254.88" cy="219.10" r="0.8" fill="#3d5ea8" stroke="none" stroke-width="0.8"/>
<circle cx="255.64" cy="219.46" r="0.8" fill="#3d5ea8" stroke="none" stroke-width="0.8"/>
<circle cx="256.40" cy="219.01" r="0.8" fill="#3d5ea8" stroke="none" stroke-width="0.8"/>
<circle cx="257.16" cy="220.25" r="0.8" fill="#3d5ea8" stroke="none" stroke-width="0.8"/>
<circle cx="257.92" cy="219.94" r="0.8" fill="#3d5ea8" stroke="none" stroke-width="0.8"/>
<circle cx="258.68" cy="219.16" r="0.8" fill="#3d5ea8" stroke="none" stroke-width="0.8"/>
<circle cx="259.44" cy="220.33" r="0.8" fill="#3d5ea8" stroke="none" stroke-width="0.8"/>
<circle cx="260.20" cy="220.10" r="0.8" fill="#3d5ea8" stroke="none" stroke-width="0.8"/>
<circle cx="260.96" cy="218.84" r="0.8" fill="#3d5ea8" stroke="none" stroke-width="0.8"/>
<circle cx="261.72" cy="220.53" r="0.8" fill="#3d5ea8" stroke="none" stroke-width="0.8"/>
<circle cx="262.48" cy="220.06" r="0.8" fill="#3d5ea8" stroke="none" stroke-width="0.8"/>
<circle cx="263.24" cy="220.63" r="0.8" fill="#3d5ea8" stroke="none" stroke-width="0.8"/>
<circle cx="264.00" cy="219.15" r="0.8" fill="#3d5ea8" stroke="none" stroke-width="0.8"/>
<circle cx="264.76" cy="219.94" r="0.8" fill="#3d5ea8" stroke="none" stroke-width="0.8"/>
<circle cx="265.52" cy="219.89" r="0.8" fill="#3d5ea8" stroke="none" stroke-width="0.8"/>
<circle cx="266.28" cy="219.79" r="0.8" fill="#3d5ea8" stroke="none" stroke-width="0.8"/>
<circle cx="267.04" cy="219.78" r="0.8" fill="#3d5ea8" stroke="none" stroke-width="0.8"/>
<circle cx="267.80" cy="220.17" r="0.8" fill="#3d5ea8" stroke="none" stroke-width="0.8"/>
<circle cx="268.56" cy="219.03" r="0.8" fill="#3d5ea8" stroke="none" stroke-width="0.8"/>
<circle cx="269.32" cy="219.14" r="0.8" fill="#3d5ea8" stroke="none" stroke-width="0.8"/>
<circle cx="270.08" cy="219.07" r="0.8" fill="#3d5ea8" stroke="none" stroke-width="0.8"/>
<circle cx="270.84" cy="219.45" r="0.8" fill="#3d5ea8" stroke="none" stroke-width="0.8"/>
<circle cx="271.61" cy="219.43" r="0.8" fill="#3d5ea8" stroke="none" stroke-width="0.8"/>
<circle cx="272.37" cy="219.87" r="0.8" fill="#3d5ea8" stroke="none" stroke-width="0.8"/>
<circle cx="273.13" cy="219.82" r="0.8" fill="#3d5ea8" stroke="none" stroke-width="0.8"/>
<circle cx="273.89" cy="219.71" r="0.8" fill="#3d5ea8" stroke="none" stroke-width="0.8"/>
<circle cx="274.65" cy="219.40" r="0.8" fill="#3d5ea8" stroke="none" stroke-width="0.8"/>
<circle cx="275.41" cy="219.50" r="0.8" fill="#3d5ea8" stroke="none" stroke-width="0.8"/>
<circle cx="276.17" cy="220.13" r="0.8" fill="#3d5ea8" stroke="none" stroke-width="0.8"/>
<circle cx="276.93" cy="220.04" r="0.8" fill="#3d5ea8" stroke="none" stroke-width="0.8"/>
<circle cx="277.69" cy="219.75" r="0.8" fill="#3d5ea8" stroke="none" stroke-width="0.8"/>
<circle cx="278.45" cy="219.55" r="0.8" fill="#3d5ea8" stroke="none" stroke-width="0.8"/>
<circle cx="279.21" cy="220.40" r="0.8" fill="#3d5ea8" stroke="none" stroke-width="0.8"/>
<circle cx="279.97" cy="219.43" r="0.8" fill="#3d5ea8" stroke="none" stroke-width="0.8"/>
<circle cx="280.73" cy="219.99" r="0.8" fill="#3d5ea8" stroke="none" stroke-width="0.8"/>
<circle cx="281.49" cy="220.22" r="0.8" fill="#3d5ea8" stroke="none" stroke-width="0.8"/>
<circle cx="282.25" cy="219.58" r="0.8" fill="#3d5ea8" stroke="none" stroke-width="0.8"/>
<circle cx="283.01" cy="220.07" r="0.8" fill="#3d5ea8" stroke="none" stroke-width="0.8"/>
<circle cx="283.77" cy="219.20" r="0.8" fill="#3d5ea8" stroke="none" stroke-width="0.8"/>
<circle cx="284.53" cy="220.16" r="0.8" fill="#3d5ea8" stroke="none" stroke-width="0.8"/>
<circle cx="285.29" cy="219.79" r="0.8" fill="#3d5ea8" stroke="none" stroke-width="0.8"/>
<circle cx="286.05" cy="218.99" r="0.8" fill="#3d5ea8" stroke="none" stroke-width="0.8"/>
<circle cx="286.81" cy="220.00" r="0.8" fill="#3d5ea8" stroke="none" stroke-width="0.8"/>
<circle cx="287.57" cy="219.30" r="0.8" fill="#3d5ea8" stroke="none" stroke-width="0.8"/>
<circle cx="288.33" cy="220.28" r="0.8" fill="#3d5ea8" stroke="none" stroke-width="0.8"/>
<circle cx="289.09" cy="219.39" r="0.8" fill="#3d5ea8" stroke="none" stroke-width="0.8"/>
<circle cx="289.85" cy="219.63" r="0.8" fill="#3d5ea8" stroke="none" stroke-width="0.8"/>
<circle cx="290.62" cy="219.83" r="0.8" fill="#3d5ea8" stroke="none" stroke-width="0.8"/>
<circle cx="291.38" cy="219.55" r="0.8" fill="#3d5ea8" stroke="none" stroke-width="0.8"/>
<circle cx="292.14" cy="219.82" r="0.8" fill="#3d5ea8" stroke="none" stroke-width="0.8"/>
<circle cx="292.90" cy="219.45" r="0.8" fill="#3d5ea8" stroke="none" stroke-width="0.8"/>
<circle cx="293.66" cy="220.00" r="0.8" fill="#3d5ea8" stroke="none" stroke-width="0.8"/>
<circle cx="294.42" cy="219.70" r="0.8" fill="#3d5ea8" stroke="none" stroke-width="0.8"/>
<circle cx="295.18" cy="219.79" r="0.8" fill="#3d5ea8" stroke="none" stroke-width="0.8"/>
<circle cx="295.94" cy="218.46" r="0.8" fill="#3d5ea8" stroke="none" stroke-width="0.8"/>
<circle cx="296.70" cy="220.22" r="0.8" fill="#3d5ea8" stroke="none" stroke-width="0.8"/>
<circle cx="297.46" cy="219.71" r="0.8" fill="#3d5ea8" stroke="none" stroke-width="0.8"/>
<circle cx="298.22" cy="218.90" r="0.8" fill="#3d5ea8" stroke="none" stroke-width="0.8"/>
<circle cx="298.98" cy="219.74" r="0.8" fill="#3d5ea8" stroke="none" stroke-width="0.8"/>
<circle cx="299.74" cy="219.91" r="0.8" fill="#3d5ea8" stroke="none" stroke-width="0.8"/>
<circle cx="300.50" cy="220.18" r="0.8" fill="#3d5ea8" stroke="none" stroke-width="0.8"/>
<circle cx="301.26" cy="219.21" r="0.8" fill="#3d5ea8" stroke="none" stroke-width="0.8"/>
<circle cx="302.02" cy="220.40" r="0.8" fill="#3d5ea8" stroke="none" stroke-width="0.8"/>
<circle cx="302.78" cy="219.63" r="0.8" fill="#3d5ea8" stroke="none" stroke-width="0.8"/>
<circle cx="303.54" cy="220.78" r="0.8" fill="#3d5ea8" stroke="none" stroke-width="0.8"/>
<circle cx="304.30" cy="219.63" r="0.8" fill="#3d5ea8" stroke="none" stroke-width="0.8"/>
<circle cx="305.06" cy="220.01" r="0.8" fill="#3d5ea8" stroke="none" stroke-width="0.8"/>
<circle cx="305.82" cy="219.54" r="0.8" fill="#3d5ea8" stroke="none" stroke-width="0.8"/>
<circle cx="306.58" cy="219.20" r="0.8" fill="#3d5ea8" stroke="none" stroke-width="0.8"/>
<circle cx="307.34" cy="220.19" r="0.8" fill="#3d5ea8" stroke="none" stroke-width="0.8"/>
<circle cx="308.10" cy="220.11" r="0.8" fill="#3d5ea8" stroke="none" stroke-width="0.8"/>
<circle cx="308.86" cy="220.39" r="0.8" fill="#3d5ea8" stroke="none" stroke-width="0.8"/>
<circle cx="309.63" cy="220.09" r="0.8" fill="#3d5ea8" stroke="none" stroke-width="0.8"/>
<circle cx="310.39" cy="219.44" r="0.8" fill="#3d5ea8" stroke="none" stroke-width="0.8"/>
<circle cx="311.15" cy="218.95" r="0.8" fill="#3d5ea8" stroke="none" stroke-width="0.8"/>
<circle cx="311.91" cy="219.41" r="0.8" fill="#3d5ea8" stroke="none" stroke-width="0.8"/>
<circle cx="312.67" cy="219.40" r="0.8" fill="#3d5ea8" stroke="none" stroke-width="0.8"/>
<circle cx="313.43" cy="219.33" r="0.8" fill="#3d5ea8" stroke="none" stroke-width="0.8"/>
<circle cx="314.19" cy="219.96" r="0.8" fill="#3d5ea8" stroke="none" stroke-width="0.8"/>
<circle cx="314.95" cy="219.85" r="0.8" fill="#3d5ea8" stroke="none" stroke-width="0.8"/>
<circle cx="315.71" cy="219.58" r="0.8" fill="#3d5ea8" stroke="none" stroke-width="0.8"/>
<circle cx="316.47" cy="219.78" r="0.8" fill="#3d5ea8" stroke="none" stroke-width="0.8"/>
<circle cx="317.23" cy="219.63" r="0.8" fill="#3d5ea8" stroke="none" stroke-width="0.8"/>
<circle cx="317.99" cy="219.80" r="0.8" fill="#3d5ea8" stroke="none" stroke-width="0.8"/>
<circle cx="318.75" cy="220.04" r="0.8" fill="#3d5ea8" stroke="none" stroke-width="0.8"/>
<circle cx="319.51" cy="220.13" r="0.8" fill="#3d5ea8" stroke="none" stroke-width="0.8"/>
<circle cx="320.27" cy="219.39" r="0.8" fill="#3d5ea8" stroke="none" stroke-width="0.8"/>
<circle cx="321.03" cy="219.02" r="0.8" fill="#3d5ea8" stroke="none" stroke-width="0.8"/>
<circle cx="321.79" cy="220.34" r="0.8" fill="#3d5ea8" stroke="none" stroke-width="0.8"/>
<circle cx="322.55" cy="219.75" r="0.8" fill="#3d5ea8" stroke="none" stroke-width="0.8"/>
<circle cx="323.31" cy="220.20" r="0.8" fill="#3d5ea8" stroke="none" stroke-width="0.8"/>
<circle cx="324.07" cy="218.96" r="0.8" fill="#3d5ea8" stroke="none" stroke-width="0.8"/>
<circle cx="324.83" cy="219.55" r="0.8" fill="#3d5ea8" stroke="none" stroke-width="0.8"/>
<circle cx="325.59" cy="219.71" r="0.8" fill="#3d5ea8" stroke="none" stroke-width="0.8"/>
<circle cx="326.35" cy="219.05" r="0.8" fill="#3d5ea8" stroke="none" stroke-width="0.8"/>
<circle cx="327.11" cy="219.47" r="0.8" fill="#3d5ea8" stroke="none" stroke-width="0.8"/>
<circle cx="327.87" cy="220.03" r="0.8" fill="#3d5ea8" stroke="none" stroke-width="0.8"/>
<circle cx="328.64" cy="220.19" r="0.8" fill="#3d5ea8" stroke="none" stroke-width="0.8"/>
<circle cx="329.40" cy="220.42" r="0.8" fill="#3d5ea8" stroke="none" stroke-width="0.8"/>
<circle cx="330.16" cy="219.31" r="0.8" fill="#3d5ea8" stroke="none" stroke-width="0.8"/>
<circle cx="330.92" cy="219.07" r="0.8" fill="#3d5ea8" stroke="none" stroke-width="0.8"/>
<circle cx="331.68" cy="219.93" r="0.8" fill="#3d5ea8" stroke="none" stroke-width="0.8"/>
<circle cx="332.44" cy="220.12" r="0.8" fill="#3d5ea8" stroke="none" stroke-width="0.8"/>
<circle cx="333.20" cy="219.79" r="0.8" fill="#3d5ea8" stroke="none" stroke-width="0.8"/>
<circle cx="333.96" cy="219.11" r="0.8" fill="#3d5ea8" stroke="none" stroke-width="0.8"/>
<circle cx="334.72" cy="220.05" r="0.8" fill="#3d5ea8" stroke="none" stroke-width="0.8"/>
<circle cx="335.48" cy="220.06" r="0.8" fill="#3d5ea8" stroke="none" stroke-width="0.8"/>
<circle cx="336.24" cy="219.95" r="0.8" fill="#3d5ea8" stroke="none" stroke-width="0.8"/>
<circle cx="337.00" cy="219.48" r="0.8" fill="#3d5ea8" stroke="none" stroke-width="0.8"/>
<circle cx="337.76" cy="219.84" r="0.8" fill="#3d5ea8" stroke="none" stroke-width="0.8"/>
<circle cx="338.52" cy="220.06" r="0.8" fill="#3d5ea8" stroke="none" stroke-width="0.8"/>
<circle cx="339.28" cy="219.45" r="0.8" fill="#3d5ea8" stroke="none" stroke-width="0.8"/>
<circle cx="340.04" cy="218.87" r="0.8" fill="#3d5ea8" stroke="none" stroke-width="0.8"/>
<circle cx="340.80" cy="219.85" r="0.8" fill="#3d5ea8" stroke="none" stroke-width="0.8"/>
<circle cx="341.56" cy="219.92" r="0.8" fill="#3d5ea8" stroke="none" stroke-width="0.8"/>
<circle cx="342.32" cy="219.71" r="0.8" fill="#3d5ea8" stroke="none" stroke-width="0.8"/>
<circle cx="343.08" cy="220.10" r="0.8" fill="#3d5ea8" stroke="none" stroke-width="0.8"/>
<circle cx="343.84" cy="219.44" r="0.8" fill="#3d5ea8" stroke="none" stroke-width="0.8"/>
<circle cx="344.60" cy="219.66" r="0.8" fill="#3d5ea8" stroke="none" stroke-width="0.8"/>
<circle cx="345.36" cy="219.56" r="0.8" fill="#3d5ea8" stroke="none" stroke-width="0.8"/>
<circle cx="346.12" cy="219.96" r="0.8" fill="#3d5ea8" stroke="none" stroke-width="0.8"/>
<circle cx="346.88" cy="220.42" r="0.8" fill="#3d5ea8" stroke="none" stroke-width="0.8"/>
<circle cx="347.65" cy="219.59" r="0.8" fill="#3d5ea8" stroke="none" stroke-width="0.8"/>
<circle cx="348.41" cy="220.62" r="0.8" fill="#3d5ea8" stroke="none" stroke-width="0.8"/>
<circle cx="349.17" cy="220.39" r="0.8" fill="#3d5ea8" stroke="none" stroke-width="0.8"/>
<circle cx="349.93" cy="220.06" r="0.8" fill="#3d5ea8" stroke="none" stroke-width="0.8"/>
<circle cx="350.69" cy="219.96" r="0.8" fill="#3d5ea8" stroke="none" stroke-width="0.8"/>
<circle cx="351.45" cy="220.50" r="0.8" fill="#3d5ea8" stroke="none" stroke-width="0.8"/>
<circle cx="352.21" cy="219.62" r="0.8" fill="#3d5ea8" stroke="none" stroke-width="0.8"/>
<circle cx="352.97" cy="219.65" r="0.8" fill="#3d5ea8" stroke="none" stroke-width="0.8"/>
<circle cx="353.73" cy="219.22" r="0.8" fill="#3d5ea8" stroke="none" stroke-width="0.8"/>
<circle cx="354.49" cy="219.91" r="0.8" fill="#3d5ea8" stroke="none" stroke-width="0.8"/>
<circle cx="355.25" cy="220.31" r="0.8" fill="#3d5ea8" stroke="none" stroke-width="0.8"/>
<circle cx="356.01" cy="219.94" r="0.8" fill="#3d5ea8" stroke="none" stroke-width="0.8"/>
<circle cx="356.77" cy="219.89" r="0.8" fill="#3d5ea8" stroke="none" stroke-width="0.8"/>
<circle cx="357.53" cy="219.61" r="0.8" fill="#3d5ea8" stroke="none" stroke-width="0.8"/>
<circle cx="358.29" cy="219.78" r="0.8" fill="#3d5ea8" stroke="none" stroke-width="0.8"/>
<circle cx="359.05" cy="219.06" r="0.8" fill="#3d5ea8" stroke="none" stroke-width="0.8"/>
<circle cx="359.81" cy="220.17" r="0.8" fill="#3d5ea8" stroke="none" stroke-width="0.8"/>
<circle cx="360.57" cy="219.52" r="0.8" fill="#3d5ea8" stroke="none" stroke-width="0.8"/>
<circle cx="361.33" cy="219.20" r="0.8" fill="#3d5ea8" stroke="none" stroke-width="0.8"/>
<circle cx="362.09" cy="219.36" r="0.8" fill="#3d5ea8" stroke="none" stroke-width="0.8"/>
<circle cx="362.85" cy="219.33" r="0.8" fill="#3d5ea8" stroke="none" stroke-width="0.8"/>
<circle cx="363.61" cy="220.08" r="0.8" fill="#3d5ea8" stroke="none" stroke-width="0.8"/>
<circle cx="364.37" cy="220.18" r="0.8" fill="#3d5ea8" stroke="none" stroke-width="0.8"/>
<circle cx="365.13" cy="219.09" r="0.8" fill="#3d5ea8" stroke="none" stroke-width="0.8"/>
<circle cx="365.89" cy="220.12" r="0.8" fill="#3d5ea8" stroke="none" stroke-width="0.8"/>
<circle cx="366.66" cy="220.10" r="0.8" fill="#3d5ea8" stroke="none" stroke-width="0.8"/>
<circle cx="367.42" cy="219.44" r="0.8" fill="#3d5ea8" stroke="none" stroke-width="0.8"/>
<circle cx="368.18" cy="219.03" r="0.8" fill="#3d5ea8" stroke="none" stroke-width="0.8"/>
<circle cx="368.94" cy="219.36" r="0.8" fill="#3d5ea8" stroke="none" stroke-width="0.8"/>
<circle cx="369.70" cy="219.41" r="0.8" fill="#3d5ea8" stroke="none" stroke-width="0.8"/>
<circle cx="370.46" cy="220.72" r="0.8" fill="#3d5ea8" stroke="none" stroke-width="0.8"/>
<circle cx="371.22" cy="220.47" r="0.8" fill="#3d5ea8" stroke="none" stroke-width="0.8"/>
<circle cx="371.98" cy="219.89" r="0.8" fill="#3d5ea8" stroke="none" stroke-width="0.8"/>
<circle cx="372.74" cy="220.68" r="0.8" fill="#3d5ea8" stroke="none" stroke-width="0.8"/>
<circle cx="373.50" cy="220.06" r="0.8" fill="#3d5ea8" stroke="none" stroke-width="0.8"/>
<circle cx="374.26" cy="220.92" r="0.8" fill="#3d5ea8" stroke="none" stroke-width="0.8"/>
<circle cx="375.02" cy="220.18" r="0.8" fill="#3d5ea8" stroke="none" stroke-width="0.8"/>
<circle cx="375.78" cy="220.36" r="0.8" fill="#3d5ea8" stroke="none" stroke-width="0.8"/>
<circle cx="376.54" cy="220.30" r="0.8" fill="#3d5ea8" stroke="none" stroke-width="0.8"/>
<circle cx="377.30" cy="220.41" r="0.8" fill="#3d5ea8" stroke="none" stroke-width="0.8"/>
<circle cx="378.06" cy="221.05" r="0.8" fill="#3d5ea8" stroke="none" stroke-width="0.8"/>
<circle cx="378.82" cy="220.90" r="0.8" fill="#3d5ea8" stroke="none" stroke-width="0.8"/>
<circle cx="379.58" cy="220.81" r="0.8" fill="#3d5ea8" stroke="none" stroke-width="0.8"/>
<circle cx="380.34" cy="220.71" r="0.8" fill="#3d5ea8" stroke="none" stroke-width="0.8"/>
<circle cx="381.10" cy="220.06" r="0.8" fill="#3d5ea8" stroke="none" stroke-width="0.8"/>
<circle cx="381.86" cy="220.42" r="0.8" fill="#3d5ea8" stroke="none" stroke-width="0.8"/>
<circle cx="382.62" cy="220.41" r="0.8" fill="#3d5ea8" stroke="none" stroke-width="0.8"/>
<circle cx="383.38" cy="220.26" r="0.8" fill="#3d5ea8" stroke="none" stroke-width="0.8"/>
<circle cx="384.14" cy="220.78" r="0.8" fill="#3d5ea8" stroke="none" stroke-width="0.8"/>
<circle cx="384.90" cy="220.34" r="0.8" fill="#3d5ea8" stroke="none" stroke-width="0.8"/>
<circle cx="385.67" cy="220.35" r="0.8" fill="#3d5ea8" stroke="none" stroke-width="0.8"/>
<circle cx="386.43" cy="220.23" r="0.8" fill="#3d5ea8" stroke="none" stroke-width="0.8"/>
<circle cx="387.19" cy="219.88" r="0.8" fill="#3d5ea8" stroke="none" stroke-width="0.8"/>
<circle cx="387.95" cy="220.81" r="0.8" fill="#3d5ea8" stroke="none" stroke-width="0.8"/>
<circle cx="388.71" cy="221.07" r="0.8" fill="#3d5ea8" stroke="none" stroke-width="0.8"/>
<circle cx="389.47" cy="220.66" r="0.8" fill="#3d5ea8" stroke="none" stroke-width="0.8"/>
<circle cx="390.23" cy="220.26" r="0.8" fill="#3d5ea8" stroke="none" stroke-width="0.8"/>
<circle cx="390.99" cy="219.65" r="0.8" fill="#3d5ea8" stroke="none" stroke-width="0.8"/>
<circle cx="391.75" cy="220.66" r="0.8" fill="#3d5ea8" stroke="none" stroke-width="0.8"/>
<circle cx="392.51" cy="221.03" r="0.8" fill="#3d5ea8" stroke="none" stroke-width="0.8"/>
<circle cx="393.27" cy="220.70" r="0.8" fill="#3d5ea8" stroke="none" stroke-width="0.8"/>
<circle cx="394.03" cy="220.92" r="0.8" fill="#3d5ea8" stroke="none" stroke-width="0.8"/>
<circle cx="394.79" cy="221.12" r="0.8" fill="#3d5ea8" stroke="none" stroke-width="0.8"/>
<circle cx="395.55" cy="220.99" r="0.8" fill="#3d5ea8" stroke="none" stroke-width="0.8"/>
<circle cx="396.31" cy="220.45" r="0.8" fill="#3d5ea8" stroke="none" stroke-width="0.8"/>
<circle cx="397.07" cy="220.97" r="0.8" fill="#3d5ea8" stroke="none" stroke-width="0.8"/>
<circle cx="397.83" cy="220.87" r="0.8" fill="#3d5ea8" stroke="none" stroke-width="0.8"/>
<circle cx="398.59" cy="220.06" r="0.8" fill="#3d5ea8" stroke="none" stroke-width="0.8"/>
<circle cx="399.35" cy="220.46" r="0.8" fill="#3d5ea8" stroke="none" stroke-width="0.8"/>
<circle cx="400.11" cy="220.10" r="0.8" fill="#3d5ea8" stroke="none" stroke-width="0.8"/>
<circle cx="400.87" cy="220.56" r="0.8" fill="#3d5ea8" stroke="none" stroke-width="0.8"/>
<circle cx="401.63" cy="220.80" r="0.8" fill="#3d5ea8" stroke="none" stroke-width="0.8"/>
<circle cx="402.39" cy="220.23" r="0.8" fill="#3d5ea8" stroke="none" stroke-width="0.8"/>
<circle cx="403.15" cy="219.88" r="0.8" fill="#3d5ea8" stroke="none" stroke-width="0.8"/>
<circle cx="403.91" cy="221.05" r="0.8" fill="#3d5ea8" stroke="none" stroke-width="0.8"/>
<circle cx="404.68" cy="220.73" r="0.8" fill="#3d5ea8" stroke="none" stroke-width="0.8"/>
<circle cx="405.44" cy="221.11" r="0.8" fill="#3d5ea8" stroke="none" stroke-width="0.8"/>
<circle cx="406.20" cy="220.14" r="0.8" fill="#3d5ea8" stroke="none" stroke-width="0.8"/>
<circle cx="406.96" cy="220.97" r="0.8" fill="#3d5ea8" stroke="none" stroke-width="0.8"/>
<circle cx="407.72" cy="221.33" r="0.8" fill="#3d5ea8" stroke="none" stroke-width="0.8"/>
<circle cx="408.48" cy="221.30" r="0.8" fill="#3d5ea8" stroke="none" stroke-width="0.8"/>
<circle cx="409.24" cy="220.53" r="0.8" fill="#3d5ea8" stroke="none" stroke-width="0.8"/>
<circle cx="410.00" cy="220.69" r="0.8" fill="#3d5ea8" stroke="none" stroke-width="0.8"/>
<circle cx="410.76" cy="220.55" r="0.8" fill="#3d5ea8" stroke="none" stroke-width="0.8"/>
<circle cx="411.52" cy="220.95" r="0.8" fill="#3d5ea8" stroke="none" stroke-width="0.8"/>
<circle cx="412.28" cy="220.96" r="0.8" fill="#3d5ea8" stroke="none" stroke-width="0.8"/>
<circle cx="413.04" cy="220.63" r="0.8" fill="#3d5ea8" stroke="none" stroke-width="0.8"/>
<rect x="32.50" y="211.30" width="2" height="2" fill="#f3a282" stroke="#f3a282" stroke-width="0.4" transform="rotate(45 33.50 212.30)"/>
<rect x="81.00" y="212.70" width="2" height="2" fill="#f3a282" stroke="#f3a282" stroke-width="0.4" transform="rotate(45 82.00 213.70)"/>
<rect x="86.00" y="214.20" width="2" height="2" fill="#f3a282" stroke="#f3a282" stroke-width="0.4" transform="rotate(45 87.00 215.20)"/>
<rect x="95.60" y="213.00" width="2" height="2" fill="#f3a282" stroke="#f3a282" stroke-width="0.4" transform="rotate(45 96.60 214.00)"/>
<rect x="98.20" y="210.70" width="2" height="2" fill="#f3a282" stroke="#f3a282" stroke-width="0.4" transform="rotate(45 99.20 211.70)"/>
<rect x="108.40" y="212.10" width="2" height="2" fill="#f3a282" stroke="#f3a282" stroke-width="0.4" transform="rotate(45 109.40 213.10)"/>
<rect x="40.70" y="223.00" width="2" height="2" fill="#f3a282" stroke="#f3a282" stroke-width="0.4" transform="rotate(45 41.70 224.00)"/>
<rect x="86.00" y="223.80" width="2" height="2" fill="#f3a282" stroke="#f3a282" stroke-width="0.4" transform="rotate(45 87.00 224.80)"/>
<rect x="97.60" y="223.00" width="2" height="2" fill="#f3a282" stroke="#f3a282" stroke-width="0.4" transform="rotate(45 98.60 224.00)"/>
<rect x="98.50" y="237.00" width="2" height="2" fill="#f3a282" stroke="#f3a282" stroke-width="0.4" transform="rotate(45 99.50 238.00)"/>
<rect x="104.30" y="223.80" width="2" height="2" fill="#f3a282" stroke="#f3a282" stroke-width="0.4" transform="rotate(45 105.30 224.80)"/>
<rect x="144.30" y="250.00" width="2" height="2" fill="#f3a282" stroke="#f3a282" stroke-width="0.4" transform="rotate(45 145.30 251.00)"/>
<rect x="145.80" y="225.90" width="2" height="2" fill="#f3a282" stroke="#f3a282" stroke-width="0.4" transform="rotate(45 146.80 226.90)"/>
<rect x="148.70" y="215.00" width="2" height="2" fill="#f3a282" stroke="#f3a282" stroke-width="0.4" transform="rotate(45 149.70 216.00)"/>
<rect x="160.40" y="224.70" width="2" height="2" fill="#f3a282" stroke="#f3a282" stroke-width="0.4" transform="rotate(45 161.40 225.70)"/>
<rect x="178.50" y="230.20" width="2" height="2" fill="#f3a282" stroke="#f3a282" stroke-width="0.4" transform="rotate(45 179.50 231.20)"/>
<rect x="176.40" y="237.20" width="2" height="2" fill="#f3a282" stroke="#f3a282" stroke-width="0.4" transform="rotate(45 177.40 238.20)"/>
<rect x="181.40" y="240.80" width="2" height="2" fill="#f3a282" stroke="#f3a282" stroke-width="0.4" transform="rotate(45 182.40 241.80)"/>
<rect x="197.80" y="214.20" width="2" height="2" fill="#f3a282" stroke="#f3a282" stroke-width="0.4" transform="rotate(45 198.80 215.20)"/>
<rect x="182.30" y="222.40" width="2" height="2" fill="#f3a282" stroke="#f3a282" stroke-width="0.4" transform="rotate(45 183.30 223.40)"/>
<rect x="32.50" y="254.50" width="2" height="2" fill="#f3a282" stroke="#f3a282" stroke-width="0.4" transform="rotate(45 33.50 255.50)"/>
<rect x="258.40" y="213.60" width="2" height="2" fill="#f3a282" stroke="#f3a282" stroke-width="0.4" transform="rotate(45 259.40 214.60)"/>
<rect x="255.50" y="220.90" width="2" height="2" fill="#f3a282" stroke="#f3a282" stroke-width="0.4" transform="rotate(45 256.50 221.90)"/>
<rect x="257.00" y="223.00" width="2" height="2" fill="#f3a282" stroke="#f3a282" stroke-width="0.4" transform="rotate(45 258.00 224.00)"/>
<rect x="252.60" y="228.20" width="2" height="2" fill="#f3a282" stroke="#f3a282" stroke-width="0.4" transform="rotate(45 253.60 229.20)"/>
<rect x="254.60" y="234.60" width="2" height="2" fill="#f3a282" stroke="#f3a282" stroke-width="0.4" transform="rotate(45 255.60 235.60)"/>
<rect x="257.00" y="232.60" width="2" height="2" fill="#f3a282" stroke="#f3a282" stroke-width="0.4" transform="rotate(45 258.00 233.60)"/>
<rect x="275.90" y="229.70" width="2" height="2" fill="#f3a282" stroke="#f3a282" stroke-width="0.4" transform="rotate(45 276.90 230.70)"/>
<rect x="275.90" y="251.00" width="2" height="2" fill="#f3a282" stroke="#f3a282" stroke-width="0.4" transform="rotate(45 276.90 252.00)"/>
<rect x="292.00" y="207.20" width="2" height="2" fill="#f3a282" stroke="#f3a282" stroke-width="0.4" transform="rotate(45 293.00 208.20)"/>
<rect x="292.00" y="222.40" width="2" height="2" fill="#f3a282" stroke="#f3a282" stroke-width="0.4" transform="rotate(45 293.00 223.40)"/>
<rect x="292.60" y="225.30" width="2" height="2" fill="#f3a282" stroke="#f3a282" stroke-width="0.4" transform="rotate(45 293.60 226.30)"/>
<rect x="302.20" y="223.00" width="2" height="2" fill="#f3a282" stroke="#f3a282" stroke-width="0.4" transform="rotate(45 303.20 224.00)"/>
<rect x="311.80" y="220.90" width="2" height="2" fill="#f3a282" stroke="#f3a282" stroke-width="0.4" transform="rotate(45 312.80 221.90)"/>
<rect x="320.60" y="207.80" width="2" height="2" fill="#f3a282" stroke="#f3a282" stroke-width="0.4" transform="rotate(45 321.60 208.80)"/>
<rect x="321.20" y="224.40" width="2" height="2" fill="#f3a282" stroke="#f3a282" stroke-width="0.4" transform="rotate(45 322.20 225.40)"/>
<rect x="325.60" y="224.40" width="2" height="2" fill="#f3a282" stroke="#f3a282" stroke-width="0.4" transform="rotate(45 326.60 225.40)"/>
<rect x="326.40" y="229.70" width="2" height="2" fill="#f3a282" stroke="#f3a282" stroke-width="0.4" transform="rotate(45 327.40 230.70)"/>
<rect x="332.90" y="223.80" width="2" height="2" fill="#f3a282" stroke="#f3a282" stroke-width="0.4" transform="rotate(45 333.90 224.80)"/>
<rect x="333.50" y="228.20" width="2" height="2" fill="#f3a282" stroke="#f3a282" stroke-width="0.4" transform="rotate(45 334.50 229.20)"/>
<rect x="332.90" y="237.80" width="2" height="2" fill="#f3a282" stroke="#f3a282" stroke-width="0.4" transform="rotate(45 333.90 238.80)"/>
<rect x="351.80" y="224.70" width="2" height="2" fill="#f3a282" stroke="#f3a282" stroke-width="0.4" transform="rotate(45 352.80 225.70)"/>
<rect x="387.80" y="223.80" width="2" height="2" fill="#f3a282" stroke="#f3a282" stroke-width="0.4" transform="rotate(45 388.80 224.80)"/>
<rect x="387.80" y="226.20" width="2" height="2" fill="#f3a282" stroke="#f3a282" stroke-width="0.4" transform="rotate(45 388.80 227.20)"/>
<rect x="119.00" y="222.00" width="2" height="2" fill="#f3a282" stroke="#f3a282" stroke-width="0.4" transform="rotate(45 120.00 223.00)"/>
<rect x="124.00" y="223.50" width="2" height="2" fill="#f3a282" stroke="#f3a282" stroke-width="0.4" transform="rotate(45 125.00 224.50)"/>
<rect x="199.00" y="221.50" width="2" height="2" fill="#f3a282" stroke="#f3a282" stroke-width="0.4" transform="rotate(45 200.00 222.50)"/>
<rect x="214.00" y="223.00" width="2" height="2" fill="#f3a282" stroke="#f3a282" stroke-width="0.4" transform="rotate(45 215.00 224.00)"/>
<rect x="239.00" y="222.50" width="2" height="2" fill="#f3a282" stroke="#f3a282" stroke-width="0.4" transform="rotate(45 240.00 223.50)"/>
<rect x="264.00" y="222.00" width="2" height="2" fill="#f3a282" stroke="#f3a282" stroke-width="0.4" transform="rotate(45 265.00 223.00)"/>
<rect x="344.00" y="222.50" width="2" height="2" fill="#f3a282" stroke="#f3a282" stroke-width="0.4" transform="rotate(45 345.00 223.50)"/>
<rect x="359.00" y="221.80" width="2" height="2" fill="#f3a282" stroke="#f3a282" stroke-width="0.4" transform="rotate(45 360.00 222.80)"/>
<rect x="229.00" y="214.50" width="2" height="2" fill="#f3a282" stroke="#f3a282" stroke-width="0.4" transform="rotate(45 230.00 215.50)"/>
<rect x="129.00" y="213.80" width="2" height="2" fill="#f3a282" stroke="#f3a282" stroke-width="0.4" transform="rotate(45 130.00 214.80)"/>
<rect x="34.30" y="232.00" width="2" height="2" fill="none" stroke="#6f8cc8" stroke-width="0.6" transform="rotate(45 35.30 233.00)"/>
<rect x="36.30" y="233.20" width="2" height="2" fill="none" stroke="#6f8cc8" stroke-width="0.6" transform="rotate(45 37.30 234.20)"/>
<rect x="51.80" y="236.00" width="2" height="2" fill="none" stroke="#6f8cc8" stroke-width="0.6" transform="rotate(45 52.80 237.00)"/>
<rect x="98.50" y="232.00" width="2" height="2" fill="none" stroke="#6f8cc8" stroke-width="0.6" transform="rotate(45 99.50 233.00)"/>
<rect x="150.20" y="210.70" width="2" height="2" fill="none" stroke="#6f8cc8" stroke-width="0.6" transform="rotate(45 151.20 211.70)"/>
<rect x="209.10" y="212.70" width="2" height="2" fill="none" stroke="#6f8cc8" stroke-width="0.6" transform="rotate(45 210.10 213.70)"/>
<rect x="209.10" y="229.70" width="2" height="2" fill="none" stroke="#6f8cc8" stroke-width="0.6" transform="rotate(45 210.10 230.70)"/>
<rect x="68.40" y="215.60" width="2" height="2" fill="none" stroke="#6f8cc8" stroke-width="0.6" transform="rotate(45 69.40 216.60)"/>
<rect x="290.50" y="212.10" width="2" height="2" fill="none" stroke="#6f8cc8" stroke-width="0.6" transform="rotate(45 291.50 213.10)"/>
<rect x="332.90" y="234.00" width="2" height="2" fill="none" stroke="#6f8cc8" stroke-width="0.6" transform="rotate(45 333.90 235.00)"/>
<rect x="374.30" y="214.20" width="2" height="2" fill="none" stroke="#6f8cc8" stroke-width="0.6" transform="rotate(45 375.30 215.20)"/>
<rect x="313.90" y="217.10" width="2" height="2" fill="none" stroke="#6f8cc8" stroke-width="0.6" transform="rotate(45 314.90 218.10)"/>
<rect x="67.00" y="355.90" width="2" height="2" fill="none" stroke="#6f8cc8" stroke-width="0.6" transform="rotate(45 68.00 356.90)"/>
<path d="M33.60,261.30 L34.40,266.30 L36.10,267.50 L38.12,267.66 L40.15,267.83 L42.17,267.99 L44.19,268.16 L46.22,268.32 L48.24,268.48 L50.26,268.65 L52.28,268.81 L54.31,268.98 L56.33,269.14 L58.35,269.31 L60.38,269.47 L62.40,269.63 L64.42,269.80 L66.45,269.96 L68.47,270.13 L70.49,270.29 L72.52,270.45 L74.54,270.62 L76.56,270.78 L78.58,270.95 L80.61,271.11 L82.63,271.27 L84.65,271.44 L86.68,271.60 L88.70,271.77 L90.72,271.93 L92.75,272.09 L94.77,272.26 L96.79,272.42 L98.82,272.59 L100.84,272.75 L102.86,272.92 L104.88,273.08 L106.91,273.24 L108.93,273.41 L110.95,273.57 L112.98,273.74 L115.00,273.90 L117.02,274.04 L119.05,274.18 L121.07,274.32 L123.10,274.46 L125.12,274.60 L127.14,274.74 L129.17,274.88 L131.19,275.02 L133.21,275.16 L135.24,275.30 L137.26,275.45 L139.29,275.59 L141.31,275.73 L143.33,275.87 L145.36,276.01 L147.38,276.15 L149.40,276.29 L151.43,276.43 L153.45,276.57 L155.48,276.71 L157.50,276.85 L159.52,276.99 L161.55,277.13 L163.57,277.27 L165.60,277.41 L167.62,277.55 L169.64,277.69 L171.67,277.83 L173.69,277.97 L175.71,278.11 L177.74,278.25 L179.76,278.40 L181.79,278.54 L183.81,278.68 L185.83,278.82 L187.86,278.96 L189.88,279.10 L191.90,279.24 L193.93,279.38 L195.95,279.52 L197.98,279.66 L200.00,279.80 L202.00,279.96 L204.00,280.12 L206.00,280.28 L208.00,280.44 L210.00,280.60 L212.00,280.76 L214.00,280.92 L216.00,281.08 L218.00,281.24 L220.00,281.40 L222.00,281.56 L224.00,281.72 L226.00,281.88 L228.00,282.04 L230.00,282.20 L232.00,282.36 L234.00,282.52 L236.00,282.68 L238.00,282.84 L240.00,283.00 L242.00,283.16 L244.00,283.32 L246.00,283.48 L248.00,283.64 L250.00,283.80 L252.00,283.96 L254.00,284.12 L256.00,284.28 L258.00,284.44 L260.00,284.60 L262.00,284.78 L264.00,284.96 L266.00,285.14 L268.00,285.32 L270.00,285.50 L272.00,285.68 L274.00,285.86 L276.00,286.04 L278.00,286.22 L280.00,286.40 L282.00,286.58 L284.00,286.76 L286.00,286.94 L288.00,287.12 L290.00,287.30 L292.00,287.48 L294.00,287.66 L296.00,287.84 L298.00,288.02 L300.00,288.20 L302.00,288.38 L304.00,288.56 L306.00,288.74 L308.00,288.92 L310.00,289.10 L312.00,289.28 L314.00,289.46 L316.00,289.64 L318.00,289.82 L320.00,290.00 L322.00,290.18 L324.00,290.36 L326.00,290.54 L328.00,290.72 L330.00,290.90 L332.00,291.08 L334.00,291.26 L336.00,291.44 L338.00,291.62 L340.00,291.80 L342.00,291.98 L344.00,292.16 L346.00,292.34 L348.00,292.52 L350.00,292.70 L352.00,292.88 L354.00,293.06 L356.00,293.24 L358.00,293.42 L360.00,293.60 L362.07,293.72 L364.14,293.85 L366.21,293.97 L368.28,294.09 L370.35,294.22 L372.42,294.34 L374.48,294.46 L376.55,294.58 L378.62,294.71 L380.69,294.83 L382.76,294.95 L384.83,295.08 L386.90,295.20 L388.97,295.32 L391.04,295.45 L393.11,295.57 L395.18,295.69 L397.25,295.82 L399.32,295.94 L401.38,296.06 L403.45,296.18 L405.52,296.31 L407.59,296.43 L409.66,296.55 L411.73,296.68 L413.80,296.80" fill="none" stroke="#e8531f" stroke-width="1.0" stroke-linejoin="round" stroke-linecap="round"/>
<line x1="144.80" y1="275.97" x2="144.80" y2="272.97" stroke="#e8531f" stroke-width="0.8"/>
<line x1="151.00" y1="276.40" x2="151.00" y2="273.90" stroke="#e8531f" stroke-width="0.8"/>
<line x1="152.50" y1="276.50" x2="152.50" y2="274.50" stroke="#e8531f" stroke-width="0.8"/>
<line x1="176.00" y1="278.13" x2="176.00" y2="276.13" stroke="#e8531f" stroke-width="0.8"/>
<line x1="177.50" y1="278.24" x2="177.50" y2="276.24" stroke="#e8531f" stroke-width="0.8"/>
<line x1="181.00" y1="278.48" x2="181.00" y2="276.48" stroke="#e8531f" stroke-width="0.8"/>
<line x1="198.00" y1="279.66" x2="198.00" y2="278.16" stroke="#e8531f" stroke-width="0.8"/>
<line x1="260.00" y1="284.60" x2="260.00" y2="281.60" stroke="#e8531f" stroke-width="0.8"/>
<line x1="244.00" y1="283.32" x2="244.00" y2="281.32" stroke="#e8531f" stroke-width="0.8"/>
<line x1="256.00" y1="284.28" x2="256.00" y2="282.28" stroke="#e8531f" stroke-width="0.8"/>
<line x1="300.00" y1="288.20" x2="300.00" y2="286.70" stroke="#e8531f" stroke-width="0.8"/>
<line x1="322.00" y1="290.18" x2="322.00" y2="288.98" stroke="#e8531f" stroke-width="0.8"/>
<line x1="330.00" y1="290.90" x2="330.00" y2="289.40" stroke="#e8531f" stroke-width="0.8"/>
<line x1="339.00" y1="291.71" x2="339.00" y2="289.91" stroke="#e8531f" stroke-width="0.8"/>
<line x1="357.00" y1="293.33" x2="357.00" y2="291.83" stroke="#e8531f" stroke-width="0.8"/>
<line x1="392.00" y1="295.50" x2="392.00" y2="294.00" stroke="#e8531f" stroke-width="0.8"/>
<path d="M33.60,306.00 C33.83,306.13 34.27,306.23 35.00,306.80 C35.73,307.37 36.83,309.10 38.00,309.40 C39.17,309.70 38.33,308.75 42.00,308.60 C45.67,308.45 50.33,308.15 60.00,308.50 C69.67,308.85 85.00,310.25 100.00,310.70 C115.00,311.15 133.33,311.15 150.00,311.20 C166.67,311.25 183.33,310.95 200.00,311.00 C216.67,311.05 233.33,311.37 250.00,311.50 C266.67,311.63 281.67,311.73 300.00,311.80 C318.33,311.87 347.58,311.60 360.00,311.90 C372.42,312.20 371.92,312.98 374.50,313.60 C377.08,314.22 368.95,314.15 375.50,315.60 C382.05,317.05 407.42,321.18 413.80,322.30" fill="none" stroke="#4a6cb3" stroke-width="1.0" stroke-linejoin="round" stroke-linecap="round"/>
<line x1="68.20" y1="308.80" x2="68.20" y2="315.00" stroke="#4a6cb3" stroke-width="0.9"/>
<line x1="33.60" y1="207.30" x2="413.80" y2="207.30" stroke="#555" stroke-width="1.0"/>
<line x1="413.80" y1="207.30" x2="413.80" y2="342.40" stroke="#555" stroke-width="1.2"/>
<line x1="33.60" y1="207.30" x2="33.60" y2="342.90" stroke="#333" stroke-width="1.2"/>
<line x1="33.60" y1="342.40" x2="413.80" y2="342.40" stroke="#333" stroke-width="1.2"/>
<line x1="33.60" y1="342.40" x2="31.30" y2="342.40" stroke="#1a1a1a" stroke-width="1"/>
<text x="31.00" y="345.64" font-size="9.6" text-anchor="end" fill="#161616" color="#161616" font-weight="normal" transform="translate(31.00 342.20) scale(1 1.035) translate(-31.00 -342.20)">0</text>
<line x1="33.60" y1="297.37" x2="31.30" y2="297.37" stroke="#1a1a1a" stroke-width="1"/>
<text x="31.00" y="300.61" font-size="9.6" text-anchor="end" fill="#161616" color="#161616" font-weight="normal" transform="translate(31.00 297.17) scale(1 1.035) translate(-31.00 -297.17)">500</text>
<line x1="33.60" y1="252.34" x2="31.30" y2="252.34" stroke="#1a1a1a" stroke-width="1"/>
<text x="31.00" y="255.58" font-size="9.6" text-anchor="end" fill="#161616" color="#161616" font-weight="normal" transform="translate(31.00 252.14) scale(1 1.035) translate(-31.00 -252.14)">1000</text>
<line x1="33.60" y1="207.31" x2="31.30" y2="207.31" stroke="#1a1a1a" stroke-width="1"/>
<text x="31.00" y="209.75" font-size="9.6" text-anchor="end" fill="#161616" color="#161616" font-weight="normal" transform="translate(31.00 206.31) scale(1 1.035) translate(-31.00 -206.31)">1500</text>
<line x1="33.60" y1="319.88" x2="32.30" y2="319.88" stroke="#1a1a1a" stroke-width="1"/>
<line x1="33.60" y1="274.85" x2="32.30" y2="274.85" stroke="#1a1a1a" stroke-width="1"/>
<line x1="33.60" y1="229.82" x2="32.30" y2="229.82" stroke="#1a1a1a" stroke-width="1"/>
<line x1="413.80" y1="342.40" x2="416.10" y2="342.40" stroke="#1a1a1a" stroke-width="1"/>
<text x="416.30" y="345.84" font-size="9.6" text-anchor="start" fill="#161616" color="#161616" font-weight="normal" transform="translate(416.30 342.40) scale(1 1.035) translate(-416.30 -342.40)">80</text>
<line x1="413.80" y1="280.70" x2="416.10" y2="280.70" stroke="#1a1a1a" stroke-width="1"/>
<text x="416.30" y="284.14" font-size="9.6" text-anchor="start" fill="#161616" color="#161616" font-weight="normal" transform="translate(416.30 280.70) scale(1 1.035) translate(-416.30 -280.70)">90</text>
<line x1="413.80" y1="219.00" x2="416.10" y2="219.00" stroke="#1a1a1a" stroke-width="1"/>
<text x="416.30" y="222.44" font-size="9.6" text-anchor="start" fill="#161616" color="#161616" font-weight="normal" transform="translate(416.30 219.00) scale(1 1.035) translate(-416.30 -219.00)">100</text>
<line x1="413.80" y1="311.55" x2="415.10" y2="311.55" stroke="#1a1a1a" stroke-width="1"/>
<line x1="413.80" y1="249.85" x2="415.10" y2="249.85" stroke="#1a1a1a" stroke-width="1"/>
<line x1="33.60" y1="342.40" x2="33.60" y2="344.70" stroke="#1a1a1a" stroke-width="1"/>
<text x="33.60" y="354.74" font-size="9.6" text-anchor="middle" fill="#161616" color="#161616" font-weight="normal" transform="translate(33.60 351.30) scale(1 1.035) translate(-33.60 -351.30)">0</text>
<line x1="109.64" y1="342.40" x2="109.64" y2="344.70" stroke="#1a1a1a" stroke-width="1"/>
<text x="109.64" y="354.74" font-size="9.6" text-anchor="middle" fill="#161616" color="#161616" font-weight="normal" transform="translate(109.64 351.30) scale(1 1.035) translate(-109.64 -351.30)">300</text>
<line x1="185.68" y1="342.40" x2="185.68" y2="344.70" stroke="#1a1a1a" stroke-width="1"/>
<text x="185.68" y="354.74" font-size="9.6" text-anchor="middle" fill="#161616" color="#161616" font-weight="normal" transform="translate(185.68 351.30) scale(1 1.035) translate(-185.68 -351.30)">600</text>
<line x1="261.72" y1="342.40" x2="261.72" y2="344.70" stroke="#1a1a1a" stroke-width="1"/>
<text x="261.72" y="354.74" font-size="9.6" text-anchor="middle" fill="#161616" color="#161616" font-weight="normal" transform="translate(261.72 351.30) scale(1 1.035) translate(-261.72 -351.30)">900</text>
<line x1="337.76" y1="342.40" x2="337.76" y2="344.70" stroke="#1a1a1a" stroke-width="1"/>
<text x="337.76" y="354.74" font-size="9.6" text-anchor="middle" fill="#161616" color="#161616" font-weight="normal" transform="translate(337.76 351.30) scale(1 1.035) translate(-337.76 -351.30)">1200</text>
<line x1="413.80" y1="342.40" x2="413.80" y2="344.70" stroke="#1a1a1a" stroke-width="1"/>
<text x="413.80" y="354.74" font-size="9.6" text-anchor="middle" fill="#161616" color="#161616" font-weight="normal" transform="translate(413.80 351.30) scale(1 1.035) translate(-413.80 -351.30)">1500</text>
<line x1="71.62" y1="342.40" x2="71.62" y2="343.70" stroke="#1a1a1a" stroke-width="1"/>
<line x1="147.66" y1="342.40" x2="147.66" y2="343.70" stroke="#1a1a1a" stroke-width="1"/>
<line x1="223.70" y1="342.40" x2="223.70" y2="343.70" stroke="#1a1a1a" stroke-width="1"/>
<line x1="299.74" y1="342.40" x2="299.74" y2="343.70" stroke="#1a1a1a" stroke-width="1"/>
<line x1="375.78" y1="342.40" x2="375.78" y2="343.70" stroke="#1a1a1a" stroke-width="1"/>
<text x="228.00" y="363.44" font-size="9.6" text-anchor="middle" fill="#161616" color="#161616" font-weight="normal" transform="translate(228.00 360.00) scale(1 1.035) translate(-228.00 -360.00)">Cycle Number</text>
<text x="5.50" y="280.44" font-size="9.6" text-anchor="middle" fill="#161616" color="#161616" font-weight="normal" transform="translate(5.50 277.00) scale(1 1.035) translate(-5.50 -277.00) rotate(-90 5.50 277.00)">Specific capacity (mAh/g)</text>
<text x="442.50" y="280.94" font-size="9.6" text-anchor="middle" fill="#161616" color="#161616" font-weight="normal" transform="translate(442.50 277.50) scale(1 1.035) translate(-442.50 -277.50) rotate(-90 442.50 277.50)">Columbic Efficiency (%)</text>
<text x="372.70" y="284.94" font-size="9.6" text-anchor="start" fill="#e8531f" color="#e8531f" font-weight="normal" transform="translate(372.70 281.50) scale(1 1.035) translate(-372.70 -281.50)">ES</text>
<text x="182.70" y="327.74" font-size="9.6" text-anchor="start" fill="#4a6cb3" color="#4a6cb3" font-weight="normal" transform="translate(182.70 324.30) scale(1 1.035) translate(-182.70 -324.30)">TEGDME</text>
<text x="471.40" y="200.30" font-size="9.5" text-anchor="start" fill="#111" color="#111" font-weight="bold" transform="translate(471.40 196.90) scale(1 1.035) translate(-471.40 -196.90)">e</text>
<path d="M517.60,286.50 C519.67,286.45 525.18,286.37 530.00,286.20 C534.82,286.03 541.50,285.83 546.50,285.50 C551.50,285.17 555.25,284.87 560.00,284.20 C564.75,283.53 571.18,282.17 575.00,281.50 C578.82,280.83 580.05,280.85 582.90,280.20 C585.75,279.55 589.48,278.58 592.10,277.60 C594.72,276.62 596.42,275.83 598.60,274.30 C600.78,272.77 602.57,270.60 605.20,268.40 C607.83,266.20 611.12,263.52 614.40,261.10 C617.68,258.68 621.62,256.30 624.90,253.90 C628.18,251.50 631.47,248.45 634.10,246.70 C636.73,244.95 637.85,244.50 640.70,243.40 C643.55,242.30 648.13,241.20 651.20,240.10 C654.27,239.00 657.35,238.00 659.10,236.80 C660.85,235.60 661.15,234.70 661.70,232.90 C662.25,231.10 662.28,227.15 662.40,226.00" fill="none" stroke="#f26b2f" stroke-width="1.15" stroke-linejoin="round" stroke-linecap="round"/>
<path d="M517.60,287.60 C517.83,287.50 516.93,287.07 519.00,287.00 C521.07,286.93 525.42,287.25 530.00,287.20 C534.58,287.15 541.50,287.10 546.50,286.70 C551.50,286.30 556.50,285.40 560.00,284.80 C563.50,284.20 565.00,283.65 567.50,283.10 C570.00,282.55 572.43,282.20 575.00,281.50 C577.57,280.80 580.05,279.88 582.90,278.90 C585.75,277.92 589.25,277.35 592.10,275.60 C594.95,273.85 597.38,270.70 600.00,268.40 C602.62,266.10 604.73,264.00 607.80,261.80 C610.87,259.60 614.67,257.50 618.40,255.20 C622.13,252.90 626.92,249.75 630.20,248.00 C633.48,246.25 635.03,245.80 638.10,244.70 C641.17,243.60 645.77,242.50 648.60,241.40 C651.43,240.30 653.68,239.52 655.10,238.10 C656.52,236.68 656.65,235.58 657.10,232.90 C657.55,230.22 657.68,223.82 657.80,222.00" fill="none" stroke="#7fb446" stroke-width="1.15" stroke-linejoin="round" stroke-linecap="round"/>
<path d="M517.60,280.40 C518.92,280.40 522.43,280.57 525.50,280.40 C528.57,280.23 532.50,279.83 536.00,279.40 C539.50,278.97 543.00,278.33 546.50,277.80 C550.00,277.27 553.50,276.82 557.00,276.20 C560.50,275.58 564.50,274.87 567.50,274.10 C570.50,273.33 572.00,272.55 575.00,271.60 C578.00,270.65 582.00,270.25 585.50,268.40 C589.00,266.55 592.28,263.03 596.00,260.50 C599.72,257.97 604.07,255.50 607.80,253.20 C611.53,250.90 614.67,248.98 618.40,246.70 C622.13,244.42 626.48,241.37 630.20,239.50 C633.92,237.63 637.63,237.03 640.70,235.50 C643.77,233.97 646.85,232.05 648.60,230.30 C650.35,228.55 650.58,226.83 651.20,225.00 C651.82,223.17 652.12,220.25 652.30,219.30" fill="none" stroke="#e23fa6" stroke-width="1.15" stroke-linejoin="round" stroke-linecap="round"/>
<path d="M517.60,276.80 C518.92,276.88 522.43,277.57 525.50,277.30 C528.57,277.03 532.50,275.90 536.00,275.20 C539.50,274.50 543.00,273.88 546.50,273.10 C550.00,272.32 553.50,271.28 557.00,270.50 C560.50,269.72 564.50,268.98 567.50,268.40 C570.50,267.82 572.00,268.10 575.00,267.00 C578.00,265.90 582.00,263.98 585.50,261.80 C589.00,259.62 592.28,256.53 596.00,253.90 C599.72,251.27 603.85,248.52 607.80,246.00 C611.75,243.48 615.97,240.88 619.70,238.80 C623.43,236.72 627.35,234.92 630.20,233.50 C633.05,232.08 635.05,231.72 636.80,230.30 C638.55,228.88 639.62,226.72 640.70,225.00 C641.78,223.28 642.77,221.65 643.30,220.00 C643.83,218.35 643.80,215.92 643.90,215.10" fill="none" stroke="#4c72c2" stroke-width="1.15" stroke-linejoin="round" stroke-linecap="round"/>
<path d="M517.60,274.10 C517.87,273.85 518.55,272.68 519.20,272.60 C519.85,272.52 520.45,273.35 521.50,273.60 C522.55,273.85 523.08,274.37 525.50,274.10 C527.92,273.83 532.50,272.78 536.00,272.00 C539.50,271.22 543.00,270.27 546.50,269.40 C550.00,268.53 553.85,267.77 557.00,266.80 C560.15,265.83 562.40,265.32 565.40,263.60 C568.40,261.88 571.65,258.77 575.00,256.50 C578.35,254.23 581.12,252.83 585.50,250.00 C589.88,247.17 596.48,242.47 601.30,239.50 C606.12,236.53 610.95,234.30 614.40,232.20 C617.85,230.10 619.48,228.68 622.00,226.90 C624.52,225.12 627.78,223.32 629.50,221.50 C631.22,219.68 631.72,217.62 632.30,216.00 C632.88,214.38 632.88,212.50 633.00,211.80" fill="none" stroke="#1f1f1f" stroke-width="1.15" stroke-linejoin="round" stroke-linecap="round"/>
<path d="M517.60,235.80 C517.70,236.93 517.75,240.77 518.20,242.60 C518.65,244.43 519.08,245.67 520.30,246.80 C521.52,247.93 522.88,248.62 525.50,249.40 C528.12,250.18 533.02,250.80 536.00,251.50 C538.98,252.20 541.12,252.63 543.40,253.60 C545.68,254.57 547.43,255.80 549.70,257.30 C551.97,258.80 554.38,260.67 557.00,262.60 C559.62,264.53 562.40,266.63 565.40,268.90 C568.40,271.17 572.83,274.10 575.00,276.20 C577.17,278.30 577.07,279.90 578.40,281.50 C579.73,283.10 581.07,284.53 583.00,285.80 C584.93,287.07 585.92,287.87 590.00,289.10 C594.08,290.33 601.67,291.93 607.50,293.20 C613.33,294.47 620.72,295.73 625.00,296.70 C629.28,297.67 631.25,298.22 633.20,299.00 C635.15,299.78 635.53,300.03 636.70,301.40 C637.87,302.77 638.83,305.37 640.20,307.20 C641.57,309.03 642.95,311.03 644.90,312.40 C646.85,313.77 649.38,314.52 651.90,315.40 C654.42,316.28 657.28,316.53 660.00,317.70 C662.72,318.87 666.83,321.62 668.20,322.40" fill="none" stroke="#f26b2f" stroke-width="1.15" stroke-linejoin="round" stroke-linecap="round"/>
<path d="M517.60,240.50 C517.78,241.63 517.90,245.55 518.70,247.30 C519.50,249.05 520.38,249.95 522.40,251.00 C524.42,252.05 527.65,252.82 530.80,253.60 C533.95,254.38 538.33,254.82 541.30,255.70 C544.27,256.58 545.98,257.40 548.60,258.90 C551.22,260.40 554.20,262.68 557.00,264.70 C559.80,266.72 562.40,268.63 565.40,271.00 C568.40,273.37 572.83,276.95 575.00,278.90 C577.17,280.85 576.90,281.08 578.40,282.70 C579.90,284.32 582.07,286.95 584.00,288.60 C585.93,290.25 586.08,291.15 590.00,292.60 C593.92,294.05 602.25,295.75 607.50,297.30 C612.75,298.85 617.60,300.45 621.50,301.90 C625.40,303.35 628.37,304.53 630.90,306.00 C633.43,307.47 634.95,309.03 636.70,310.70 C638.45,312.37 639.45,314.35 641.40,316.00 C643.35,317.65 645.38,319.00 648.40,320.60 C651.42,322.20 657.65,324.77 659.50,325.60" fill="none" stroke="#7fb446" stroke-width="1.15" stroke-linejoin="round" stroke-linecap="round"/>
<path d="M517.60,245.80 C517.87,246.93 517.88,251.03 519.20,252.60 C520.52,254.17 522.70,254.42 525.50,255.20 C528.30,255.98 532.85,256.60 536.00,257.30 C539.15,258.00 541.77,258.35 544.40,259.40 C547.03,260.45 549.17,261.85 551.80,263.60 C554.43,265.35 557.58,267.97 560.20,269.90 C562.82,271.83 565.03,273.35 567.50,275.20 C569.97,277.05 572.80,279.20 575.00,281.00 C577.20,282.80 578.20,283.67 580.70,286.00 C583.20,288.33 586.50,292.73 590.00,295.00 C593.50,297.27 597.80,297.95 601.70,299.60 C605.60,301.25 609.52,303.05 613.40,304.90 C617.28,306.75 621.90,308.95 625.00,310.70 C628.10,312.45 629.67,313.45 632.00,315.40 C634.33,317.35 635.68,320.12 639.00,322.40 C642.32,324.68 649.75,327.98 651.90,329.10" fill="none" stroke="#e23fa6" stroke-width="1.15" stroke-linejoin="round" stroke-linecap="round"/>
<path d="M517.60,250.00 C517.87,251.05 517.88,254.82 519.20,256.30 C520.52,257.78 522.70,258.12 525.50,258.90 C528.30,259.68 532.85,260.22 536.00,261.00 C539.15,261.78 541.77,262.47 544.40,263.60 C547.03,264.73 549.17,266.05 551.80,267.80 C554.43,269.55 557.58,272.17 560.20,274.10 C562.82,276.03 565.03,277.65 567.50,279.40 C569.97,281.15 572.60,282.83 575.00,284.60 C577.40,286.37 579.40,287.68 581.90,290.00 C584.40,292.32 586.70,296.12 590.00,298.50 C593.30,300.88 597.80,302.27 601.70,304.30 C605.60,306.33 609.52,308.47 613.40,310.70 C617.28,312.93 621.70,315.37 625.00,317.70 C628.30,320.03 629.98,322.22 633.20,324.70 C636.42,327.18 642.45,331.28 644.30,332.60" fill="none" stroke="#4c72c2" stroke-width="1.15" stroke-linejoin="round" stroke-linecap="round"/>
<path d="M517.60,252.10 C517.78,253.32 517.90,257.75 518.70,259.40 C519.50,261.05 520.38,261.12 522.40,262.00 C524.42,262.88 527.65,263.73 530.80,264.70 C533.95,265.67 538.15,266.67 541.30,267.80 C544.45,268.93 547.08,270.10 549.70,271.50 C552.32,272.90 554.38,274.37 557.00,276.20 C559.62,278.03 562.40,280.40 565.40,282.50 C568.40,284.60 572.07,286.52 575.00,288.80 C577.93,291.08 580.50,293.95 583.00,296.20 C585.50,298.45 586.88,299.93 590.00,302.30 C593.12,304.67 597.80,307.73 601.70,310.40 C605.60,313.07 609.90,315.92 613.40,318.30 C616.90,320.68 619.50,321.78 622.70,324.70 C625.90,327.62 630.95,333.95 632.60,335.80" fill="none" stroke="#1f1f1f" stroke-width="1.15" stroke-linejoin="round" stroke-linecap="round"/>
<line x1="627.00" y1="263.00" x2="643.40" y2="263.00" stroke="#f26b2f" stroke-width="1.4"/>
<text x="645.00" y="266.44" font-size="9.6" text-anchor="start" fill="#161616" color="#161616" font-weight="normal" transform="translate(645.00 263.00) scale(1 1.035) translate(-645.00 -263.00)">0.17C</text>
<line x1="627.00" y1="274.90" x2="643.40" y2="274.90" stroke="#7fb446" stroke-width="1.4"/>
<text x="645.00" y="278.34" font-size="9.6" text-anchor="start" fill="#161616" color="#161616" font-weight="normal" transform="translate(645.00 274.90) scale(1 1.035) translate(-645.00 -274.90)">0.3C</text>
<line x1="627.00" y1="287.00" x2="643.40" y2="287.00" stroke="#e23fa6" stroke-width="1.4"/>
<text x="645.00" y="290.44" font-size="9.6" text-anchor="start" fill="#161616" color="#161616" font-weight="normal" transform="translate(645.00 287.00) scale(1 1.035) translate(-645.00 -287.00)">0.5C</text>
<line x1="526.00" y1="314.40" x2="541.80" y2="314.40" stroke="#4c72c2" stroke-width="1.4"/>
<text x="544.80" y="317.84" font-size="9.6" text-anchor="start" fill="#161616" color="#161616" font-weight="normal" transform="translate(544.80 314.40) scale(1 1.035) translate(-544.80 -314.40)">0.75C</text>
<line x1="526.00" y1="326.60" x2="541.80" y2="326.60" stroke="#1f1f1f" stroke-width="1.4"/>
<text x="544.80" y="330.04" font-size="9.6" text-anchor="start" fill="#161616" color="#161616" font-weight="normal" transform="translate(544.80 326.60) scale(1 1.035) translate(-544.80 -326.60)">1C</text>
<line x1="515.40" y1="205.40" x2="683.80" y2="205.40" stroke="#1a1a1a" stroke-width="1"/>
<line x1="683.80" y1="205.40" x2="683.80" y2="342.10" stroke="#1a1a1a" stroke-width="1"/>
<line x1="515.40" y1="205.40" x2="515.40" y2="342.60" stroke="#333" stroke-width="1.3"/>
<line x1="515.40" y1="342.10" x2="683.80" y2="342.10" stroke="#1a1a1a" stroke-width="1.2"/>
<line x1="515.40" y1="342.10" x2="513.10" y2="342.10" stroke="#1a1a1a" stroke-width="1"/>
<text x="510.60" y="345.54" font-size="9.6" text-anchor="end" fill="#161616" color="#161616" font-weight="normal" transform="translate(510.60 342.10) scale(1 1.035) translate(-510.60 -342.10)">1.2</text>
<line x1="515.40" y1="314.76" x2="513.10" y2="314.76" stroke="#1a1a1a" stroke-width="1"/>
<text x="510.60" y="318.20" font-size="9.6" text-anchor="end" fill="#161616" color="#161616" font-weight="normal" transform="translate(510.60 314.76) scale(1 1.035) translate(-510.60 -314.76)">1.6</text>
<line x1="515.40" y1="287.42" x2="513.10" y2="287.42" stroke="#1a1a1a" stroke-width="1"/>
<text x="510.60" y="290.86" font-size="9.6" text-anchor="end" fill="#161616" color="#161616" font-weight="normal" transform="translate(510.60 287.42) scale(1 1.035) translate(-510.60 -287.42)">2.0</text>
<line x1="515.40" y1="260.08" x2="513.10" y2="260.08" stroke="#1a1a1a" stroke-width="1"/>
<text x="510.60" y="263.52" font-size="9.6" text-anchor="end" fill="#161616" color="#161616" font-weight="normal" transform="translate(510.60 260.08) scale(1 1.035) translate(-510.60 -260.08)">2.4</text>
<line x1="515.40" y1="232.74" x2="513.10" y2="232.74" stroke="#1a1a1a" stroke-width="1"/>
<text x="510.60" y="236.18" font-size="9.6" text-anchor="end" fill="#161616" color="#161616" font-weight="normal" transform="translate(510.60 232.74) scale(1 1.035) translate(-510.60 -232.74)">2.8</text>
<line x1="515.40" y1="205.40" x2="513.10" y2="205.40" stroke="#1a1a1a" stroke-width="1"/>
<text x="510.60" y="208.84" font-size="9.6" text-anchor="end" fill="#161616" color="#161616" font-weight="normal" transform="translate(510.60 205.40) scale(1 1.035) translate(-510.60 -205.40)">3.2</text>
<line x1="515.40" y1="328.43" x2="514.10" y2="328.43" stroke="#1a1a1a" stroke-width="1"/>
<line x1="515.40" y1="301.09" x2="514.10" y2="301.09" stroke="#1a1a1a" stroke-width="1"/>
<line x1="515.40" y1="273.75" x2="514.10" y2="273.75" stroke="#1a1a1a" stroke-width="1"/>
<line x1="515.40" y1="246.41" x2="514.10" y2="246.41" stroke="#1a1a1a" stroke-width="1"/>
<line x1="515.40" y1="219.07" x2="514.10" y2="219.07" stroke="#1a1a1a" stroke-width="1"/>
<line x1="517.60" y1="342.10" x2="517.60" y2="344.40" stroke="#1a1a1a" stroke-width="1"/>
<text x="517.60" y="355.54" font-size="9.6" text-anchor="middle" fill="#161616" color="#161616" font-weight="normal" transform="translate(517.60 352.10) scale(1 1.035) translate(-517.60 -352.10)">0</text>
<line x1="547.50" y1="342.10" x2="547.50" y2="344.40" stroke="#1a1a1a" stroke-width="1"/>
<text x="547.50" y="355.54" font-size="9.6" text-anchor="middle" fill="#161616" color="#161616" font-weight="normal" transform="translate(547.50 352.10) scale(1 1.035) translate(-547.50 -352.10)">200</text>
<line x1="577.40" y1="342.10" x2="577.40" y2="344.40" stroke="#1a1a1a" stroke-width="1"/>
<text x="577.40" y="355.54" font-size="9.6" text-anchor="middle" fill="#161616" color="#161616" font-weight="normal" transform="translate(577.40 352.10) scale(1 1.035) translate(-577.40 -352.10)">400</text>
<line x1="607.30" y1="342.10" x2="607.30" y2="344.40" stroke="#1a1a1a" stroke-width="1"/>
<text x="607.30" y="355.54" font-size="9.6" text-anchor="middle" fill="#161616" color="#161616" font-weight="normal" transform="translate(607.30 352.10) scale(1 1.035) translate(-607.30 -352.10)">600</text>
<line x1="637.20" y1="342.10" x2="637.20" y2="344.40" stroke="#1a1a1a" stroke-width="1"/>
<text x="637.20" y="355.54" font-size="9.6" text-anchor="middle" fill="#161616" color="#161616" font-weight="normal" transform="translate(637.20 352.10) scale(1 1.035) translate(-637.20 -352.10)">800</text>
<line x1="667.10" y1="342.10" x2="667.10" y2="344.40" stroke="#1a1a1a" stroke-width="1"/>
<text x="667.10" y="355.54" font-size="9.6" text-anchor="middle" fill="#161616" color="#161616" font-weight="normal" transform="translate(667.10 352.10) scale(1 1.035) translate(-667.10 -352.10)">1000</text>
<line x1="532.55" y1="342.10" x2="532.55" y2="343.40" stroke="#1a1a1a" stroke-width="1"/>
<line x1="562.45" y1="342.10" x2="562.45" y2="343.40" stroke="#1a1a1a" stroke-width="1"/>
<line x1="592.35" y1="342.10" x2="592.35" y2="343.40" stroke="#1a1a1a" stroke-width="1"/>
<line x1="622.25" y1="342.10" x2="622.25" y2="343.40" stroke="#1a1a1a" stroke-width="1"/>
<line x1="652.15" y1="342.10" x2="652.15" y2="343.40" stroke="#1a1a1a" stroke-width="1"/>
<line x1="682.05" y1="342.10" x2="682.05" y2="343.40" stroke="#1a1a1a" stroke-width="1"/>
<text x="593.80" y="366.24" font-size="9.6" text-anchor="middle" fill="#161616" color="#161616" font-weight="normal" transform="translate(593.80 362.80) scale(1 1.035) translate(-593.80 -362.80)">Specific Capacity (mAh/g)</text>
<text x="482.80" y="276.54" font-size="9.6" text-anchor="middle" fill="#161616" color="#161616" font-weight="normal" transform="translate(482.80 273.10) scale(1 1.035) translate(-482.80 -273.10) rotate(-90 482.80 273.10)">Voltage (V)</text>
<text x="3.00" y="379.00" font-size="9.5" text-anchor="start" fill="#111" color="#111" font-weight="bold" transform="translate(3.00 375.60) scale(1 1.035) translate(-3.00 -375.60)">f</text>
<path d="M64.20,530.30 C66.00,530.32 71.40,530.42 75.00,530.40 C78.60,530.38 81.13,530.33 85.80,530.20 C90.47,530.07 98.13,529.63 103.00,529.60 C107.87,529.57 111.15,529.50 115.00,530.00 C118.85,530.50 123.43,531.90 126.10,532.60 C128.77,533.30 129.45,533.87 131.00,534.20 C132.55,534.53 134.07,534.70 135.40,534.60 C136.73,534.50 137.75,534.37 139.00,533.60 C140.25,532.83 141.57,531.33 142.90,530.00 C144.23,528.67 145.45,527.02 147.00,525.60 C148.55,524.18 149.80,523.30 152.20,521.50 C154.60,519.70 158.77,516.45 161.40,514.80 C164.03,513.15 165.52,512.50 168.00,511.60 C170.48,510.70 172.83,510.17 176.30,509.40 C179.77,508.63 185.08,507.73 188.80,507.00 C192.52,506.27 195.73,505.58 198.60,505.00 C201.47,504.42 203.83,504.00 206.00,503.50 C208.17,503.00 209.80,502.68 211.60,502.00 C213.40,501.32 215.93,499.83 216.80,499.40" fill="none" stroke="#a9bde2" stroke-width="1.5" stroke-linejoin="round" stroke-linecap="round"/>
<path d="M64.20,527.60 C65.88,527.53 70.70,527.42 74.30,527.20 C77.90,526.98 81.02,526.27 85.80,526.30 C90.58,526.33 98.13,527.52 103.00,527.40 C107.87,527.28 111.15,526.40 115.00,525.60 C118.85,524.80 123.10,523.40 126.10,522.60 C129.10,521.80 130.52,521.30 133.00,520.80 C135.48,520.30 138.67,519.80 141.00,519.60 C143.33,519.40 145.13,519.45 147.00,519.60 C148.87,519.75 150.37,519.97 152.20,520.50 C154.03,521.03 155.83,521.83 158.00,522.80 C160.17,523.77 163.20,525.13 165.20,526.30 C167.20,527.47 168.47,528.57 170.00,529.80 C171.53,531.03 173.15,532.53 174.40,533.70 C175.65,534.87 176.57,536.03 177.50,536.80 C178.43,537.57 179.08,538.07 180.00,538.30 C180.92,538.53 181.75,538.47 183.00,538.20 C184.25,537.93 186.75,536.95 187.50,536.70" fill="none" stroke="#3c5c9f" stroke-width="1.5" stroke-linejoin="round" stroke-linecap="round"/>
<path d="M55.70,530.40 C57.25,530.25 61.90,529.72 65.00,529.50 C68.10,529.28 70.83,529.27 74.30,529.10 C77.77,528.93 82.70,528.63 85.80,528.50 C88.90,528.37 90.53,528.28 92.90,528.30 C95.27,528.32 97.75,528.42 100.00,528.60 C102.25,528.78 104.57,528.95 106.40,529.40 C108.23,529.85 109.70,530.50 111.00,531.30 C112.30,532.10 113.03,533.33 114.20,534.20 C115.37,535.07 116.78,535.78 118.00,536.50 C119.22,537.22 120.53,537.98 121.50,538.50 C122.47,539.02 123.17,539.60 123.80,539.60 C124.43,539.60 125.05,538.68 125.30,538.50" fill="none" stroke="#f5a07e" stroke-width="1.5" stroke-linejoin="round" stroke-linecap="round"/>
<path d="M54.80,530.40 C55.17,530.60 56.23,531.30 57.00,531.60 C57.77,531.90 58.07,532.07 59.40,532.20 C60.73,532.33 62.52,532.30 65.00,532.40 C67.48,532.50 72.13,532.62 74.30,532.80 C76.47,532.98 76.77,533.18 78.00,533.50 C79.23,533.82 80.53,534.25 81.70,534.70 C82.87,535.15 84.07,535.80 85.00,536.20 C85.93,536.60 86.47,537.00 87.30,537.10 C88.13,537.20 89.07,536.92 90.00,536.80 C90.93,536.68 91.90,536.43 92.90,536.40 C93.90,536.37 95.07,536.47 96.00,536.60 C96.93,536.73 97.67,536.90 98.50,537.20 C99.33,537.50 100.23,537.90 101.00,538.40 C101.77,538.90 102.75,539.90 103.10,540.20" fill="none" stroke="#e4511d" stroke-width="1.5" stroke-linejoin="round" stroke-linecap="round"/>
<line x1="34.10" y1="393.50" x2="216.80" y2="393.50" stroke="#1a1a1a" stroke-width="1"/>
<line x1="216.80" y1="393.50" x2="216.80" y2="540.20" stroke="#666" stroke-width="1.3"/>
<line x1="34.10" y1="393.50" x2="34.10" y2="540.70" stroke="#555" stroke-width="1.4"/>
<line x1="34.10" y1="540.20" x2="216.80" y2="540.20" stroke="#1a1a1a" stroke-width="1.2"/>
<line x1="34.10" y1="540.20" x2="31.80" y2="540.20" stroke="#1a1a1a" stroke-width="1"/>
<text x="29.00" y="543.64" font-size="9.6" text-anchor="end" fill="#161616" color="#161616" font-weight="normal" transform="translate(29.00 540.20) scale(1 1.035) translate(-29.00 -540.20)">0</text>
<line x1="34.10" y1="503.53" x2="31.80" y2="503.53" stroke="#1a1a1a" stroke-width="1"/>
<text x="29.00" y="506.96" font-size="9.6" text-anchor="end" fill="#161616" color="#161616" font-weight="normal" transform="translate(29.00 503.53) scale(1 1.035) translate(-29.00 -503.53)">100</text>
<line x1="34.10" y1="466.85" x2="31.80" y2="466.85" stroke="#1a1a1a" stroke-width="1"/>
<text x="29.00" y="470.29" font-size="9.6" text-anchor="end" fill="#161616" color="#161616" font-weight="normal" transform="translate(29.00 466.85) scale(1 1.035) translate(-29.00 -466.85)">200</text>
<line x1="34.10" y1="430.18" x2="31.80" y2="430.18" stroke="#1a1a1a" stroke-width="1"/>
<text x="29.00" y="433.61" font-size="9.6" text-anchor="end" fill="#161616" color="#161616" font-weight="normal" transform="translate(29.00 430.18) scale(1 1.035) translate(-29.00 -430.18)">300</text>
<line x1="34.10" y1="393.50" x2="31.80" y2="393.50" stroke="#1a1a1a" stroke-width="1"/>
<text x="29.00" y="396.94" font-size="9.6" text-anchor="end" fill="#161616" color="#161616" font-weight="normal" transform="translate(29.00 393.50) scale(1 1.035) translate(-29.00 -393.50)">400</text>
<line x1="34.10" y1="521.86" x2="32.80" y2="521.86" stroke="#1a1a1a" stroke-width="1"/>
<line x1="34.10" y1="485.19" x2="32.80" y2="485.19" stroke="#1a1a1a" stroke-width="1"/>
<line x1="34.10" y1="448.51" x2="32.80" y2="448.51" stroke="#1a1a1a" stroke-width="1"/>
<line x1="34.10" y1="411.84" x2="32.80" y2="411.84" stroke="#1a1a1a" stroke-width="1"/>
<line x1="34.10" y1="540.20" x2="34.10" y2="542.50" stroke="#1a1a1a" stroke-width="1"/>
<text x="34.10" y="555.44" font-size="9.6" text-anchor="middle" fill="#161616" color="#161616" font-weight="normal" transform="translate(34.10 552.00) scale(1 1.035) translate(-34.10 -552.00)">0</text>
<line x1="79.78" y1="540.20" x2="79.78" y2="542.50" stroke="#1a1a1a" stroke-width="1"/>
<text x="79.78" y="555.44" font-size="9.6" text-anchor="middle" fill="#161616" color="#161616" font-weight="normal" transform="translate(79.78 552.00) scale(1 1.035) translate(-79.78 -552.00)">100</text>
<line x1="125.45" y1="540.20" x2="125.45" y2="542.50" stroke="#1a1a1a" stroke-width="1"/>
<text x="125.45" y="555.44" font-size="9.6" text-anchor="middle" fill="#161616" color="#161616" font-weight="normal" transform="translate(125.45 552.00) scale(1 1.035) translate(-125.45 -552.00)">200</text>
<line x1="171.12" y1="540.20" x2="171.12" y2="542.50" stroke="#1a1a1a" stroke-width="1"/>
<text x="171.12" y="555.44" font-size="9.6" text-anchor="middle" fill="#161616" color="#161616" font-weight="normal" transform="translate(171.12 552.00) scale(1 1.035) translate(-171.12 -552.00)">300</text>
<line x1="216.80" y1="540.20" x2="216.80" y2="542.50" stroke="#1a1a1a" stroke-width="1"/>
<text x="216.80" y="555.44" font-size="9.6" text-anchor="middle" fill="#161616" color="#161616" font-weight="normal" transform="translate(216.80 552.00) scale(1 1.035) translate(-216.80 -552.00)">400</text>
<line x1="56.94" y1="540.20" x2="56.94" y2="541.50" stroke="#1a1a1a" stroke-width="1"/>
<line x1="102.61" y1="540.20" x2="102.61" y2="541.50" stroke="#1a1a1a" stroke-width="1"/>
<line x1="148.29" y1="540.20" x2="148.29" y2="541.50" stroke="#1a1a1a" stroke-width="1"/>
<line x1="193.96" y1="540.20" x2="193.96" y2="541.50" stroke="#1a1a1a" stroke-width="1"/>
<text x="125.60" y="565.64" font-size="9.6" text-anchor="middle" fill="#161616" color="#161616" font-weight="normal" transform="translate(125.60 562.20) scale(1 1.035) translate(-125.60 -562.20)">Z' (Ohm)</text>
<text x="7.70" y="477.14" font-size="9.6" text-anchor="middle" fill="#161616" color="#161616" font-weight="normal" transform="translate(7.70 473.70) scale(1 1.035) translate(-7.70 -473.70) rotate(-90 7.70 473.70)">-Z'' (Ohm)</text>
<text x="49.80" y="500.54" font-size="9.6" text-anchor="start" fill="#f5a07e" color="#f5a07e" font-weight="normal" transform="translate(49.80 497.10) scale(1 1.035) translate(-49.80 -497.10)">ES-DC</text>
<text x="49.80" y="517.64" font-size="9.6" text-anchor="start" fill="#e4511d" color="#e4511d" font-weight="normal" transform="translate(49.80 514.20) scale(1 1.035) translate(-49.80 -514.20)">ES-C</text>
<text x="148.80" y="482.94" font-size="9.6" text-anchor="start" fill="#a9bde2" color="#a9bde2" font-weight="normal" transform="translate(148.80 479.50) scale(1 1.035) translate(-148.80 -479.50)">TEGDME DC</text>
<text x="148.80" y="500.44" font-size="9.6" text-anchor="start" fill="#3c5c9f" color="#3c5c9f" font-weight="normal" transform="translate(148.80 497.00) scale(1 1.035) translate(-148.80 -497.00)">TEGDME C</text>
<text x="234.20" y="378.90" font-size="9.5" text-anchor="start" fill="#111" color="#111" font-weight="bold" transform="translate(234.20 375.50) scale(1 1.035) translate(-234.20 -375.50)">g</text>
<line x1="357.02" y1="393.40" x2="357.02" y2="541.20" stroke="#82b644" stroke-width="1.1" stroke-dasharray="4 2.6"/>
<line x1="404.85" y1="393.40" x2="404.85" y2="541.20" stroke="#82b644" stroke-width="1.1" stroke-dasharray="4 2.6"/>
<line x1="279.00" y1="392.40" x2="447.70" y2="392.40" stroke="#1a1a1a" stroke-width="1"/>
<line x1="447.70" y1="392.40" x2="447.70" y2="541.20" stroke="#1a1a1a" stroke-width="1"/>
<line x1="279.00" y1="392.40" x2="279.00" y2="541.70" stroke="#333" stroke-width="1.3"/>
<line x1="279.00" y1="541.20" x2="447.70" y2="541.20" stroke="#333" stroke-width="1.2"/>
<line x1="279.00" y1="541.20" x2="276.70" y2="541.20" stroke="#1a1a1a" stroke-width="1"/>
<line x1="279.00" y1="466.90" x2="276.70" y2="466.90" stroke="#1a1a1a" stroke-width="1"/>
<line x1="279.00" y1="392.60" x2="276.70" y2="392.60" stroke="#1a1a1a" stroke-width="1"/>
<text x="273.30" y="396.04" font-size="9.6" text-anchor="end" fill="#161616" color="#161616" font-weight="normal" transform="translate(273.30 392.60) scale(1 1.035) translate(-273.30 -392.60)">1000</text>
<text x="273.30" y="470.34" font-size="9.6" text-anchor="end" fill="#161616" color="#161616" font-weight="normal" transform="translate(273.30 466.90) scale(1 1.035) translate(-273.30 -466.90)">100</text>
<text x="273.30" y="544.64" font-size="9.6" text-anchor="end" fill="#161616" color="#161616" font-weight="normal" transform="translate(273.30 541.20) scale(1 1.035) translate(-273.30 -541.20)">10</text>
<line x1="279.00" y1="518.83" x2="277.70" y2="518.83" stroke="#1a1a1a" stroke-width="1"/>
<line x1="279.00" y1="505.75" x2="277.70" y2="505.75" stroke="#1a1a1a" stroke-width="1"/>
<line x1="279.00" y1="496.47" x2="277.70" y2="496.47" stroke="#1a1a1a" stroke-width="1"/>
<line x1="279.00" y1="489.27" x2="277.70" y2="489.27" stroke="#1a1a1a" stroke-width="1"/>
<line x1="279.00" y1="483.38" x2="277.70" y2="483.38" stroke="#1a1a1a" stroke-width="1"/>
<line x1="279.00" y1="478.41" x2="277.70" y2="478.41" stroke="#1a1a1a" stroke-width="1"/>
<line x1="279.00" y1="474.10" x2="277.70" y2="474.10" stroke="#1a1a1a" stroke-width="1"/>
<line x1="279.00" y1="470.30" x2="277.70" y2="470.30" stroke="#1a1a1a" stroke-width="1"/>
<line x1="279.00" y1="444.53" x2="277.70" y2="444.53" stroke="#1a1a1a" stroke-width="1"/>
<line x1="279.00" y1="431.45" x2="277.70" y2="431.45" stroke="#1a1a1a" stroke-width="1"/>
<line x1="279.00" y1="422.17" x2="277.70" y2="422.17" stroke="#1a1a1a" stroke-width="1"/>
<line x1="279.00" y1="414.97" x2="277.70" y2="414.97" stroke="#1a1a1a" stroke-width="1"/>
<line x1="279.00" y1="409.08" x2="277.70" y2="409.08" stroke="#1a1a1a" stroke-width="1"/>
<line x1="279.00" y1="404.11" x2="277.70" y2="404.11" stroke="#1a1a1a" stroke-width="1"/>
<line x1="279.00" y1="399.80" x2="277.70" y2="399.80" stroke="#1a1a1a" stroke-width="1"/>
<line x1="279.00" y1="396.00" x2="277.70" y2="396.00" stroke="#1a1a1a" stroke-width="1"/>
<line x1="278.90" y1="541.20" x2="278.90" y2="543.50" stroke="#1a1a1a" stroke-width="1"/>
<text x="278.90" y="554.84" font-size="9.6" text-anchor="middle" fill="#161616" color="#161616" font-weight="normal" transform="translate(278.90 551.40) scale(1 1.035) translate(-278.90 -551.40)">1</text>
<line x1="335.50" y1="541.20" x2="335.50" y2="543.50" stroke="#1a1a1a" stroke-width="1"/>
<text x="335.50" y="554.84" font-size="9.6" text-anchor="middle" fill="#161616" color="#161616" font-weight="normal" transform="translate(335.50 551.40) scale(1 1.035) translate(-335.50 -551.40)">10</text>
<line x1="392.10" y1="541.20" x2="392.10" y2="543.50" stroke="#1a1a1a" stroke-width="1"/>
<text x="392.10" y="554.84" font-size="9.6" text-anchor="middle" fill="#161616" color="#161616" font-weight="normal" transform="translate(392.10 551.40) scale(1 1.035) translate(-392.10 -551.40)">100</text>
<line x1="448.70" y1="541.20" x2="448.70" y2="543.50" stroke="#1a1a1a" stroke-width="1"/>
<text x="448.70" y="554.84" font-size="9.6" text-anchor="middle" fill="#161616" color="#161616" font-weight="normal" transform="translate(448.70 551.40) scale(1 1.035) translate(-448.70 -551.40)">1000</text>
<line x1="295.94" y1="541.20" x2="295.94" y2="539.90" stroke="#1a1a1a" stroke-width="1"/>
<line x1="305.91" y1="541.20" x2="305.91" y2="539.90" stroke="#1a1a1a" stroke-width="1"/>
<line x1="312.98" y1="541.20" x2="312.98" y2="539.90" stroke="#1a1a1a" stroke-width="1"/>
<line x1="318.46" y1="541.20" x2="318.46" y2="539.90" stroke="#1a1a1a" stroke-width="1"/>
<line x1="322.94" y1="541.20" x2="322.94" y2="539.90" stroke="#1a1a1a" stroke-width="1"/>
<line x1="326.73" y1="541.20" x2="326.73" y2="539.90" stroke="#1a1a1a" stroke-width="1"/>
<line x1="330.01" y1="541.20" x2="330.01" y2="539.90" stroke="#1a1a1a" stroke-width="1"/>
<line x1="332.91" y1="541.20" x2="332.91" y2="539.90" stroke="#1a1a1a" stroke-width="1"/>
<line x1="352.54" y1="541.20" x2="352.54" y2="539.90" stroke="#1a1a1a" stroke-width="1"/>
<line x1="362.51" y1="541.20" x2="362.51" y2="539.90" stroke="#1a1a1a" stroke-width="1"/>
<line x1="369.58" y1="541.20" x2="369.58" y2="539.90" stroke="#1a1a1a" stroke-width="1"/>
<line x1="375.06" y1="541.20" x2="375.06" y2="539.90" stroke="#1a1a1a" stroke-width="1"/>
<line x1="379.54" y1="541.20" x2="379.54" y2="539.90" stroke="#1a1a1a" stroke-width="1"/>
<line x1="383.33" y1="541.20" x2="383.33" y2="539.90" stroke="#1a1a1a" stroke-width="1"/>
<line x1="386.61" y1="541.20" x2="386.61" y2="539.90" stroke="#1a1a1a" stroke-width="1"/>
<line x1="389.51" y1="541.20" x2="389.51" y2="539.90" stroke="#1a1a1a" stroke-width="1"/>
<line x1="409.14" y1="541.20" x2="409.14" y2="539.90" stroke="#1a1a1a" stroke-width="1"/>
<line x1="419.11" y1="541.20" x2="419.11" y2="539.90" stroke="#1a1a1a" stroke-width="1"/>
<line x1="426.18" y1="541.20" x2="426.18" y2="539.90" stroke="#1a1a1a" stroke-width="1"/>
<line x1="431.66" y1="541.20" x2="431.66" y2="539.90" stroke="#1a1a1a" stroke-width="1"/>
<line x1="436.14" y1="541.20" x2="436.14" y2="539.90" stroke="#1a1a1a" stroke-width="1"/>
<line x1="439.93" y1="541.20" x2="439.93" y2="539.90" stroke="#1a1a1a" stroke-width="1"/>
<line x1="443.21" y1="541.20" x2="443.21" y2="539.90" stroke="#1a1a1a" stroke-width="1"/>
<line x1="446.11" y1="541.20" x2="446.11" y2="539.90" stroke="#1a1a1a" stroke-width="1"/>
<path d="M278.90,412.40 L280.31,413.87 L281.73,415.31 L283.14,416.74 L284.56,418.15 L285.97,419.55 L287.39,420.92 L288.80,422.26 L290.22,423.59 L291.63,424.90 L293.05,426.18 L294.46,427.44 L295.88,428.68 L297.29,429.89 L298.71,431.08 L300.12,432.24 L301.54,433.38 L302.95,434.49 L304.37,435.58 L305.78,436.64 L307.20,437.67 L308.62,438.68 L310.03,439.66 L311.44,440.62 L312.86,441.54 L314.27,442.45 L315.69,443.32 L317.10,444.17 L318.52,444.99 L319.93,445.78 L321.35,446.55 L322.76,447.30 L324.18,448.01 L325.59,448.71 L327.01,449.37 L328.42,450.02 L329.84,450.64 L331.25,451.23 L332.67,451.81 L334.08,452.36 L335.50,452.88 L336.91,453.39 L338.33,453.88 L339.75,454.34 L341.16,454.79 L342.57,455.21 L343.99,455.62 L345.40,456.01 L346.82,456.38 L348.24,456.74 L349.65,457.08 L351.06,457.40 L352.48,457.71 L353.89,458.00 L355.31,458.28 L356.72,458.55 L358.14,458.80 L359.55,459.05 L360.97,459.27 L362.38,459.49 L363.80,459.70 L365.21,459.90 L366.63,460.08 L368.04,460.26 L369.46,460.43 L370.88,460.59 L372.29,460.74 L373.70,460.89 L375.12,461.02 L376.53,461.15 L377.95,461.27 L379.37,461.39 L380.78,461.50 L382.19,461.60 L383.61,461.70 L385.02,461.80 L386.44,461.89 L387.85,461.97 L389.27,462.05 L390.69,462.12 L392.10,462.19 L393.51,462.26 L394.93,462.33 L396.34,462.39 L397.76,462.44 L399.17,462.50 L400.59,462.55 L402.00,462.59 L403.42,462.64 L404.83,462.68 L406.25,462.72 L407.66,462.76 L409.08,462.80 L410.50,462.83 L411.91,462.86 L413.32,462.90 L414.74,462.92 L416.15,462.95 L417.57,462.98 L418.99,463.00 L420.40,463.02 L421.81,463.05 L423.23,463.07 L424.64,463.09 L426.06,463.11 L427.48,463.12 L428.89,463.14 L430.30,463.15 L431.72,463.17 L433.13,463.18 L434.55,463.20 L435.96,463.21 L437.38,463.22 L438.79,463.23 L440.21,463.24 L441.62,463.25 L443.04,463.26 L444.45,463.27 L445.87,463.28 L447.28,463.28 L448.70,463.29" fill="none" stroke="#111111" stroke-width="2.0" stroke-linejoin="round" stroke-linecap="round"/>
<path d="M278.90,416.14 L280.31,417.86 L281.73,419.57 L283.14,421.28 L284.56,422.98 L285.97,424.67 L287.39,426.35 L288.80,428.02 L290.22,429.68 L291.63,431.34 L293.05,432.98 L294.46,434.61 L295.88,436.23 L297.29,437.83 L298.71,439.42 L300.12,441.00 L301.54,442.57 L302.95,444.12 L304.37,445.66 L305.78,447.18 L307.20,448.68 L308.62,450.17 L310.03,451.64 L311.44,453.09 L312.86,454.53 L314.27,455.94 L315.69,457.34 L317.10,458.71 L318.52,460.07 L319.93,461.40 L321.35,462.71 L322.76,464.00 L324.18,465.26 L325.59,466.51 L327.01,467.72 L328.42,468.92 L329.84,470.09 L331.25,471.23 L332.67,472.35 L334.08,473.44 L335.50,474.51 L336.91,475.55 L338.33,476.56 L339.75,477.55 L341.16,478.51 L342.57,479.44 L343.99,480.35 L345.40,481.23 L346.82,482.08 L348.24,482.91 L349.65,483.71 L351.06,484.49 L352.48,485.24 L353.89,485.96 L355.31,486.66 L356.72,487.33 L358.14,487.98 L359.55,488.60 L360.97,489.20 L362.38,489.78 L363.80,490.34 L365.21,490.87 L366.63,491.38 L368.04,491.87 L369.46,492.34 L370.88,492.79 L372.29,493.22 L373.70,493.64 L375.12,494.03 L376.53,494.41 L377.95,494.76 L379.37,495.11 L380.78,495.43 L382.19,495.75 L383.61,496.04 L385.02,496.33 L386.44,496.60 L387.85,496.85 L389.27,497.10 L390.69,497.33 L392.10,497.55 L393.51,497.76 L394.93,497.96 L396.34,498.15 L397.76,498.33 L399.17,498.50 L400.59,498.66 L402.00,498.81 L403.42,498.96 L404.83,499.10 L406.25,499.23 L407.66,499.35 L409.08,499.47 L410.50,499.58 L411.91,499.69 L413.32,499.79 L414.74,499.88 L416.15,499.97 L417.57,500.06 L418.99,500.14 L420.40,500.21 L421.81,500.28 L423.23,500.35 L424.64,500.42 L426.06,500.48 L427.48,500.53 L428.89,500.59 L430.30,500.64 L431.72,500.69 L433.13,500.74 L434.55,500.78 L435.96,500.82 L437.38,500.86 L438.79,500.90 L440.21,500.93 L441.62,500.96 L443.04,500.99 L444.45,501.02 L445.87,501.05 L447.28,501.08 L448.70,501.10" fill="none" stroke="#4565b2" stroke-width="2.0" stroke-linejoin="round" stroke-linecap="round"/>
<path d="M278.90,417.27 L280.31,419.04 L281.73,420.80 L283.14,422.56 L284.56,424.31 L285.97,426.06 L287.39,427.80 L288.80,429.53 L290.22,431.26 L291.63,432.98 L293.05,434.70 L294.46,436.40 L295.88,438.10 L297.29,439.79 L298.71,441.47 L300.12,443.14 L301.54,444.80 L302.95,446.45 L304.37,448.09 L305.78,449.72 L307.20,451.33 L308.62,452.94 L310.03,454.53 L311.44,456.10 L312.86,457.67 L314.27,459.22 L315.69,460.75 L317.10,462.27 L318.52,463.77 L319.93,465.25 L321.35,466.72 L322.76,468.17 L324.18,469.60 L325.59,471.01 L327.01,472.40 L328.42,473.78 L329.84,475.13 L331.25,476.46 L332.67,477.76 L334.08,479.05 L335.50,480.31 L336.91,481.55 L338.33,482.76 L339.75,483.95 L341.16,485.11 L342.57,486.25 L343.99,487.37 L345.40,488.45 L346.82,489.52 L348.24,490.55 L349.65,491.56 L351.06,492.54 L352.48,493.50 L353.89,494.43 L355.31,495.33 L356.72,496.21 L358.14,497.06 L359.55,497.88 L360.97,498.68 L362.38,499.45 L363.80,500.19 L365.21,500.91 L366.63,501.60 L368.04,502.27 L369.46,502.92 L370.88,503.54 L372.29,504.13 L373.70,504.71 L375.12,505.26 L376.53,505.79 L377.95,506.30 L379.37,506.78 L380.78,507.25 L382.19,507.70 L383.61,508.12 L385.02,508.53 L386.44,508.92 L387.85,509.30 L389.27,509.65 L390.69,509.99 L392.10,510.32 L393.51,510.63 L394.93,510.92 L396.34,511.20 L397.76,511.47 L399.17,511.72 L400.59,511.97 L402.00,512.20 L403.42,512.42 L404.83,512.62 L406.25,512.82 L407.66,513.01 L409.08,513.19 L410.50,513.36 L411.91,513.52 L413.32,513.67 L414.74,513.81 L416.15,513.95 L417.57,514.08 L418.99,514.20 L420.40,514.32 L421.81,514.43 L423.23,514.53 L424.64,514.63 L426.06,514.73 L427.48,514.81 L428.89,514.90 L430.30,514.98 L431.72,515.05 L433.13,515.12 L434.55,515.19 L435.96,515.26 L437.38,515.32 L438.79,515.37 L440.21,515.43 L441.62,515.48 L443.04,515.53 L444.45,515.57 L445.87,515.61 L447.28,515.66 L448.70,515.69" fill="none" stroke="#e84c14" stroke-width="2.0" stroke-linejoin="round" stroke-linecap="round"/>
<text x="363.20" y="568.74" font-size="9.6" text-anchor="middle" fill="#161616" color="#161616" font-weight="normal" transform="translate(363.20 565.30) scale(1 1.035) translate(-363.20 -565.30)">Discharge Time (h)</text>
<text x="242.00" y="473.44" font-size="9.6" text-anchor="middle" fill="#161616" color="#161616" font-weight="normal" transform="translate(242.00 470.00) scale(1 1.035) translate(-242.00 -470.00) rotate(-90 242.00 470.00)">Material Cost (USD/kWh)</text>
<text x="401.20" y="386.84" font-size="9.6" text-anchor="start" fill="#161616" color="#161616" font-weight="normal" transform="translate(401.20 383.40) scale(1 1.035) translate(-401.20 -383.40)">2mA/cm<tspan font-size="7.6" dy="-4.2" font-weight="bold">2</tspan></text>
<text x="443.20" y="455.74" font-size="9.6" text-anchor="end" fill="#161616" color="#161616" font-weight="normal" transform="translate(443.20 452.30) scale(1 1.035) translate(-443.20 -452.30)">1M [S]</text>
<text x="443.50" y="490.34" font-size="9.6" text-anchor="end" fill="#4a6ab5" color="#4a6ab5" font-weight="normal" transform="translate(443.50 486.90) scale(1 1.035) translate(-443.50 -486.90)">4M [S]</text>
<text x="443.50" y="527.54" font-size="9.6" text-anchor="end" fill="#e8501e" color="#e8501e" font-weight="normal" transform="translate(443.50 524.10) scale(1 1.035) translate(-443.50 -524.10)">8M [S]</text>
<text x="352.60" y="534.64" font-size="9.6" text-anchor="end" fill="#82b644" color="#82b644" font-weight="normal" transform="translate(352.60 531.20) scale(1 1.035) translate(-352.60 -531.20)">1 day</text>
<text x="369.10" y="534.44" font-size="9.6" text-anchor="start" fill="#82b644" color="#82b644" font-weight="normal" transform="translate(369.10 531.00) scale(1 1.035) translate(-369.10 -531.00)">1 week</text>
<text x="471.80" y="379.80" font-size="9.5" text-anchor="start" fill="#111" color="#111" font-weight="bold" transform="translate(471.80 376.40) scale(1 1.035) translate(-471.80 -376.40)">h</text>
<defs>
<clipPath id="clipL"><rect x="485.7" y="392.2" width="90.1" height="132.3"/></clipPath>
<clipPath id="clipR"><rect x="593.9" y="392.3" width="89.6" height="132.2"/></clipPath>
<filter id="bl0" x="-10%" y="-10%" width="120%" height="120%"><feGaussianBlur stdDeviation="0.4"/></filter>
<filter id="bl1" x="-10%" y="-10%" width="120%" height="120%"><feGaussianBlur stdDeviation="0.8"/></filter>
<filter id="bl3" x="-30%" y="-30%" width="160%" height="160%"><feGaussianBlur stdDeviation="1.6"/></filter>
<linearGradient id="flameL" x1="0" y1="0" x2="1" y2="0">
<stop offset="0" stop-color="#f0a860"/><stop offset="0.25" stop-color="#fadcb4"/><stop offset="0.6" stop-color="#fff4e4"/><stop offset="0.85" stop-color="#f8d0a0"/><stop offset="1" stop-color="#e09858"/></linearGradient>
<linearGradient id="bagL" x1="0" y1="0" x2="0" y2="1">
<stop offset="0" stop-color="#dcd5cd"/><stop offset="0.45" stop-color="#cdd0d2"/><stop offset="0.8" stop-color="#dcd6d2"/><stop offset="1" stop-color="#ead8cc"/></linearGradient>
<linearGradient id="foilL" x1="0" y1="0" x2="1" y2="0">
<stop offset="0" stop-color="#9c958c"/><stop offset="0.4" stop-color="#b5ada2"/><stop offset="1" stop-color="#aea599"/></linearGradient>
<linearGradient id="foilR" x1="0" y1="0" x2="1" y2="1">
<stop offset="0" stop-color="#aea79f"/><stop offset="0.5" stop-color="#aaa39d"/><stop offset="1" stop-color="#bbb3ab"/></linearGradient>
<radialGradient id="flameR" cx="0.5" cy="0.5" r="0.5">
<stop offset="0" stop-color="#f0a050"/><stop offset="0.5" stop-color="#d88040" stop-opacity="0.85"/><stop offset="1" stop-color="#6a4a34" stop-opacity="0"/></radialGradient>
</defs>
<g clip-path="url(#clipL)"><g filter="url(#bl1)"><rect x="484" y="390" width="94" height="136" fill="#1f1d1b"/><polygon points="484,464 500,463.5 525,460.4 545,456 560,450 566,446 578,440 578,526 484,526" fill="url(#foilL)"/><rect x="526.6" y="494.4" width="8.5" height="1.0" fill="#938a7f" opacity="0.75" transform="rotate(-29 526.6 494.4)"/><rect x="502.5" y="510.3" width="5.6" height="1.2" fill="#857c72" opacity="0.75" transform="rotate(-55 502.5 510.3)"/><rect x="512.9" y="463.9" width="7.8" height="1.2" fill="#857c72" opacity="0.75" transform="rotate(-67 512.9 463.9)"/><rect x="573.8" y="500.5" width="6.5" height="0.7" fill="#938a7f" opacity="0.75" transform="rotate(-69 573.8 500.5)"/><rect x="565.9" y="497.0" width="7.6" height="0.9" fill="#d8d0c6" opacity="0.75" transform="rotate(-23 565.9 497.0)"/><rect x="532.8" y="499.6" width="5.7" height="1.2" fill="#f0ebe4" opacity="0.75" transform="rotate(-33 532.8 499.6)"/><rect x="522.4" y="493.8" width="8.6" height="0.7" fill="#f6f2ec" opacity="0.75" transform="rotate(-50 522.4 493.8)"/><rect x="506.1" y="476.8" width="3.0" height="1.3" fill="#f6f2ec" opacity="0.75" transform="rotate(-38 506.1 476.8)"/><rect x="511.8" y="462.3" width="2.6" height="1.2" fill="#e6e0d8" opacity="0.75" transform="rotate(-53 511.8 462.3)"/><rect x="528.2" y="521.7" width="5.1" height="0.7" fill="#f6f2ec" opacity="0.75" transform="rotate(-20 528.2 521.7)"/><rect x="547.1" y="479.9" width="4.5" height="0.6" fill="#e6e0d8" opacity="0.75" transform="rotate(-37 547.1 479.9)"/><rect x="497.4" y="504.0" width="2.6" height="1.0" fill="#cfc6ba" opacity="0.75" transform="rotate(-31 497.4 504.0)"/><rect x="536.5" y="487.1" width="3.7" height="1.3" fill="#cfc6ba" opacity="0.75" transform="rotate(-60 536.5 487.1)"/><rect x="520.3" y="483.7" width="8.9" height="0.6" fill="#f6f2ec" opacity="0.75" transform="rotate(-1 520.3 483.7)"/><rect x="539.5" y="522.9" width="2.6" height="0.8" fill="#938a7f" opacity="0.75" transform="rotate(10 539.5 522.9)"/><rect x="544.0" y="464.5" width="8.9" height="0.8" fill="#f6f2ec" opacity="0.75" transform="rotate(-49 544.0 464.5)"/><rect x="541.2" y="512.0" width="5.0" height="0.7" fill="#cfc6ba" opacity="0.75" transform="rotate(-53 541.2 512.0)"/><rect x="507.4" y="497.1" width="4.9" height="1.0" fill="#857c72" opacity="0.75" transform="rotate(7 507.4 497.1)"/><rect x="561.6" y="466.8" width="5.0" height="1.2" fill="#d8d0c6" opacity="0.75" transform="rotate(-45 561.6 466.8)"/><rect x="560.2" y="474.2" width="3.7" height="1.3" fill="#d8d0c6" opacity="0.75" transform="rotate(5 560.2 474.2)"/><rect x="548.2" y="483.2" width="5.6" height="0.7" fill="#e6e0d8" opacity="0.75" transform="rotate(-66 548.2 483.2)"/><rect x="488.6" y="520.6" width="4.0" height="1.2" fill="#f6f2ec" opacity="0.75" transform="rotate(-49 488.6 520.6)"/><rect x="568.2" y="489.9" width="5.9" height="1.4" fill="#d8d0c6" opacity="0.75" transform="rotate(8 568.2 489.9)"/><rect x="506.0" y="494.4" width="8.0" height="1.2" fill="#d8d0c6" opacity="0.75" transform="rotate(-48 506.0 494.4)"/><rect x="553.9" y="462.5" width="5.2" height="0.8" fill="#f0ebe4" opacity="0.75" transform="rotate(-66 553.9 462.5)"/><rect x="518.9" y="495.2" width="3.4" height="0.9" fill="#f0ebe4" opacity="0.75" transform="rotate(1 518.9 495.2)"/><rect x="545.4" y="502.9" width="6.3" height="0.7" fill="#e6e0d8" opacity="0.75" transform="rotate(-67 545.4 502.9)"/><rect x="528.7" y="481.2" width="4.5" height="0.6" fill="#e6e0d8" opacity="0.75" transform="rotate(-22 528.7 481.2)"/><rect x="529.4" y="505.5" width="4.6" height="1.5" fill="#938a7f" opacity="0.75" transform="rotate(-64 529.4 505.5)"/><rect x="518.8" y="460.9" width="8.6" height="1.3" fill="#f0ebe4" opacity="0.75" transform="rotate(-60 518.8 460.9)"/><rect x="517.4" y="502.5" width="8.4" height="1.4" fill="#f6f2ec" opacity="0.75" transform="rotate(-37 517.4 502.5)"/><rect x="487.8" y="490.5" width="2.6" height="1.2" fill="#e6e0d8" opacity="0.75" transform="rotate(-40 487.8 490.5)"/><rect x="541.0" y="463.2" width="6.7" height="1.5" fill="#cfc6ba" opacity="0.75" transform="rotate(0 541.0 463.2)"/><rect x="515.4" y="518.7" width="7.0" height="1.0" fill="#938a7f" opacity="0.75" transform="rotate(-33 515.4 518.7)"/><rect x="492.7" y="506.8" width="2.7" height="1.1" fill="#d8d0c6" opacity="0.75" transform="rotate(-32 492.7 506.8)"/><rect x="573.1" y="465.3" width="7.6" height="1.2" fill="#e6e0d8" opacity="0.75" transform="rotate(-31 573.1 465.3)"/><rect x="518.9" y="467.3" width="6.5" height="1.1" fill="#f0ebe4" opacity="0.75" transform="rotate(-10 518.9 467.3)"/><rect x="545.7" y="486.7" width="8.3" height="0.9" fill="#d8d0c6" opacity="0.75" transform="rotate(-17 545.7 486.7)"/><rect x="543.3" y="510.2" width="7.4" height="0.8" fill="#d8d0c6" opacity="0.75" transform="rotate(-53 543.3 510.2)"/><rect x="538.6" y="478.6" width="3.4" height="1.0" fill="#f6f2ec" opacity="0.75" transform="rotate(-3 538.6 478.6)"/><rect x="575.2" y="511.4" width="3.2" height="1.0" fill="#f6f2ec" opacity="0.75" transform="rotate(4 575.2 511.4)"/><rect x="523.1" y="498.7" width="5.7" height="0.9" fill="#938a7f" opacity="0.75" transform="rotate(-3 523.1 498.7)"/><rect x="526.6" y="462.9" width="2.7" height="1.4" fill="#cfc6ba" opacity="0.75" transform="rotate(-67 526.6 462.9)"/><rect x="510.9" y="481.0" width="6.7" height="1.1" fill="#857c72" opacity="0.75" transform="rotate(-19 510.9 481.0)"/><rect x="526.8" y="459.6" width="7.9" height="0.8" fill="#e6e0d8" opacity="0.75" transform="rotate(-59 526.8 459.6)"/><rect x="575.5" y="465.5" width="3.2" height="1.1" fill="#f0ebe4" opacity="0.75" transform="rotate(-19 575.5 465.5)"/><rect x="573.2" y="502.5" width="3.8" height="1.0" fill="#e6e0d8" opacity="0.75" transform="rotate(-56 573.2 502.5)"/><rect x="554.5" y="492.8" width="2.7" height="0.8" fill="#938a7f" opacity="0.75" transform="rotate(-8 554.5 492.8)"/><rect x="549.2" y="491.8" width="6.5" height="1.3" fill="#f6f2ec" opacity="0.75" transform="rotate(-39 549.2 491.8)"/><rect x="549.4" y="472.6" width="5.2" height="1.4" fill="#857c72" opacity="0.75" transform="rotate(-39 549.4 472.6)"/><rect x="526.7" y="498.7" width="8.4" height="0.9" fill="#938a7f" opacity="0.75" transform="rotate(-24 526.7 498.7)"/><rect x="558.3" y="519.4" width="5.5" height="1.2" fill="#cfc6ba" opacity="0.75" transform="rotate(-54 558.3 519.4)"/><rect x="564.7" y="509.9" width="8.5" height="0.7" fill="#857c72" opacity="0.75" transform="rotate(-51 564.7 509.9)"/><rect x="575.2" y="521.5" width="6.0" height="1.3" fill="#cfc6ba" opacity="0.75" transform="rotate(-44 575.2 521.5)"/><rect x="563.7" y="480.7" width="3.0" height="1.0" fill="#f6f2ec" opacity="0.75" transform="rotate(-26 563.7 480.7)"/><rect x="510.3" y="517.8" width="3.9" height="1.4" fill="#e6e0d8" opacity="0.75" transform="rotate(-36 510.3 517.8)"/><rect x="500.9" y="479.8" width="7.6" height="0.7" fill="#938a7f" opacity="0.75" transform="rotate(-58 500.9 479.8)"/><rect x="567.9" y="491.7" width="6.9" height="1.0" fill="#938a7f" opacity="0.75" transform="rotate(0 567.9 491.7)"/><rect x="572.3" y="463.6" width="3.9" height="1.1" fill="#cfc6ba" opacity="0.75" transform="rotate(-47 572.3 463.6)"/><rect x="536.7" y="468.7" width="5.8" height="1.4" fill="#cfc6ba" opacity="0.75" transform="rotate(-49 536.7 468.7)"/><rect x="520.1" y="512.9" width="8.4" height="0.8" fill="#938a7f" opacity="0.75" transform="rotate(-2 520.1 512.9)"/><rect x="533.2" y="495.2" width="3.8" height="1.1" fill="#938a7f" opacity="0.75" transform="rotate(-30 533.2 495.2)"/><rect x="519.7" y="493.0" width="2.8" height="1.4" fill="#938a7f" opacity="0.75" transform="rotate(-26 519.7 493.0)"/><rect x="496.2" y="464.1" width="3.6" height="1.4" fill="#f6f2ec" opacity="0.75" transform="rotate(-33 496.2 464.1)"/><rect x="570.0" y="475.5" width="5.6" height="0.7" fill="#f6f2ec" opacity="0.75" transform="rotate(-35 570.0 475.5)"/><rect x="571.1" y="517.8" width="5.9" height="0.7" fill="#e6e0d8" opacity="0.75" transform="rotate(-36 571.1 517.8)"/><rect x="570.1" y="466.4" width="7.6" height="0.6" fill="#d8d0c6" opacity="0.75" transform="rotate(-54 570.1 466.4)"/><rect x="486.1" y="476.5" width="7.2" height="0.8" fill="#857c72" opacity="0.75" transform="rotate(-30 486.1 476.5)"/><rect x="552.2" y="466.0" width="5.8" height="0.8" fill="#938a7f" opacity="0.75" transform="rotate(-54 552.2 466.0)"/><rect x="565.8" y="459.5" width="6.6" height="1.3" fill="#938a7f" opacity="0.75" transform="rotate(-21 565.8 459.5)"/><rect x="503.8" y="499.0" width="6.7" height="1.1" fill="#938a7f" opacity="0.75" transform="rotate(-2 503.8 499.0)"/><rect x="539.0" y="466.9" width="8.4" height="1.2" fill="#d8d0c6" opacity="0.75" transform="rotate(-42 539.0 466.9)"/><rect x="514.1" y="478.5" width="8.5" height="0.8" fill="#e6e0d8" opacity="0.75" transform="rotate(10 514.1 478.5)"/><rect x="497.3" y="473.6" width="7.2" height="0.8" fill="#f6f2ec" opacity="0.75" transform="rotate(-62 497.3 473.6)"/><rect x="571.6" y="493.3" width="7.1" height="0.8" fill="#f6f2ec" opacity="0.75" transform="rotate(-20 571.6 493.3)"/><rect x="486.6" y="471.1" width="6.9" height="1.4" fill="#e6e0d8" opacity="0.75" transform="rotate(7 486.6 471.1)"/><rect x="549.8" y="499.3" width="4.7" height="1.5" fill="#f6f2ec" opacity="0.75" transform="rotate(-3 549.8 499.3)"/><rect x="491.5" y="464.9" width="2.7" height="1.1" fill="#938a7f" opacity="0.75" transform="rotate(-29 491.5 464.9)"/><rect x="529.3" y="470.3" width="3.2" height="0.8" fill="#f0ebe4" opacity="0.75" transform="rotate(-57 529.3 470.3)"/><rect x="570.3" y="464.2" width="2.9" height="1.5" fill="#f6f2ec" opacity="0.75" transform="rotate(-33 570.3 464.2)"/><rect x="493.9" y="483.4" width="5.3" height="0.9" fill="#f0ebe4" opacity="0.75" transform="rotate(-53 493.9 483.4)"/><rect x="486.2" y="503.6" width="8.0" height="0.8" fill="#cfc6ba" opacity="0.75" transform="rotate(-34 486.2 503.6)"/><rect x="519.1" y="517.9" width="6.4" height="0.7" fill="#f0ebe4" opacity="0.75" transform="rotate(-7 519.1 517.9)"/><rect x="567.2" y="510.1" width="7.1" height="1.4" fill="#857c72" opacity="0.75" transform="rotate(-20 567.2 510.1)"/><rect x="537.4" y="470.4" width="6.3" height="0.9" fill="#f0ebe4" opacity="0.75" transform="rotate(-9 537.4 470.4)"/><rect x="568.8" y="506.4" width="7.6" height="1.3" fill="#f0ebe4" opacity="0.75" transform="rotate(-38 568.8 506.4)"/><rect x="565.9" y="503.2" width="7.5" height="1.3" fill="#cfc6ba" opacity="0.75" transform="rotate(-38 565.9 503.2)"/><rect x="502.0" y="509.8" width="4.5" height="0.7" fill="#cfc6ba" opacity="0.75" transform="rotate(1 502.0 509.8)"/><rect x="568.0" y="461.2" width="4.3" height="1.5" fill="#d8d0c6" opacity="0.75" transform="rotate(-46 568.0 461.2)"/><rect x="545.7" y="495.0" width="6.0" height="1.0" fill="#cfc6ba" opacity="0.75" transform="rotate(10 545.7 495.0)"/><rect x="504.6" y="465.8" width="5.1" height="1.1" fill="#e6e0d8" opacity="0.75" transform="rotate(-61 504.6 465.8)"/><rect x="553.0" y="474.7" width="5.1" height="0.6" fill="#857c72" opacity="0.75" transform="rotate(-54 553.0 474.7)"/><rect x="486.0" y="474.8" width="4.3" height="0.9" fill="#857c72" opacity="0.75" transform="rotate(-27 486.0 474.8)"/><rect x="574.0" y="494.9" width="9.0" height="1.2" fill="#e6e0d8" opacity="0.75" transform="rotate(-5 574.0 494.9)"/><rect x="535.5" y="501.4" width="8.7" height="0.9" fill="#857c72" opacity="0.75" transform="rotate(5 535.5 501.4)"/><rect x="528.4" y="469.0" width="5.7" height="1.2" fill="#857c72" opacity="0.75" transform="rotate(-65 528.4 469.0)"/><rect x="523.7" y="492.2" width="6.4" height="0.9" fill="#cfc6ba" opacity="0.75" transform="rotate(-47 523.7 492.2)"/><rect x="509.8" y="518.4" width="6.8" height="1.3" fill="#f6f2ec" opacity="0.75" transform="rotate(-68 509.8 518.4)"/><rect x="499.4" y="507.1" width="5.0" height="1.4" fill="#e6e0d8" opacity="0.75" transform="rotate(-10 499.4 507.1)"/><rect x="538.5" y="505.0" width="4.6" height="1.3" fill="#cfc6ba" opacity="0.75" transform="rotate(-52 538.5 505.0)"/><rect x="528.9" y="521.3" width="4.1" height="1.1" fill="#cfc6ba" opacity="0.75" transform="rotate(5 528.9 521.3)"/><rect x="568.7" y="467.4" width="8.7" height="0.8" fill="#e6e0d8" opacity="0.75" transform="rotate(-13 568.7 467.4)"/><rect x="542.4" y="487.6" width="3.8" height="0.6" fill="#e6e0d8" opacity="0.75" transform="rotate(-28 542.4 487.6)"/><rect x="518.4" y="467.1" width="5.2" height="1.1" fill="#cfc6ba" opacity="0.75" transform="rotate(-19 518.4 467.1)"/><rect x="523.6" y="508.6" width="5.9" height="1.5" fill="#cfc6ba" opacity="0.75" transform="rotate(6 523.6 508.6)"/><rect x="496.9" y="489.3" width="5.8" height="0.9" fill="#f6f2ec" opacity="0.75" transform="rotate(-29 496.9 489.3)"/><rect x="518.0" y="475.6" width="7.0" height="1.1" fill="#cfc6ba" opacity="0.75" transform="rotate(-23 518.0 475.6)"/><rect x="510.6" y="473.6" width="8.7" height="1.1" fill="#d8d0c6" opacity="0.75" transform="rotate(-18 510.6 473.6)"/><rect x="565.8" y="460.6" width="2.9" height="0.8" fill="#938a7f" opacity="0.75" transform="rotate(-36 565.8 460.6)"/><rect x="488.5" y="472.5" width="4.3" height="1.3" fill="#d8d0c6" opacity="0.75" transform="rotate(3 488.5 472.5)"/><rect x="535.7" y="499.0" width="4.9" height="1.0" fill="#f0ebe4" opacity="0.75" transform="rotate(-53 535.7 499.0)"/><rect x="530.5" y="466.7" width="8.2" height="1.3" fill="#f6f2ec" opacity="0.75" transform="rotate(-34 530.5 466.7)"/><rect x="542.4" y="508.0" width="3.9" height="1.0" fill="#f6f2ec" opacity="0.75" transform="rotate(-49 542.4 508.0)"/><rect x="498.9" y="468.0" width="7.9" height="1.1" fill="#f6f2ec" opacity="0.75" transform="rotate(-47 498.9 468.0)"/><rect x="553.6" y="517.9" width="5.3" height="0.9" fill="#f0ebe4" opacity="0.75" transform="rotate(-62 553.6 517.9)"/><rect x="492.2" y="463.4" width="6.2" height="1.0" fill="#f0ebe4" opacity="0.75" transform="rotate(-15 492.2 463.4)"/><rect x="560.8" y="458.6" width="4.5" height="1.4" fill="#cfc6ba" opacity="0.75" transform="rotate(-22 560.8 458.6)"/><rect x="513.0" y="505.1" width="7.0" height="0.9" fill="#f0ebe4" opacity="0.75" transform="rotate(-59 513.0 505.1)"/><rect x="545.5" y="479.3" width="8.4" height="0.9" fill="#938a7f" opacity="0.75" transform="rotate(-35 545.5 479.3)"/><rect x="569.5" y="519.1" width="8.4" height="1.0" fill="#f0ebe4" opacity="0.75" transform="rotate(-6 569.5 519.1)"/><rect x="527.2" y="472.4" width="8.8" height="1.3" fill="#e6e0d8" opacity="0.75" transform="rotate(-29 527.2 472.4)"/><rect x="518.3" y="481.8" width="4.9" height="1.0" fill="#d8d0c6" opacity="0.75" transform="rotate(-39 518.3 481.8)"/><rect x="553.0" y="481.9" width="5.0" height="0.7" fill="#d8d0c6" opacity="0.75" transform="rotate(-23 553.0 481.9)"/><rect x="501.2" y="507.3" width="8.2" height="0.9" fill="#938a7f" opacity="0.75" transform="rotate(-68 501.2 507.3)"/><rect x="490.3" y="468.3" width="4.4" height="0.6" fill="#857c72" opacity="0.75" transform="rotate(-3 490.3 468.3)"/><rect x="490.9" y="493.5" width="7.6" height="0.7" fill="#cfc6ba" opacity="0.75" transform="rotate(-63 490.9 493.5)"/><rect x="494.7" y="478.4" width="2.7" height="1.2" fill="#f6f2ec" opacity="0.75" transform="rotate(-62 494.7 478.4)"/><rect x="544.7" y="474.0" width="3.9" height="1.3" fill="#f6f2ec" opacity="0.75" transform="rotate(-28 544.7 474.0)"/><rect x="527.2" y="480.8" width="7.7" height="0.9" fill="#857c72" opacity="0.75" transform="rotate(-59 527.2 480.8)"/><rect x="534.4" y="504.9" width="7.1" height="1.4" fill="#f6f2ec" opacity="0.75" transform="rotate(-37 534.4 504.9)"/><rect x="575.7" y="480.7" width="2.5" height="0.9" fill="#857c72" opacity="0.75" transform="rotate(-63 575.7 480.7)"/><rect x="573.1" y="499.6" width="5.9" height="1.2" fill="#857c72" opacity="0.75" transform="rotate(-6 573.1 499.6)"/><rect x="570.0" y="517.5" width="4.1" height="0.7" fill="#cfc6ba" opacity="0.75" transform="rotate(-19 570.0 517.5)"/><rect x="500.4" y="471.3" width="5.3" height="0.9" fill="#e6e0d8" opacity="0.75" transform="rotate(8 500.4 471.3)"/><rect x="528.4" y="505.5" width="4.5" height="0.7" fill="#e6e0d8" opacity="0.75" transform="rotate(4 528.4 505.5)"/><rect x="554.3" y="459.1" width="5.6" height="1.3" fill="#d8d0c6" opacity="0.75" transform="rotate(-45 554.3 459.1)"/><rect x="502.0" y="472.1" width="4.0" height="1.2" fill="#d8d0c6" opacity="0.75" transform="rotate(-22 502.0 472.1)"/><rect x="525.7" y="516.1" width="5.1" height="1.4" fill="#cfc6ba" opacity="0.75" transform="rotate(5 525.7 516.1)"/><rect x="535.4" y="511.1" width="5.6" height="0.8" fill="#f0ebe4" opacity="0.75" transform="rotate(1 535.4 511.1)"/><rect x="545.7" y="508.2" width="3.1" height="1.4" fill="#d8d0c6" opacity="0.75" transform="rotate(-38 545.7 508.2)"/><rect x="572.2" y="510.1" width="5.0" height="1.1" fill="#f0ebe4" opacity="0.75" transform="rotate(-29 572.2 510.1)"/><rect x="557.5" y="461.8" width="8.5" height="1.4" fill="#f0ebe4" opacity="0.75" transform="rotate(-0 557.5 461.8)"/><rect x="526.4" y="474.0" width="5.2" height="1.4" fill="#f6f2ec" opacity="0.75" transform="rotate(-37 526.4 474.0)"/><rect x="514.6" y="474.9" width="8.2" height="1.1" fill="#938a7f" opacity="0.75" transform="rotate(-19 514.6 474.9)"/><rect x="509.5" y="492.7" width="3.5" height="1.3" fill="#f6f2ec" opacity="0.75" transform="rotate(-70 509.5 492.7)"/><rect x="569.3" y="467.7" width="3.3" height="0.9" fill="#938a7f" opacity="0.75" transform="rotate(-21 569.3 467.7)"/><rect x="493.9" y="489.2" width="5.5" height="1.5" fill="#f6f2ec" opacity="0.75" transform="rotate(-23 493.9 489.2)"/><rect x="531.5" y="459.2" width="3.7" height="0.8" fill="#f6f2ec" opacity="0.75" transform="rotate(-15 531.5 459.2)"/><rect x="561.0" y="471.5" width="6.0" height="1.1" fill="#f6f2ec" opacity="0.75" transform="rotate(-57 561.0 471.5)"/><rect x="573.7" y="478.5" width="5.1" height="1.1" fill="#cfc6ba" opacity="0.75" transform="rotate(10 573.7 478.5)"/><rect x="550.8" y="481.4" width="7.0" height="0.7" fill="#857c72" opacity="0.75" transform="rotate(-38 550.8 481.4)"/><rect x="553.7" y="509.0" width="3.3" height="1.0" fill="#cfc6ba" opacity="0.75" transform="rotate(-1 553.7 509.0)"/><rect x="550.3" y="473.4" width="6.2" height="1.0" fill="#f6f2ec" opacity="0.75" transform="rotate(-69 550.3 473.4)"/><rect x="558.5" y="471.4" width="6.5" height="0.9" fill="#938a7f" opacity="0.75" transform="rotate(-40 558.5 471.4)"/><rect x="554.0" y="520.0" width="7.4" height="1.1" fill="#d8d0c6" opacity="0.75" transform="rotate(-63 554.0 520.0)"/><rect x="503.4" y="505.5" width="4.6" height="1.5" fill="#cfc6ba" opacity="0.75" transform="rotate(-25 503.4 505.5)"/><rect x="543.9" y="487.0" width="5.0" height="0.7" fill="#d8d0c6" opacity="0.75" transform="rotate(-20 543.9 487.0)"/><rect x="547.3" y="504.0" width="3.7" height="1.0" fill="#938a7f" opacity="0.75" transform="rotate(-3 547.3 504.0)"/><rect x="549.8" y="464.5" width="2.7" height="1.5" fill="#f6f2ec" opacity="0.75" transform="rotate(-35 549.8 464.5)"/><rect x="491.7" y="517.8" width="5.3" height="1.1" fill="#f6f2ec" opacity="0.75" transform="rotate(-18 491.7 517.8)"/><rect x="498.6" y="502.9" width="5.6" height="1.4" fill="#cfc6ba" opacity="0.75" transform="rotate(-20 498.6 502.9)"/><rect x="521.9" y="503.5" width="8.9" height="1.3" fill="#938a7f" opacity="0.75" transform="rotate(-17 521.9 503.5)"/><rect x="533.8" y="474.9" width="3.7" height="0.9" fill="#938a7f" opacity="0.75" transform="rotate(-35 533.8 474.9)"/><rect x="519.7" y="491.1" width="7.6" height="1.3" fill="#d8d0c6" opacity="0.75" transform="rotate(-21 519.7 491.1)"/><rect x="508.4" y="493.0" width="4.4" height="0.8" fill="#938a7f" opacity="0.75" transform="rotate(-21 508.4 493.0)"/><rect x="498.0" y="504.4" width="8.9" height="1.1" fill="#f6f2ec" opacity="0.75" transform="rotate(-13 498.0 504.4)"/><rect x="571.1" y="494.9" width="2.7" height="1.2" fill="#d8d0c6" opacity="0.75" transform="rotate(-8 571.1 494.9)"/><rect x="507.5" y="495.5" width="7.0" height="0.9" fill="#f0ebe4" opacity="0.75" transform="rotate(4 507.5 495.5)"/><rect x="509.5" y="515.4" width="5.4" height="1.3" fill="#938a7f" opacity="0.75" transform="rotate(-51 509.5 515.4)"/><rect x="535.0" y="494.4" width="6.1" height="0.8" fill="#f6f2ec" opacity="0.75" transform="rotate(3 535.0 494.4)"/><rect x="515.8" y="467.5" width="8.6" height="0.6" fill="#f0ebe4" opacity="0.75" transform="rotate(-15 515.8 467.5)"/><rect x="507.2" y="495.3" width="7.9" height="0.8" fill="#e6e0d8" opacity="0.75" transform="rotate(-26 507.2 495.3)"/><rect x="526.8" y="484.2" width="7.6" height="1.4" fill="#d8d0c6" opacity="0.75" transform="rotate(10 526.8 484.2)"/><rect x="513.3" y="501.6" width="7.3" height="0.9" fill="#f6f2ec" opacity="0.75" transform="rotate(-23 513.3 501.6)"/><rect x="555.2" y="468.3" width="5.2" height="0.6" fill="#e6e0d8" opacity="0.75" transform="rotate(-28 555.2 468.3)"/><rect x="537.4" y="469.3" width="5.9" height="0.8" fill="#f0ebe4" opacity="0.75" transform="rotate(-25 537.4 469.3)"/><rect x="489.9" y="509.0" width="7.2" height="1.3" fill="#857c72" opacity="0.75" transform="rotate(-38 489.9 509.0)"/><rect x="540.2" y="488.5" width="5.2" height="1.2" fill="#f6f2ec" opacity="0.75" transform="rotate(-15 540.2 488.5)"/><rect x="522.4" y="476.3" width="8.3" height="1.0" fill="#cfc6ba" opacity="0.75" transform="rotate(2 522.4 476.3)"/><rect x="522.6" y="486.2" width="6.2" height="1.4" fill="#938a7f" opacity="0.75" transform="rotate(-28 522.6 486.2)"/><rect x="532.9" y="485.3" width="2.7" height="1.4" fill="#938a7f" opacity="0.75" transform="rotate(-46 532.9 485.3)"/><rect x="567.8" y="505.6" width="6.4" height="1.3" fill="#938a7f" opacity="0.75" transform="rotate(-46 567.8 505.6)"/><rect x="565.7" y="473.9" width="8.0" height="0.8" fill="#e6e0d8" opacity="0.75" transform="rotate(-0 565.7 473.9)"/><rect x="528.8" y="464.8" width="8.4" height="1.1" fill="#d8d0c6" opacity="0.75" transform="rotate(-17 528.8 464.8)"/><rect x="565.9" y="523.0" width="7.3" height="1.4" fill="#938a7f" opacity="0.75" transform="rotate(-40 565.9 523.0)"/><rect x="523.8" y="510.3" width="3.9" height="1.3" fill="#e6e0d8" opacity="0.75" transform="rotate(-25 523.8 510.3)"/><rect x="494.1" y="509.5" width="3.3" height="1.1" fill="#e6e0d8" opacity="0.75" transform="rotate(6 494.1 509.5)"/><rect x="512.2" y="505.3" width="2.7" height="0.8" fill="#857c72" opacity="0.75" transform="rotate(-35 512.2 505.3)"/><rect x="560.0" y="483.8" width="4.8" height="1.1" fill="#e6e0d8" opacity="0.75" transform="rotate(-66 560.0 483.8)"/><rect x="526.8" y="478.4" width="4.6" height="0.7" fill="#f6f2ec" opacity="0.75" transform="rotate(-8 526.8 478.4)"/><rect x="528.5" y="471.4" width="4.4" height="1.4" fill="#d8d0c6" opacity="0.75" transform="rotate(2 528.5 471.4)"/><rect x="514.1" y="513.8" width="8.3" height="0.6" fill="#cfc6ba" opacity="0.75" transform="rotate(-19 514.1 513.8)"/><rect x="576.6" y="471.1" width="6.6" height="0.8" fill="#e6e0d8" opacity="0.75" transform="rotate(0 576.6 471.1)"/><rect x="544.8" y="477.9" width="7.8" height="1.5" fill="#857c72" opacity="0.75" transform="rotate(-48 544.8 477.9)"/><rect x="550.6" y="466.8" width="7.0" height="1.4" fill="#e6e0d8" opacity="0.75" transform="rotate(-34 550.6 466.8)"/><rect x="500.6" y="514.0" width="3.3" height="1.2" fill="#cfc6ba" opacity="0.75" transform="rotate(-48 500.6 514.0)"/><rect x="506.7" y="501.2" width="7.6" height="0.9" fill="#e6e0d8" opacity="0.75" transform="rotate(-17 506.7 501.2)"/><rect x="539.3" y="472.9" width="4.5" height="1.4" fill="#f0ebe4" opacity="0.75" transform="rotate(-17 539.3 472.9)"/><rect x="497.2" y="501.4" width="5.5" height="0.7" fill="#e6e0d8" opacity="0.75" transform="rotate(3 497.2 501.4)"/><rect x="533.8" y="460.9" width="6.4" height="0.9" fill="#f6f2ec" opacity="0.75" transform="rotate(-50 533.8 460.9)"/><rect x="537.3" y="468.7" width="8.9" height="0.8" fill="#cfc6ba" opacity="0.75" transform="rotate(-56 537.3 468.7)"/><rect x="535.4" y="470.1" width="8.3" height="1.5" fill="#857c72" opacity="0.75" transform="rotate(-67 535.4 470.1)"/><rect x="569.3" y="496.0" width="2.5" height="1.4" fill="#e6e0d8" opacity="0.75" transform="rotate(-65 569.3 496.0)"/><rect x="536.2" y="499.9" width="4.8" height="1.2" fill="#938a7f" opacity="0.75" transform="rotate(-7 536.2 499.9)"/><rect x="511.8" y="511.8" width="6.6" height="1.5" fill="#938a7f" opacity="0.75" transform="rotate(-10 511.8 511.8)"/><rect x="501.0" y="508.7" width="3.6" height="1.1" fill="#857c72" opacity="0.75" transform="rotate(-51 501.0 508.7)"/><rect x="535.4" y="474.7" width="7.2" height="1.2" fill="#938a7f" opacity="0.75" transform="rotate(-49 535.4 474.7)"/><rect x="505.4" y="495.7" width="5.7" height="0.6" fill="#cfc6ba" opacity="0.75" transform="rotate(-22 505.4 495.7)"/><rect x="489.8" y="487.1" width="8.2" height="0.9" fill="#938a7f" opacity="0.75" transform="rotate(-21 489.8 487.1)"/><rect x="530.6" y="486.3" width="5.4" height="0.8" fill="#e6e0d8" opacity="0.75" transform="rotate(-6 530.6 486.3)"/><rect x="495.5" y="469.6" width="6.7" height="1.1" fill="#938a7f" opacity="0.75" transform="rotate(-12 495.5 469.6)"/><rect x="498.5" y="478.2" width="2.8" height="0.9" fill="#938a7f" opacity="0.75" transform="rotate(-20 498.5 478.2)"/><rect x="556.8" y="507.7" width="5.7" height="1.2" fill="#857c72" opacity="0.75" transform="rotate(-29 556.8 507.7)"/><rect x="508.4" y="468.4" width="7.0" height="1.3" fill="#e6e0d8" opacity="0.75" transform="rotate(-7 508.4 468.4)"/><rect x="514.1" y="488.3" width="7.0" height="1.2" fill="#d8d0c6" opacity="0.75" transform="rotate(7 514.1 488.3)"/><rect x="530.0" y="507.5" width="8.9" height="0.7" fill="#cfc6ba" opacity="0.75" transform="rotate(-34 530.0 507.5)"/><rect x="575.7" y="458.2" width="5.2" height="1.1" fill="#938a7f" opacity="0.75" transform="rotate(-63 575.7 458.2)"/><polygon points="484,390 578,390 578,392.5 556,392.5 544,392.5 528,394 521,392.5 518,392.5 505,395 486,398 484,398" fill="#c9c0b6"/><rect x="521" y="391" width="7" height="3" fill="#c8605a" opacity="0.8"/><polygon points="484,399.5 500,397.8 518.5,396 516,400.5 510,405 505,408.3 498,405.5 490,405.8 484,406.6" fill="#221f1c"/><polygon points="528,394.5 541.6,394 541.6,401 530,400.5" fill="#2a2724"/><polygon points="484,406.6 490,405.8 498,405.5 505,408.3 510,405 516,400.5 519,397 524,396 532,400 541,402 544.4,404 544.4,413.3 514,412.6 514,422 520,430 523.8,440 520,438 515.6,431.2 500,424 484,417.4" fill="#d5cdc3"/><polygon points="498,408 510,404 520,410 512,416" fill="#e2dbd2" opacity="0.8"/><rect x="556" y="390" width="22" height="12.4" fill="#272625"/><rect x="566.3" y="402.4" width="12" height="6.2" fill="#2a2928"/><rect x="556.7" y="402.4" width="9.6" height="10.2" fill="#d1c9c1"/><rect x="566.3" y="408.5" width="8.3" height="4.1" fill="#5b98cf"/><polygon points="560.8,422.2 578,422.2 578,440 566,446 562.5,442" fill="#272626"/><rect x="514" y="412.6" width="64" height="9.6" fill="#cfcfce"/><rect x="544.4" y="390" width="11.8" height="23.3" fill="#f4f2f0"/><polygon points="514.2,422 540,422 560.8,422 561.5,432 562,441.9 565,462.4 566.3,485 560.8,488.2 548,489 536,488.2 529.3,485 527.9,462.4 525.2,446 520,434" fill="url(#bagL)"/><path d="M535,430 Q540,450 536,470 M546,428 Q550,446 547,466 M556,432 Q559,455 557,476" stroke="#eeeae6" stroke-width="1.2" fill="none" opacity="0.8"/><polygon points="550,466 560.8,462 562,484 552,487" fill="#f0c8a8" opacity="0.6"/><path d="M553,488 Q553,478 557,470 Q559.5,464 560,458" stroke="#f4a24c" stroke-width="2" fill="none" opacity="0.9"/><path d="M553.5,488 Q553.5,478 557.3,470" stroke="#fde2b0" stroke-width="0.8" fill="none" opacity="0.9"/><path d="M551,489 Q549,480 552,474" stroke="#f6b060" stroke-width="1.2" fill="none" opacity="0.8"/><rect x="541" y="488.2" width="17.8" height="31.6" fill="url(#flameL)"/><rect x="542.5" y="512.5" width="15" height="7.3" fill="#3a2a20" opacity="0.85"/><ellipse cx="542.5" cy="521.5" rx="6.5" ry="2.6" fill="#ea9a50" opacity="0.9"/></g><g filter="url(#bl0)"><path d="M486,397.5 Q500,396 518.3,392.7" stroke="#a09078" stroke-width="3.2" fill="none"/><path d="M484,407.2 L492,407.2 Q496,408 500,413 L511.4,425.7 L516.2,426.4" stroke="#9e8e76" stroke-width="3.2" fill="none"/><path d="M518.3,392.7 L530,405 Q534,410.6 540,411 L554.7,412.6" stroke="#a09078" stroke-width="3.2" fill="none"/><path d="M484,406.6 L492,406.6 Q496,407.4 500,412.4 L511,424.8" stroke="#f2ece2" stroke-width="1.1" fill="none"/><path d="M518.8,392.2 L530.5,404.4 Q534.4,410 540,410.4 L554.7,412" stroke="#f2ece2" stroke-width="1.1" fill="none"/></g></g>
<g clip-path="url(#clipR)"><g filter="url(#bl1)"><rect x="592" y="390" width="94" height="136" fill="url(#foilR)"/><rect x="650.1" y="501.1" width="7.7" height="1.4" fill="#e0dcd8" opacity="0.7" transform="rotate(-11 650.1 501.1)"/><rect x="596.6" y="477.6" width="8.6" height="1.2" fill="#d6d2ce" opacity="0.7" transform="rotate(2 596.6 477.6)"/><rect x="627.5" y="511.8" width="5.0" height="0.7" fill="#c2bab2" opacity="0.7" transform="rotate(-50 627.5 511.8)"/><rect x="613.5" y="461.8" width="8.5" height="1.3" fill="#9a92a8" opacity="0.7" transform="rotate(-57 613.5 461.8)"/><rect x="600.5" y="490.5" width="5.4" height="0.7" fill="#d6d2ce" opacity="0.7" transform="rotate(8 600.5 490.5)"/><rect x="612.9" y="456.3" width="8.9" height="1.4" fill="#cac4be" opacity="0.7" transform="rotate(-47 612.9 456.3)"/><rect x="642.5" y="495.6" width="3.8" height="1.4" fill="#8a8078" opacity="0.7" transform="rotate(-15 642.5 495.6)"/><rect x="620.9" y="468.7" width="3.6" height="0.7" fill="#7e7870" opacity="0.7" transform="rotate(-65 620.9 468.7)"/><rect x="667.6" y="487.8" width="6.4" height="1.2" fill="#7e7870" opacity="0.7" transform="rotate(-65 667.6 487.8)"/><rect x="667.7" y="478.9" width="4.6" height="1.0" fill="#d6d2ce" opacity="0.7" transform="rotate(-14 667.7 478.9)"/><rect x="617.1" y="517.8" width="8.7" height="0.9" fill="#e0dcd8" opacity="0.7" transform="rotate(-38 617.1 517.8)"/><rect x="664.9" y="469.1" width="6.3" height="0.6" fill="#cac4be" opacity="0.7" transform="rotate(-66 664.9 469.1)"/><rect x="650.1" y="519.1" width="3.3" height="0.8" fill="#8a8078" opacity="0.7" transform="rotate(-4 650.1 519.1)"/><rect x="625.0" y="468.2" width="5.9" height="1.3" fill="#c2bab2" opacity="0.7" transform="rotate(-61 625.0 468.2)"/><rect x="664.3" y="469.2" width="4.4" height="1.0" fill="#cac4be" opacity="0.7" transform="rotate(8 664.3 469.2)"/><rect x="624.7" y="489.9" width="8.5" height="0.9" fill="#e0dcd8" opacity="0.7" transform="rotate(4 624.7 489.9)"/><rect x="602.3" y="496.3" width="4.5" height="1.3" fill="#c2bab2" opacity="0.7" transform="rotate(-20 602.3 496.3)"/><rect x="656.0" y="522.7" width="3.5" height="0.6" fill="#e0dcd8" opacity="0.7" transform="rotate(9 656.0 522.7)"/><rect x="677.1" y="440.7" width="7.3" height="0.9" fill="#c2bab2" opacity="0.7" transform="rotate(-50 677.1 440.7)"/><rect x="632.0" y="442.7" width="8.5" height="0.6" fill="#9a92a8" opacity="0.7" transform="rotate(-31 632.0 442.7)"/><rect x="612.6" y="521.4" width="6.2" height="0.7" fill="#8a8078" opacity="0.7" transform="rotate(2 612.6 521.4)"/><rect x="603.6" y="474.9" width="3.5" height="1.4" fill="#8a8078" opacity="0.7" transform="rotate(-46 603.6 474.9)"/><rect x="677.0" y="490.7" width="3.6" height="1.1" fill="#c2bab2" opacity="0.7" transform="rotate(7 677.0 490.7)"/><rect x="659.7" y="478.7" width="4.4" height="1.0" fill="#8a8078" opacity="0.7" transform="rotate(-58 659.7 478.7)"/><rect x="668.0" y="483.2" width="3.7" height="1.4" fill="#cac4be" opacity="0.7" transform="rotate(-1 668.0 483.2)"/><rect x="602.0" y="461.1" width="7.6" height="1.4" fill="#9a92a8" opacity="0.7" transform="rotate(-41 602.0 461.1)"/><rect x="665.6" y="468.2" width="6.3" height="0.6" fill="#e0dcd8" opacity="0.7" transform="rotate(-46 665.6 468.2)"/><rect x="657.4" y="461.9" width="5.7" height="1.3" fill="#7e7870" opacity="0.7" transform="rotate(-15 657.4 461.9)"/><rect x="680.1" y="466.9" width="3.7" height="1.4" fill="#9a92a8" opacity="0.7" transform="rotate(-32 680.1 466.9)"/><rect x="616.6" y="495.1" width="5.5" height="1.3" fill="#9a92a8" opacity="0.7" transform="rotate(-18 616.6 495.1)"/><rect x="626.1" y="461.3" width="4.7" height="1.4" fill="#9a92a8" opacity="0.7" transform="rotate(-37 626.1 461.3)"/><rect x="609.5" y="511.7" width="5.4" height="0.9" fill="#cac4be" opacity="0.7" transform="rotate(-43 609.5 511.7)"/><rect x="641.6" y="452.1" width="7.9" height="1.4" fill="#c2bab2" opacity="0.7" transform="rotate(-32 641.6 452.1)"/><rect x="601.1" y="495.0" width="5.2" height="1.2" fill="#e0dcd8" opacity="0.7" transform="rotate(5 601.1 495.0)"/><rect x="653.9" y="473.8" width="6.6" height="1.3" fill="#c2bab2" opacity="0.7" transform="rotate(-19 653.9 473.8)"/><rect x="683.6" y="454.6" width="6.3" height="1.2" fill="#9a92a8" opacity="0.7" transform="rotate(-56 683.6 454.6)"/><rect x="655.7" y="491.6" width="2.8" height="1.0" fill="#d6d2ce" opacity="0.7" transform="rotate(-52 655.7 491.6)"/><rect x="674.3" y="447.4" width="8.8" height="1.0" fill="#8a8078" opacity="0.7" transform="rotate(-26 674.3 447.4)"/><rect x="635.9" y="470.3" width="6.5" height="1.1" fill="#7e7870" opacity="0.7" transform="rotate(-51 635.9 470.3)"/><rect x="594.1" y="472.5" width="4.3" height="1.0" fill="#9a92a8" opacity="0.7" transform="rotate(-61 594.1 472.5)"/><rect x="643.3" y="520.0" width="6.1" height="0.9" fill="#e0dcd8" opacity="0.7" transform="rotate(-46 643.3 520.0)"/><rect x="624.5" y="487.4" width="8.7" height="1.3" fill="#9a92a8" opacity="0.7" transform="rotate(-36 624.5 487.4)"/><rect x="644.8" y="483.8" width="5.5" height="0.7" fill="#8a8078" opacity="0.7" transform="rotate(-39 644.8 483.8)"/><rect x="680.1" y="520.3" width="6.5" height="0.9" fill="#d6d2ce" opacity="0.7" transform="rotate(1 680.1 520.3)"/><rect x="628.4" y="465.7" width="8.5" height="1.1" fill="#e0dcd8" opacity="0.7" transform="rotate(-44 628.4 465.7)"/><rect x="627.8" y="474.7" width="4.0" height="0.9" fill="#8a8078" opacity="0.7" transform="rotate(8 627.8 474.7)"/><rect x="628.6" y="510.7" width="3.5" height="1.1" fill="#7e7870" opacity="0.7" transform="rotate(-11 628.6 510.7)"/><rect x="638.7" y="473.3" width="4.6" height="1.5" fill="#7e7870" opacity="0.7" transform="rotate(-31 638.7 473.3)"/><rect x="606.9" y="440.0" width="6.8" height="1.5" fill="#d6d2ce" opacity="0.7" transform="rotate(-50 606.9 440.0)"/><rect x="664.4" y="508.3" width="2.6" height="1.1" fill="#8a8078" opacity="0.7" transform="rotate(-48 664.4 508.3)"/><rect x="664.4" y="458.9" width="4.2" height="0.7" fill="#7e7870" opacity="0.7" transform="rotate(9 664.4 458.9)"/><rect x="638.3" y="522.4" width="5.9" height="1.4" fill="#d6d2ce" opacity="0.7" transform="rotate(0 638.3 522.4)"/><rect x="595.5" y="448.7" width="4.3" height="1.2" fill="#c2bab2" opacity="0.7" transform="rotate(-21 595.5 448.7)"/><rect x="641.7" y="477.5" width="4.8" height="1.3" fill="#d6d2ce" opacity="0.7" transform="rotate(-23 641.7 477.5)"/><rect x="594.3" y="485.0" width="7.0" height="0.7" fill="#cac4be" opacity="0.7" transform="rotate(-15 594.3 485.0)"/><rect x="595.3" y="504.2" width="5.3" height="1.1" fill="#c2bab2" opacity="0.7" transform="rotate(-13 595.3 504.2)"/><rect x="652.4" y="511.0" width="8.0" height="1.0" fill="#c2bab2" opacity="0.7" transform="rotate(-15 652.4 511.0)"/><rect x="611.7" y="463.2" width="7.9" height="0.7" fill="#c2bab2" opacity="0.7" transform="rotate(-3 611.7 463.2)"/><rect x="664.1" y="487.5" width="6.7" height="1.0" fill="#cac4be" opacity="0.7" transform="rotate(-45 664.1 487.5)"/><rect x="637.1" y="484.7" width="5.7" height="0.9" fill="#e0dcd8" opacity="0.7" transform="rotate(-58 637.1 484.7)"/><rect x="642.7" y="442.1" width="7.3" height="0.8" fill="#d6d2ce" opacity="0.7" transform="rotate(-63 642.7 442.1)"/><rect x="653.7" y="440.2" width="7.2" height="1.5" fill="#c2bab2" opacity="0.7" transform="rotate(10 653.7 440.2)"/><rect x="637.8" y="448.5" width="3.3" height="1.2" fill="#d6d2ce" opacity="0.7" transform="rotate(-4 637.8 448.5)"/><rect x="658.1" y="449.4" width="4.4" height="1.4" fill="#e0dcd8" opacity="0.7" transform="rotate(-58 658.1 449.4)"/><rect x="610.7" y="506.2" width="2.9" height="0.8" fill="#c2bab2" opacity="0.7" transform="rotate(-26 610.7 506.2)"/><rect x="628.1" y="444.1" width="2.9" height="1.1" fill="#e0dcd8" opacity="0.7" transform="rotate(-11 628.1 444.1)"/><rect x="606.1" y="474.7" width="4.5" height="1.1" fill="#c2bab2" opacity="0.7" transform="rotate(-31 606.1 474.7)"/><rect x="627.7" y="442.7" width="7.0" height="0.7" fill="#e0dcd8" opacity="0.7" transform="rotate(-19 627.7 442.7)"/><rect x="620.1" y="518.1" width="6.1" height="0.8" fill="#cac4be" opacity="0.7" transform="rotate(-65 620.1 518.1)"/><rect x="616.9" y="501.8" width="5.9" height="0.7" fill="#7e7870" opacity="0.7" transform="rotate(-51 616.9 501.8)"/><rect x="634.8" y="471.1" width="3.4" height="0.6" fill="#e0dcd8" opacity="0.7" transform="rotate(-43 634.8 471.1)"/><rect x="654.1" y="445.8" width="3.3" height="1.1" fill="#8a8078" opacity="0.7" transform="rotate(-51 654.1 445.8)"/><rect x="637.2" y="465.5" width="7.7" height="0.6" fill="#d6d2ce" opacity="0.7" transform="rotate(-12 637.2 465.5)"/><rect x="670.3" y="518.3" width="5.3" height="1.3" fill="#d6d2ce" opacity="0.7" transform="rotate(-10 670.3 518.3)"/><rect x="681.5" y="494.5" width="7.8" height="0.7" fill="#7e7870" opacity="0.7" transform="rotate(-20 681.5 494.5)"/><rect x="669.2" y="462.6" width="8.5" height="1.2" fill="#8a8078" opacity="0.7" transform="rotate(-6 669.2 462.6)"/><rect x="606.3" y="508.6" width="6.7" height="1.3" fill="#9a92a8" opacity="0.7" transform="rotate(-35 606.3 508.6)"/><rect x="626.6" y="441.1" width="9.0" height="0.8" fill="#d6d2ce" opacity="0.7" transform="rotate(-56 626.6 441.1)"/><rect x="602.7" y="440.8" width="3.8" height="0.6" fill="#8a8078" opacity="0.7" transform="rotate(1 602.7 440.8)"/><rect x="653.5" y="467.6" width="5.3" height="0.9" fill="#8a8078" opacity="0.7" transform="rotate(5 653.5 467.6)"/><rect x="623.1" y="477.3" width="3.7" height="1.2" fill="#9a92a8" opacity="0.7" transform="rotate(-64 623.1 477.3)"/><rect x="628.7" y="512.8" width="3.5" height="0.8" fill="#cac4be" opacity="0.7" transform="rotate(-48 628.7 512.8)"/><rect x="661.5" y="495.1" width="2.7" height="1.4" fill="#9a92a8" opacity="0.7" transform="rotate(-42 661.5 495.1)"/><rect x="627.2" y="517.7" width="7.0" height="1.2" fill="#cac4be" opacity="0.7" transform="rotate(-32 627.2 517.7)"/><rect x="604.6" y="494.8" width="4.4" height="1.2" fill="#cac4be" opacity="0.7" transform="rotate(-12 604.6 494.8)"/><rect x="597.0" y="498.8" width="6.2" height="1.2" fill="#c2bab2" opacity="0.7" transform="rotate(-21 597.0 498.8)"/><rect x="626.8" y="464.5" width="5.5" height="0.9" fill="#c2bab2" opacity="0.7" transform="rotate(-11 626.8 464.5)"/><rect x="636.1" y="503.9" width="3.6" height="0.8" fill="#e0dcd8" opacity="0.7" transform="rotate(-66 636.1 503.9)"/><rect x="632.8" y="520.9" width="2.5" height="0.7" fill="#8a8078" opacity="0.7" transform="rotate(-8 632.8 520.9)"/><rect x="609.3" y="440.8" width="7.9" height="1.4" fill="#d6d2ce" opacity="0.7" transform="rotate(-25 609.3 440.8)"/><rect x="658.5" y="458.1" width="7.7" height="0.7" fill="#c2bab2" opacity="0.7" transform="rotate(-32 658.5 458.1)"/><rect x="615.9" y="442.3" width="5.1" height="0.7" fill="#8a8078" opacity="0.7" transform="rotate(-50 615.9 442.3)"/><rect x="634.1" y="492.4" width="8.2" height="1.5" fill="#c2bab2" opacity="0.7" transform="rotate(-54 634.1 492.4)"/><rect x="639.8" y="472.2" width="6.0" height="0.7" fill="#d6d2ce" opacity="0.7" transform="rotate(-45 639.8 472.2)"/><rect x="601.8" y="521.7" width="3.6" height="0.7" fill="#e0dcd8" opacity="0.7" transform="rotate(-12 601.8 521.7)"/><rect x="595.6" y="483.9" width="5.7" height="1.1" fill="#c2bab2" opacity="0.7" transform="rotate(-40 595.6 483.9)"/><rect x="605.9" y="439.1" width="7.4" height="1.2" fill="#cac4be" opacity="0.7" transform="rotate(1 605.9 439.1)"/><rect x="643.9" y="449.8" width="5.6" height="1.3" fill="#8a8078" opacity="0.7" transform="rotate(-49 643.9 449.8)"/><rect x="622.2" y="449.0" width="3.0" height="0.8" fill="#8a8078" opacity="0.7" transform="rotate(-63 622.2 449.0)"/><rect x="681.1" y="494.6" width="4.3" height="1.0" fill="#c2bab2" opacity="0.7" transform="rotate(-50 681.1 494.6)"/><rect x="612.0" y="462.3" width="4.9" height="0.7" fill="#7e7870" opacity="0.7" transform="rotate(-36 612.0 462.3)"/><rect x="628.2" y="503.4" width="2.5" height="0.9" fill="#cac4be" opacity="0.7" transform="rotate(5 628.2 503.4)"/><rect x="645.7" y="475.6" width="7.8" height="1.2" fill="#c2bab2" opacity="0.7" transform="rotate(6 645.7 475.6)"/><rect x="598.2" y="474.3" width="3.2" height="1.3" fill="#7e7870" opacity="0.7" transform="rotate(-25 598.2 474.3)"/><rect x="599.9" y="452.4" width="4.2" height="1.2" fill="#d6d2ce" opacity="0.7" transform="rotate(-47 599.9 452.4)"/><rect x="642.8" y="500.8" width="2.7" height="0.7" fill="#9a92a8" opacity="0.7" transform="rotate(8 642.8 500.8)"/><rect x="626.1" y="511.1" width="8.7" height="1.2" fill="#8a8078" opacity="0.7" transform="rotate(-52 626.1 511.1)"/><rect x="605.3" y="455.1" width="4.8" height="0.7" fill="#cac4be" opacity="0.7" transform="rotate(-20 605.3 455.1)"/><rect x="659.4" y="446.1" width="5.9" height="0.8" fill="#8a8078" opacity="0.7" transform="rotate(-13 659.4 446.1)"/><rect x="662.8" y="474.9" width="5.3" height="0.9" fill="#cac4be" opacity="0.7" transform="rotate(-34 662.8 474.9)"/><rect x="635.5" y="474.9" width="5.4" height="1.3" fill="#e0dcd8" opacity="0.7" transform="rotate(5 635.5 474.9)"/><rect x="636.6" y="479.8" width="2.5" height="0.7" fill="#c2bab2" opacity="0.7" transform="rotate(-2 636.6 479.8)"/><rect x="598.7" y="521.1" width="2.7" height="1.1" fill="#7e7870" opacity="0.7" transform="rotate(-31 598.7 521.1)"/><rect x="629.3" y="456.3" width="4.3" height="0.8" fill="#7e7870" opacity="0.7" transform="rotate(-25 629.3 456.3)"/><rect x="662.8" y="504.7" width="4.9" height="1.3" fill="#c2bab2" opacity="0.7" transform="rotate(-5 662.8 504.7)"/><rect x="669.6" y="510.2" width="6.5" height="1.0" fill="#9a92a8" opacity="0.7" transform="rotate(-59 669.6 510.2)"/><rect x="615.4" y="470.4" width="3.1" height="1.0" fill="#7e7870" opacity="0.7" transform="rotate(-10 615.4 470.4)"/><rect x="675.0" y="454.9" width="7.7" height="0.9" fill="#9a92a8" opacity="0.7" transform="rotate(-15 675.0 454.9)"/><rect x="642.0" y="445.7" width="3.8" height="1.2" fill="#e0dcd8" opacity="0.7" transform="rotate(-62 642.0 445.7)"/><rect x="646.8" y="453.7" width="5.0" height="0.9" fill="#7e7870" opacity="0.7" transform="rotate(-68 646.8 453.7)"/><rect x="640.2" y="480.6" width="6.0" height="1.2" fill="#9a92a8" opacity="0.7" transform="rotate(-34 640.2 480.6)"/><rect x="667.4" y="516.5" width="7.0" height="1.2" fill="#9a92a8" opacity="0.7" transform="rotate(-27 667.4 516.5)"/><rect x="631.5" y="519.5" width="2.6" height="1.3" fill="#7e7870" opacity="0.7" transform="rotate(-53 631.5 519.5)"/><rect x="601.0" y="445.4" width="4.8" height="1.1" fill="#c2bab2" opacity="0.7" transform="rotate(-9 601.0 445.4)"/><rect x="631.2" y="520.3" width="2.6" height="1.4" fill="#d6d2ce" opacity="0.7" transform="rotate(-51 631.2 520.3)"/><rect x="661.8" y="494.9" width="8.7" height="1.4" fill="#9a92a8" opacity="0.7" transform="rotate(-15 661.8 494.9)"/><rect x="677.9" y="489.5" width="6.2" height="1.0" fill="#d6d2ce" opacity="0.7" transform="rotate(-63 677.9 489.5)"/><rect x="615.5" y="520.8" width="6.0" height="1.0" fill="#8a8078" opacity="0.7" transform="rotate(-70 615.5 520.8)"/><rect x="628.0" y="501.8" width="5.9" height="0.8" fill="#7e7870" opacity="0.7" transform="rotate(-16 628.0 501.8)"/><rect x="628.8" y="447.3" width="7.0" height="1.1" fill="#7e7870" opacity="0.7" transform="rotate(-13 628.8 447.3)"/><rect x="616.4" y="446.5" width="4.4" height="1.3" fill="#d6d2ce" opacity="0.7" transform="rotate(-6 616.4 446.5)"/><rect x="674.8" y="452.2" width="6.6" height="1.3" fill="#d6d2ce" opacity="0.7" transform="rotate(-52 674.8 452.2)"/><rect x="645.3" y="491.2" width="6.7" height="1.1" fill="#cac4be" opacity="0.7" transform="rotate(-37 645.3 491.2)"/><rect x="632.3" y="482.9" width="8.4" height="0.9" fill="#e0dcd8" opacity="0.7" transform="rotate(-48 632.3 482.9)"/><rect x="674.0" y="466.1" width="5.2" height="0.7" fill="#e0dcd8" opacity="0.7" transform="rotate(-46 674.0 466.1)"/><rect x="648.3" y="453.6" width="3.7" height="1.1" fill="#c2bab2" opacity="0.7" transform="rotate(-18 648.3 453.6)"/><rect x="623.7" y="444.5" width="8.7" height="0.7" fill="#d6d2ce" opacity="0.7" transform="rotate(-28 623.7 444.5)"/><rect x="622.7" y="510.3" width="6.7" height="1.4" fill="#c2bab2" opacity="0.7" transform="rotate(-52 622.7 510.3)"/><rect x="649.4" y="505.8" width="8.0" height="0.6" fill="#d6d2ce" opacity="0.7" transform="rotate(-16 649.4 505.8)"/><rect x="602.4" y="450.9" width="6.5" height="0.7" fill="#c2bab2" opacity="0.7" transform="rotate(-9 602.4 450.9)"/><rect x="623.0" y="503.4" width="3.7" height="1.4" fill="#e0dcd8" opacity="0.7" transform="rotate(-26 623.0 503.4)"/><rect x="650.3" y="520.0" width="3.2" height="0.7" fill="#cac4be" opacity="0.7" transform="rotate(-65 650.3 520.0)"/><rect x="623.2" y="452.7" width="8.3" height="1.5" fill="#cac4be" opacity="0.7" transform="rotate(-9 623.2 452.7)"/><rect x="630.3" y="484.2" width="4.9" height="0.7" fill="#7e7870" opacity="0.7" transform="rotate(-22 630.3 484.2)"/><rect x="605.9" y="438.3" width="5.0" height="0.9" fill="#8a8078" opacity="0.7" transform="rotate(-11 605.9 438.3)"/><rect x="662.4" y="499.3" width="4.4" height="0.7" fill="#7e7870" opacity="0.7" transform="rotate(-32 662.4 499.3)"/><rect x="661.6" y="454.6" width="4.7" height="0.7" fill="#c2bab2" opacity="0.7" transform="rotate(2 661.6 454.6)"/><rect x="656.7" y="505.1" width="6.2" height="0.9" fill="#9a92a8" opacity="0.7" transform="rotate(-43 656.7 505.1)"/><rect x="599.7" y="474.8" width="3.9" height="1.5" fill="#c2bab2" opacity="0.7" transform="rotate(-48 599.7 474.8)"/><rect x="600.6" y="461.0" width="3.1" height="1.0" fill="#e0dcd8" opacity="0.7" transform="rotate(9 600.6 461.0)"/><rect x="669.9" y="510.7" width="4.1" height="1.0" fill="#d6d2ce" opacity="0.7" transform="rotate(-60 669.9 510.7)"/><rect x="594.5" y="503.1" width="4.8" height="0.6" fill="#8a8078" opacity="0.7" transform="rotate(-50 594.5 503.1)"/><rect x="680.1" y="511.8" width="3.0" height="1.5" fill="#9a92a8" opacity="0.7" transform="rotate(-54 680.1 511.8)"/><rect x="633.8" y="478.1" width="3.1" height="0.9" fill="#c2bab2" opacity="0.7" transform="rotate(6 633.8 478.1)"/><rect x="636.3" y="439.9" width="3.5" height="1.3" fill="#9a92a8" opacity="0.7" transform="rotate(-30 636.3 439.9)"/><rect x="647.4" y="514.7" width="6.7" height="1.2" fill="#d6d2ce" opacity="0.7" transform="rotate(-67 647.4 514.7)"/><rect x="631.9" y="499.5" width="7.8" height="1.3" fill="#8a8078" opacity="0.7" transform="rotate(-35 631.9 499.5)"/><rect x="595.3" y="507.3" width="3.6" height="0.9" fill="#cac4be" opacity="0.7" transform="rotate(-46 595.3 507.3)"/><rect x="632.0" y="520.6" width="9.0" height="0.8" fill="#7e7870" opacity="0.7" transform="rotate(-36 632.0 520.6)"/><rect x="606.5" y="468.9" width="2.5" height="1.2" fill="#9a92a8" opacity="0.7" transform="rotate(-8 606.5 468.9)"/><rect x="635.2" y="444.3" width="5.0" height="1.4" fill="#cac4be" opacity="0.7" transform="rotate(1 635.2 444.3)"/><rect x="652.3" y="501.5" width="5.7" height="0.9" fill="#8a8078" opacity="0.7" transform="rotate(-33 652.3 501.5)"/><rect x="615.3" y="516.2" width="8.6" height="0.6" fill="#8a8078" opacity="0.7" transform="rotate(-55 615.3 516.2)"/><rect x="601.7" y="449.2" width="6.8" height="0.9" fill="#7e7870" opacity="0.7" transform="rotate(-53 601.7 449.2)"/><rect x="640.6" y="520.9" width="7.1" height="0.7" fill="#c2bab2" opacity="0.7" transform="rotate(-61 640.6 520.9)"/><rect x="629.9" y="463.8" width="8.4" height="1.1" fill="#9a92a8" opacity="0.7" transform="rotate(-35 629.9 463.8)"/><rect x="615.7" y="486.3" width="4.2" height="1.1" fill="#cac4be" opacity="0.7" transform="rotate(-11 615.7 486.3)"/><rect x="615.4" y="494.5" width="2.9" height="0.6" fill="#cac4be" opacity="0.7" transform="rotate(-53 615.4 494.5)"/><rect x="639.4" y="489.9" width="7.7" height="0.7" fill="#d6d2ce" opacity="0.7" transform="rotate(-30 639.4 489.9)"/><rect x="656.3" y="513.2" width="7.5" height="1.1" fill="#d6d2ce" opacity="0.7" transform="rotate(-35 656.3 513.2)"/><rect x="652.9" y="516.6" width="4.9" height="1.1" fill="#e0dcd8" opacity="0.7" transform="rotate(-13 652.9 516.6)"/><rect x="679.5" y="522.0" width="4.5" height="0.7" fill="#d6d2ce" opacity="0.7" transform="rotate(5 679.5 522.0)"/><rect x="652.0" y="442.7" width="3.9" height="1.2" fill="#e0dcd8" opacity="0.7" transform="rotate(-62 652.0 442.7)"/><rect x="620.9" y="484.9" width="7.9" height="0.7" fill="#8a8078" opacity="0.7" transform="rotate(-42 620.9 484.9)"/><rect x="594.3" y="486.0" width="6.2" height="0.6" fill="#d6d2ce" opacity="0.7" transform="rotate(-11 594.3 486.0)"/><rect x="624.8" y="450.2" width="8.8" height="0.8" fill="#9a92a8" opacity="0.7" transform="rotate(-48 624.8 450.2)"/><rect x="606.9" y="448.6" width="4.1" height="0.6" fill="#cac4be" opacity="0.7" transform="rotate(-50 606.9 448.6)"/><rect x="650.6" y="458.9" width="4.2" height="1.4" fill="#9a92a8" opacity="0.7" transform="rotate(-35 650.6 458.9)"/><rect x="609.9" y="449.7" width="2.8" height="1.3" fill="#d6d2ce" opacity="0.7" transform="rotate(-25 609.9 449.7)"/><rect x="635.0" y="497.0" width="6.5" height="1.2" fill="#d6d2ce" opacity="0.7" transform="rotate(-18 635.0 497.0)"/><rect x="647.0" y="448.0" width="7.2" height="1.2" fill="#cac4be" opacity="0.7" transform="rotate(-21 647.0 448.0)"/><rect x="642.3" y="497.2" width="7.1" height="1.2" fill="#d6d2ce" opacity="0.7" transform="rotate(-23 642.3 497.2)"/><rect x="600.0" y="477.1" width="6.7" height="1.4" fill="#d6d2ce" opacity="0.7" transform="rotate(-12 600.0 477.1)"/><rect x="680.1" y="495.8" width="4.3" height="1.0" fill="#8a8078" opacity="0.7" transform="rotate(-46 680.1 495.8)"/><rect x="620.9" y="438.1" width="7.4" height="1.1" fill="#8a8078" opacity="0.7" transform="rotate(2 620.9 438.1)"/><rect x="628.3" y="493.8" width="8.6" height="0.9" fill="#8a8078" opacity="0.7" transform="rotate(-21 628.3 493.8)"/><rect x="601.9" y="468.0" width="3.0" height="1.0" fill="#c2bab2" opacity="0.7" transform="rotate(-20 601.9 468.0)"/><rect x="629.5" y="454.7" width="8.4" height="0.8" fill="#e0dcd8" opacity="0.7" transform="rotate(-30 629.5 454.7)"/><rect x="625.0" y="439.4" width="5.3" height="1.1" fill="#cac4be" opacity="0.7" transform="rotate(-30 625.0 439.4)"/><rect x="644.0" y="494.3" width="5.2" height="1.3" fill="#7e7870" opacity="0.7" transform="rotate(-3 644.0 494.3)"/><rect x="649.5" y="454.7" width="5.3" height="1.4" fill="#8a8078" opacity="0.7" transform="rotate(-29 649.5 454.7)"/><rect x="650.6" y="492.5" width="8.7" height="0.7" fill="#7e7870" opacity="0.7" transform="rotate(-8 650.6 492.5)"/><rect x="602.6" y="512.0" width="4.3" height="1.3" fill="#9a92a8" opacity="0.7" transform="rotate(-56 602.6 512.0)"/><rect x="681.5" y="470.7" width="6.6" height="1.3" fill="#8a8078" opacity="0.7" transform="rotate(-49 681.5 470.7)"/><rect x="671.2" y="513.0" width="4.5" height="0.9" fill="#9a92a8" opacity="0.7" transform="rotate(-43 671.2 513.0)"/><rect x="630.8" y="443.6" width="2.9" height="0.6" fill="#c2bab2" opacity="0.7" transform="rotate(-62 630.8 443.6)"/><rect x="674.7" y="481.0" width="3.2" height="1.0" fill="#d6d2ce" opacity="0.7" transform="rotate(-52 674.7 481.0)"/><rect x="678.5" y="484.0" width="6.7" height="1.2" fill="#7e7870" opacity="0.7" transform="rotate(-44 678.5 484.0)"/><rect x="679.1" y="477.6" width="3.2" height="1.3" fill="#e0dcd8" opacity="0.7" transform="rotate(-61 679.1 477.6)"/><rect x="602.6" y="493.6" width="6.8" height="0.9" fill="#7e7870" opacity="0.7" transform="rotate(-61 602.6 493.6)"/><rect x="643.6" y="520.7" width="5.3" height="0.8" fill="#cac4be" opacity="0.7" transform="rotate(-29 643.6 520.7)"/><rect x="628.4" y="491.9" width="8.5" height="0.9" fill="#e0dcd8" opacity="0.7" transform="rotate(-5 628.4 491.9)"/><rect x="600.4" y="464.0" width="8.1" height="1.2" fill="#e0dcd8" opacity="0.7" transform="rotate(-45 600.4 464.0)"/><rect x="676.6" y="486.8" width="5.8" height="0.9" fill="#7e7870" opacity="0.7" transform="rotate(-10 676.6 486.8)"/><rect x="635.1" y="472.3" width="7.1" height="0.7" fill="#8a8078" opacity="0.7" transform="rotate(-22 635.1 472.3)"/><rect x="656.5" y="500.0" width="3.2" height="1.5" fill="#cac4be" opacity="0.7" transform="rotate(-59 656.5 500.0)"/><rect x="651.8" y="499.1" width="4.2" height="1.0" fill="#9a92a8" opacity="0.7" transform="rotate(-16 651.8 499.1)"/><rect x="656.9" y="446.9" width="6.3" height="0.8" fill="#d6d2ce" opacity="0.7" transform="rotate(-41 656.9 446.9)"/><rect x="642.8" y="485.2" width="3.8" height="0.6" fill="#8a8078" opacity="0.7" transform="rotate(-24 642.8 485.2)"/><rect x="651.5" y="479.5" width="8.2" height="1.4" fill="#7e7870" opacity="0.7" transform="rotate(-47 651.5 479.5)"/><rect x="599.2" y="462.5" width="5.9" height="0.9" fill="#9a92a8" opacity="0.7" transform="rotate(-40 599.2 462.5)"/><rect x="605.5" y="493.7" width="7.4" height="1.3" fill="#cac4be" opacity="0.7" transform="rotate(-70 605.5 493.7)"/><rect x="622.1" y="510.5" width="6.8" height="1.0" fill="#c2bab2" opacity="0.7" transform="rotate(-3 622.1 510.5)"/><rect x="635.5" y="515.7" width="5.9" height="0.9" fill="#9a92a8" opacity="0.7" transform="rotate(-15 635.5 515.7)"/><rect x="665.6" y="451.5" width="5.7" height="0.6" fill="#9a92a8" opacity="0.7" transform="rotate(-7 665.6 451.5)"/><rect x="635.9" y="469.7" width="4.0" height="0.6" fill="#c2bab2" opacity="0.7" transform="rotate(8 635.9 469.7)"/><rect x="612.2" y="520.8" width="8.0" height="0.8" fill="#c2bab2" opacity="0.7" transform="rotate(-4 612.2 520.8)"/><rect x="603.2" y="473.5" width="8.1" height="1.2" fill="#cac4be" opacity="0.7" transform="rotate(4 603.2 473.5)"/><rect x="653.1" y="487.4" width="7.3" height="1.1" fill="#7e7870" opacity="0.7" transform="rotate(-35 653.1 487.4)"/><rect x="614.1" y="446.0" width="6.1" height="1.1" fill="#9a92a8" opacity="0.7" transform="rotate(-6 614.1 446.0)"/><rect x="655.8" y="443.2" width="4.2" height="1.4" fill="#d6d2ce" opacity="0.7" transform="rotate(-58 655.8 443.2)"/><rect x="635.7" y="454.1" width="3.7" height="0.8" fill="#9a92a8" opacity="0.7" transform="rotate(1 635.7 454.1)"/><rect x="636.2" y="462.6" width="3.0" height="1.3" fill="#e0dcd8" opacity="0.7" transform="rotate(-14 636.2 462.6)"/><rect x="650.1" y="509.0" width="6.5" height="1.2" fill="#e0dcd8" opacity="0.7" transform="rotate(-2 650.1 509.0)"/><rect x="612.4" y="493.4" width="5.4" height="1.1" fill="#c2bab2" opacity="0.7" transform="rotate(7 612.4 493.4)"/><rect x="624.6" y="446.5" width="4.9" height="0.7" fill="#d6d2ce" opacity="0.7" transform="rotate(-52 624.6 446.5)"/><rect x="597.0" y="442.9" width="3.7" height="1.4" fill="#9a92a8" opacity="0.7" transform="rotate(-39 597.0 442.9)"/><rect x="679.8" y="514.0" width="7.0" height="0.8" fill="#8a8078" opacity="0.7" transform="rotate(-38 679.8 514.0)"/><rect x="607.3" y="519.7" width="4.3" height="1.1" fill="#c2bab2" opacity="0.7" transform="rotate(-54 607.3 519.7)"/><rect x="671.4" y="496.0" width="7.5" height="1.4" fill="#9a92a8" opacity="0.7" transform="rotate(3 671.4 496.0)"/><polygon points="599,500 606,494 616,493.7 618.4,500 610,507.4 601,506" fill="#7078a0" opacity="0.5"/><polygon points="616,508 624,503 628,510 620,515" fill="#7a80a8" opacity="0.35"/><g filter="url(#bl3)"><polygon points="650,494 668,490 670,518 654,520" fill="#d8d0c8" opacity="0.8"/></g><rect x="592" y="390" width="21" height="8.2" fill="#cdc7c1"/><rect x="592" y="398.2" width="21" height="5.5" fill="#6a6159"/><rect x="592" y="403.7" width="40" height="5.5" fill="#c9c5c1"/><polygon points="592,409.2 621.2,409.2 621.2,435.3 612,437 600,440.5 592,440.5" fill="#3c3530"/><g filter="url(#bl3)"><ellipse cx="612" cy="416" rx="10" ry="20" fill="url(#flameR)"/><path d="M604,436 Q601,424 606,412 Q609,404 608,395 Q616,401 619,410 Q622,422 618,436 Z" fill="#ec9046" opacity="0.95"/><path d="M610,430 Q608,418 612,406" stroke="#fac27a" stroke-width="2" fill="none"/><ellipse cx="599" cy="426" rx="3" ry="7" fill="#7a746e" opacity="0.6"/></g><polygon points="619.8,416 632,414 636,424 634.9,432.5 619.8,432.5" fill="#b3c2d0"/><polygon points="646,412.6 686,405 686,490 678.8,485 668,470 658,450 651.4,438" fill="#2c2c2c"/><rect x="678.8" y="398" width="8" height="10" fill="#2c2c2c"/><path d="M648.6,390 L678.8,390 L678.8,408 Q677,412.6 670,412.6 L654,412.6 Q648.6,411 648.6,406 Z" fill="#e6e9eb"/><rect x="678.8" y="390" width="8" height="8" fill="#d6d2ce"/><rect x="655" y="398.5" width="13" height="2" fill="#6ea4d8" opacity="0.75"/><rect x="643" y="407.8" width="14" height="8.2" fill="#f5f3f1"/><path d="M612.3,390 L652,390 Q653.5,396 651,401 L646,408 Q641,413 636,412 L634,416 Q630,418 626,414 L624,404 Q618,399 612.3,396 Z" fill="#5b55c8"/><path d="M632,398 Q636,404 634,412" stroke="#4a40a8" stroke-width="1" fill="none" opacity="0.7"/><path d="M610.2,433 L640,432.5 L651.4,436 L651.4,442 L648.6,462.4 L641.8,473.4 L640.4,482 L638,498 Q630,501 620,499 L612,494 Q607.5,486 607.5,469.3 L610.2,452.8 Z" fill="#ece3df"/><line x1="610.2" y1="437" x2="651" y2="438.5" stroke="#d8ccc6" stroke-width="0.8"/><ellipse cx="605.5" cy="461" rx="2.2" ry="6" fill="#e2904a" opacity="0.7"/><ellipse cx="632" cy="488" rx="4.5" ry="6" fill="#dca080" opacity="0.6"/><polygon points="632,407.8 641,408.5 651.4,430 660,452 672,480 683,505 679,509 667.8,505 660,488 650,462 641,440" fill="#f3efeb"/><line x1="637" y1="410" x2="675" y2="504" stroke="#d6cec8" stroke-width="0.7"/><ellipse cx="675" cy="504.5" rx="4" ry="3" fill="#d8742c" opacity="0.9"/><ellipse cx="666" cy="500" rx="3" ry="2" fill="#f0b060" opacity="0.8"/><line x1="655.5" y1="443.9" x2="686" y2="447.6" stroke="#aeaba7" stroke-width="0.8"/><path d="M592,433 Q598,438 604,439 L611,439 M596,412 Q605,407 611.6,409.2 Q616,411 618.4,413.3 L626.7,425.7 Q630,430 634,432 L651.4,438" stroke="#b2a590" stroke-width="1.5" fill="none"/></g></g>
<rect x="485.7" y="524.3" width="90.1" height="16.9" fill="#000"/>
<rect x="593.9" y="524.3" width="89.6" height="16.9" fill="#000"/>
<text x="570.30" y="537.24" font-size="11" text-anchor="end" fill="#fff" color="#fff" font-weight="normal" transform="translate(570.30 533.30) scale(1 1.035) translate(-570.30 -533.30)">ES</text>
<text x="677.00" y="537.24" font-size="11" text-anchor="end" fill="#fff" color="#fff" font-weight="normal" transform="translate(677.00 533.30) scale(1 1.035) translate(-677.00 -533.30)">LP40</text>
</svg>
</body></html>
